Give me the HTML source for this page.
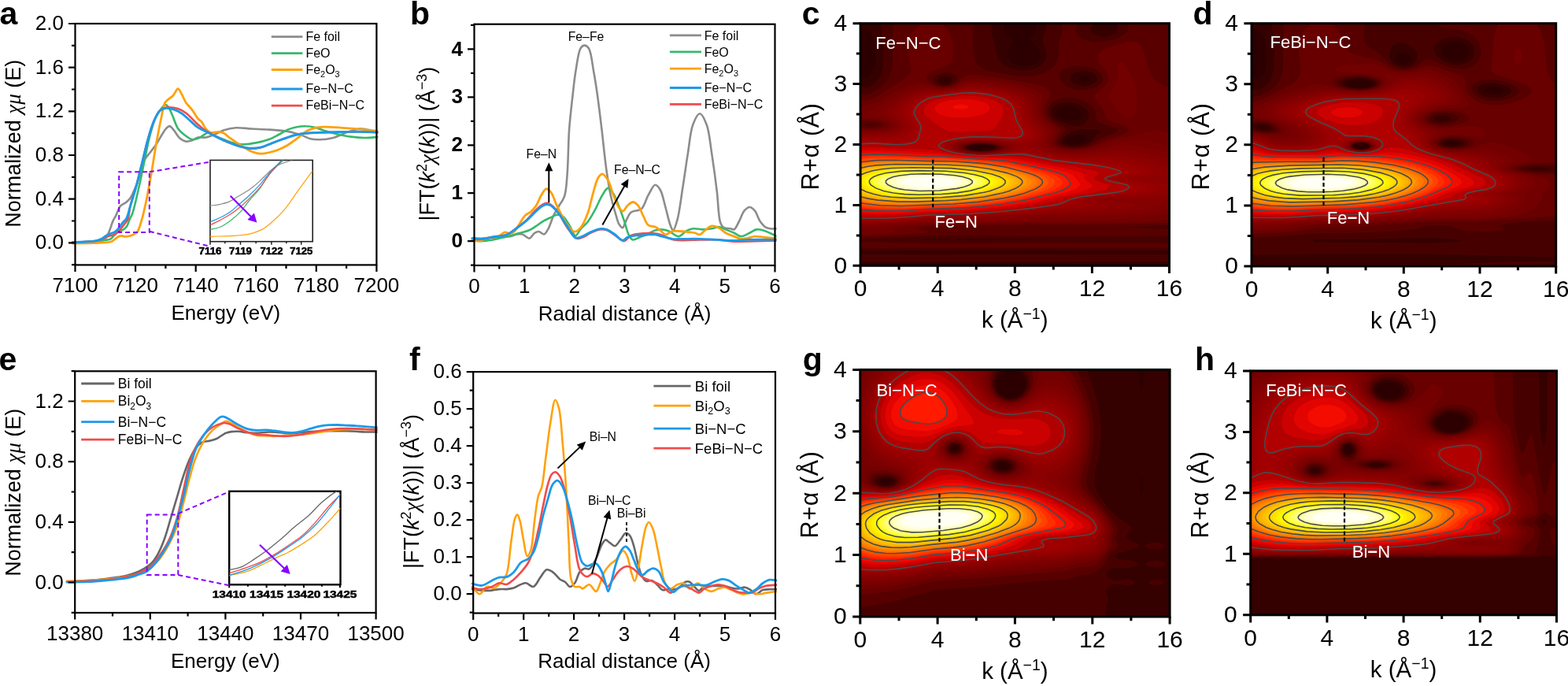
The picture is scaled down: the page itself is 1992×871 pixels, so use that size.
<!DOCTYPE html>
<html><head><meta charset="utf-8"><style>html,body{margin:0;padding:0;background:#fff;overflow:hidden}svg{display:block}</style></head><body>
<svg width="1992" height="871" viewBox="0 0 1992 871" font-family="'Liberation Sans', Arial, sans-serif">
<rect width="1992" height="871" fill="#fff"/>
<clipPath id="hcc"><rect x="1093.1" y="29.7" width="392.4" height="307.6"/></clipPath>
<g clip-path="url(#hcc)">
<rect x="1093.1" y="29.7" width="392.4" height="307.6" fill="#2c0000"/>
<path d="M1093.1 337.3l392.4 0 0-307.6 -171 0 1.7 2.6 .6 2.5 -.4 2.6 -1.2 2.6 -5.9 7.6 -.4 2.6 1.5 2.6 5.9 5.5 3.7 4.7 1.8 5.1 -.6 5.2 -1.3 2.5 -2.2 2.6 -3.9 2.8 -4.9 1.9 -7.3 .9 -7.4-1 -5.2-2 -3.8-2.6 -2.3-2.6 -1.5-2.5 -.9-2.6 .1-5.1 1.3-3.7 4.9-9.1 -.5-2.6 -6.8-6.3 -3.2-3.9 -1-2.6 0-2.6 .9-2.5 2-2.6 -185.1 0 0 11.4 2.5-2.7 2.4-1.4 2.5-.1 2.4 1.1 1.9 2 3 4.9 3.1 10.4 1.7 15.4 -.4 7.7 -.8 5.1 -1.5 5.2 -3.1 5.1 -2.9 2.5 -3.4 1.3 -2.5-.2 -2.4-.9 -2.5-2 0 242.8zM1201 104.1l-1.6-.1 -.9-2.5 2.5-.4 1.7 .4 -1.1 2.5 -.6 .1zM1242.7 191.2l-4.9-.7 -6.7-1.9 -.2-2.5 6.9-2.1 7.4-.7 7.3 .3 9.7 2.5 -.4 2.5 -4.4 1.4 -7.2 1.2 -7.5 0zM1362.9 183.7l-4.9-.9 -3.8-1.9 -.9-2.5 1.7-2.6 5.4-3.1 4.9-1.2 4.9-.4 7.4 1.2 1.9 .9 1.6 2.6 -.8 2.6 -2.9 2.5 -7.2 2.4 -7.3 .4zM1355.5 153.1l-7.3-2.2 -5-3.3 -1.7-2.6 -.4-2.5 1.1-2.6 3-2.5 3-1.4 4.9-1 7.3 .3 7.4 2.4 3.4 2.2 2.1 2.6 .7 2.5 -.6 2.6 -3.2 3.4 -4 1.7 -3.3 .7 -7.4-.3zM1372.7 102.6l-1.8-1.1 -.4-2.6 4-2.6 3.1-.3 3.4 .3 4.2 2.6 -.3 2.6 -4.9 2.3 -4.9-.2 -2.4-1z" fill="#350000" fill-rule="evenodd"/>
<path d="M1093.1 329.6l0 2.6 392.4-.1 0-9.4 -306.6 .2 -85.8-.5 0 7.2zM1093.1 316.8l0 1.9 88.3-.9 304.1 .2 0-13.7 -16.4-.3 16.4-.3 0-274 -69.4 0 3.1 2.6 1.4 2.5 0 2.6 -1.3 2.6 -2.9 2.5 -4.5 2.1 -4.9 1.3 -4.9 .5 -4.9-.4 -4.9-1.3 -3.7-2.2 -2.1-2.5 -.8-2.6 .4-2.6 1.6-2.5 3.2-2.6 -63.1 0 1 2.6 .2 5.1 -4.1 10.2 -.5 2.6 1.1 5.1 3.9 10.3 .3 5.1 -1.4 5.1 -3.6 5.2 -6 4.4 -7.3 3 -9.8 1.3 -9.8-.8 -9.5-2.8 -5.2-2.6 -3.7-2.5 -4.7-5.2 -3.4-7.7 -1.8-12.8 -3.8-12.8 -.3-5.1 .5-2.6 2.3-5.1 -143.8 0 2.5 15.4 1.6 20.5 -.3 15.4 -1.9 10.2 -3.3 7.7 -3.8 5.1 -2.9 2.7 -4.1 2.5 -3.3 1.1 -4.9 .5 -4.9-1.2 0 207.2zM1169.1 304l12.3-.5 73.6-.1 82.5 .6 -87.4 .7 -68.7-.1 -12.3-.6zM1353.1 184l-1.3-.5 -3-2.6 -.4-2.5 1.3-2.6 5.8-4.9 7.4-3.8 7.3-2.6 4.9-.7 12.3 .6 10.4 1.2 -.1 2.5 -2.9 1.6 -2.5 2.1 -5.3 6.6 -3 2.5 -5.2 2.6 -6.1 1.5 -7.4 .8 -7.3-.6 -4.9-1.2zM1196.1 106.9l-2.4-1 -2.7-1.9 -.4-2.5 3.1-3.2 2.4-1 4.9-.8 4.9 .6 3.5 1.8 1.1 2.6 -1.2 2.5 -3.4 2.2 -4.9 1 -4.9-.3zM1237.8 191.4l-9.5-2.8 -.3-2.5 7-2.6 10.2-.8 12.7 .8 7.5 2.6 -.4 2.5 -8.3 2.6 -9.1 .6 -9.8-.4zM1358 158.4l-12.3-4.3 -4.9-2.9 -3.8-3.6 -1.4-2.6 -.4-2.5 .4-2.6 1.4-2.5 3.8-3.6 4.9-2.5 4.9-1.1 4.9-.4 7.4 .6 7 1.8 5.2 2.4 3.9 2.8 2.4 2.5 1.4 2.6 .5 2.5 -.1 2.6 -2.1 5.1 -3.5 4.3 -2.5 1.7 -4.9 1.3 -4.9-.1 -7.3-1.5zM1375.1 109.3l-7.3-1.5 -3-1.2 -3.6-2.6 -1.8-2.5 -.3-2.6 1-2.6 2.7-2.5 5-2.3 4.9-1.1 4.9-.2 4.9 .6 4.9 1.5 2.8 1.5 2.8 2.5 1.2 2.6 -.1 2.6 -1.6 2.5 -2.6 2.1 -7.4 2.7 -7.4 .5z" fill="#470000" fill-rule="evenodd"/>
<path d="M1093.1 314.2l0 1 88.3-.9 304.1 .2 0-5.5 -85.8-.3 -218.3 .6 -88.3-2.3 0 7.2zM1093.1 301.4l0 1.6 88.3-3.5 107.9-.1 117.7 .6 78.5-.6 0-8.2 -55-2.6 55-2.8 0-256.1 -53.9 0 1.5 2.6 .5 2.5 -.3 2.6 -1.3 2.6 -2.1 2.5 -3.4 2.6 -7.2 3.6 -7.4 2.4 -9.8 1.9 -7.3 .6 -7.4-.4 -7.4-1.6 -4.9-2.2 -5.7-4.3 -3.1-5.1 -.3-2.6 .4-2.6 2.9-5.1 -21.1 0 1.7 5.1 -.1 5.2 -4.2 12.8 -.6 15.3 -.9 5.2 -1.7 5.1 -2.7 5.1 -5.2 5.2 -8.4 4.3 -9.8 3 -12.3 1.2 -17.2-1.3 -25.7-4.7 -9.2-2.5 -5.7-2.6 -3.5-2.6 -2.1-2.5 -2.3-5.2 -1.9-10.2 -.5-10.3 .1-12.8 .7-7.7 1.1-5.1 -103 0 -.8 17.9 -.1 33.4 -.9 7.7 -2.4 7.6 -3 5.2 -4.1 5.1 -5.6 5.1 -5.2 3.6 -4.9 2.5 -4.9 1.6 -4.9 .5 -4.9-.3 0 181.8zM1098 158.2l-.7-.3 3.2-.9 4.9-.5 7.8 1.4 -2.9 1.7 -4.9 .7 -7.4-2.1zM1191.2 107.5l-2.3-.9 -3-2.6 -1-2.5 .6-2.6 .8-.9 1.7-1.7 3.2-1.7 7.4-2 7.3-.1 4.9 1.2 4.1 2.6 1 2.6 -.5 2.6 -1.7 2.5 -3.5 2.6 -4.3 1.6 -4.9 .9 -4.9-.2 -4.9-1.4zM1232.9 191.3l-7.2-2.7 -.4-2.5 5.6-2.6 6.9-1.1 7.4-.4 14.7 1 2.5 .5 6.1 2.6 -.5 2.5 -8.1 2.8 -14.7 1 -12.3-1.1zM1301.6 288.7l-2.4-.1 45.6 0 -43.2 .1zM1353.1 186.3l-6.7-2.8 -2-2.6 -.1-2.5 1.4-3 6.5-7.3 1.6-2.5 -.6-2.6 -3.1-2.6 -9.3-5.2 -4.9-3.6 -3.6-4 -1.3-2.6 -.5-2.5 .9-5.1 3.3-5.2 3.7-3.3 7.3-3.8 7.4-1.7 9.8 0 7.3 1.8 7.4 3 7.3 4.7 4.5 4.5 2.7 5.1 1.6 10.2 2.2 2.6 6.2 2.5 10.3 2.6 4.4 1.7 2 .9 1.9 2.6 -2 2.5 -6.2 2.6 -12.8 4 -14.3 8.8 -5.4 1.9 -7.3 1.5 -7.4 .6 -12.2-1.2zM1367.8 114.5l-7.4-2 -4.9-2.5 -4.5-3.4 -4.3-5.1 -1.5-5.2 .5-2.5 1.3-2.6 3-2.5 5.5-2.5 7.4-2 9.8-.6 7.3 .7 4.9 1.1 7.4 3.1 4.9 3.5 3.3 4.3 .7 2.6 -.2 2.6 -1.1 2.5 -2.7 3.2 -4.9 3.3 -4.9 2.1 -7.4 1.7 -7.3 .7 -4.9-.5z" fill="#580000" fill-rule="evenodd"/>
<path d="M1093.1 298.8l0 1.2 19.6-.5 63.2-3.2 3-2.6 -11.7-2.5 1.5-2.6 12.7-1.3 125.1-2.3 117.7-.4 61.3-1.6 0-172.2 -7.4-2.1 -4.9-2.6 -4.9-3.9 -2.8-3.3 -3.2-5.1 -3.4-7.7 -6.8-23.1 -2.7-5.1 -3.1-3.1 -2.5-1.2 -3.5-.8 -8.8 .6 -16.8 4.5 -7.1 2.6 -5.1 2.5 -3.5 2.6 -2.2 2.5 -1.3 2.6 -.6 5.1 .8 2.6 1.6 2.6 7.3 8.5 2.7 4.3 1.3 5.1 -.3 2.6 -2.3 5.1 -2.1 2.6 -12.3 10.2 -1.2 2.6 .7 2.5 9.7 12.9 3.6 10.2 1.4 2.6 3.1 2.5 3 1.3 18.1 6.4 3.4 2.6 .6 2.6 -2 2.5 -5 2.6 -22.4 6.3 -12.9 6.5 -9.2 3.3 -9.7 1.8 -7.5 .5 -7.3-.3 -7.4-1.3 -4.8-1.4 -2.5-1.6 -1.5-1 -1.4-2.6 .2-2.5 1-2.6 4.7-7.7 .5-2.5 -1.1-2.6 -2.8-2.6 -10.4-7.7 -4-4.4 -1.6-3.3 -.6-2.5 .5-5.1 1.7-5 5.4-10.4 .7-2.6 -.2-2.5 -1.6-2.6 -4.3-3 -9.8-3.5 -12.2-2.6 -34.4-5.5 -36.8-4.7 -4.9 .2 -4.9 1.6 -7.8 7.2 -3.6 2.6 -5.8 2.6 -4.8 .9 -7.4 .2 -6.5-1.1 -6.1-2.6 -3.6-2.6 -2.3-2.5 -1.2-2.6 .1-2.6 2.4-3.4 7.4-3.9 17.8-5.5 3.4-2.5 1.4-2.6 1.2-5.1 .7-7.7 -.2-7.7 -1.3-7.7 -2.8-7.7 -3.1-5.1 -4.8-4.9 -4.6-2.8 -22.4 .3 -4.9 3.1 -4.9 4.9 -3 4.5 -3.1 7.7 -1.5 7.7 -.1 7.7 3.3 23.1 -.5 2.5 -1.2 2.6 -2.2 2.5 -6.7 5.2 -31.8 20.5 -7.2 3.3 -4.9 1.5 -9.8 .9 0 25.9 7.4-.7 9.8 .5 8.6 1.9 3.9 2.6 -1.1 2.5 -9 2.2 -9.8 .3 -9.8-1.1 0 137zM1230.4 191.4l-7.1-2.8 -.4-2.5 4.6-2.6 2.9-.7 7.4-1.1 7.4-.4 9.8 .4 7.3 1 3.9 .8 5.3 2.6 -.6 2.5 -1.2 .6 -5.2 2 -7.1 1.1 -14.7 .6 -12.3-1.5zM1388.1 296.3l29.2 0 -15.2-.4 -14 .4z" fill="#680000" fill-rule="evenodd"/>
<path d="M1093.1 296.3l0 1.3 32.6-1.3 12.8-2.6 -3.8-2.5 7.5-2.6 36.7-3.4 137.4-2.5 110.3-.6 38.3-1.2 20.6-2 0-110.6 -14.7-2 -7.4-.1 -4.9 .6 -22.4 6.4 -24.2 5.3 -7.3 2.4 -12.2 5.2 -9.9 2.7 -7.4 1.2 -9.8 .6 -7.3-.3 -7.4-1 -9.8-3.1 -3.3-2.7 -.9-2.6 .4-2.5 4.4-10.3 0-2.5 -1.4-2.6 -2.6-2.6 -6.4-5.1 -4.9-5 -3-5.3 -.7-5.1 2-12.8 -.8-5.1 -1.6-2.6 -2.8-2.5 -7.8-4.1 -14.7-4.4 -14.8-3.1 -19.6-3 -22.1-2.2 -9.8 .7 -4.9 1.5 -13 6.9 -6.6 1.8 -4.9 .7 -9.8-.6 -17.2-4.8 -4.9-.7 -4.9 .3 -7.3 1.8 -7.4 2.7 -12.3 5.6 -19.6 11.4 -7.3 3.7 -7.4 2.5 -9.8 1.5 0 14.8 9.8 0 12.3 1.6 9.8 3.2 3.8 3.2 -.6 2.5 -5.3 2.6 -2.8 .6 -12.3 1.1 -14.7-.6 0 132.2zM1228 191.6l-7-3 -.6-2.5 4.1-2.6 10.8-2.3 12.3-.5 12.3 .8 10 2 4.7 2.6 -.8 2.5 -4.1 1.8 -4.9 1.4 -7.4 1.2 -14.7 .4 -14.7-1.8zM1427.2 147.6l4.3 1.1 4.9 0 2.9-1.1 1.9-2.6 2.9-12.8 .5-10.2 -.7-5.1 -2-7.7 -7.9-20.1 -2.5-5.1 -2.4-3.4 -2.5-1.8 -2.4-.5 -2.5 1.2 -1.9 4 1.1 12.8 -1 5.2 -2.3 5.1 -6.9 10.3 -1.1 2.5 -.3 2.6 .6 2.5 2 4.1 9.8 14.5 2.5 2.6 3 1.9z" fill="#730000" fill-rule="evenodd"/>
<path d="M1093.1 288.6l0 .6 29.4-1.4 58.9-4.3 46.6-.5 103-2.9 90.7-1.6 17.2-1.4 46.6-5.6 0-87.5 -24.5-4.8 -9.8-.9 -9.8 0 -12.3 1.1 -12.3 1.9 -24.4 7.3 -14.8 2.8 -17.2 .6 -14.7-2 -7.3-2.5 -2.8-1.4 -2.4-2.6 -.4-2.6 3.7-10.2 .5-2.6 -.4-2.5 -1.5-2.6 -2.5-2.6 -8.3-7.7 -3.7-5.1 -1.7-5.1 0-12.8 -1.4-5.2 -1.7-2.5 -2.8-2.6 -6.5-3.6 -12.3-4.3 -14.7-3.4 -19.6-3.1 -19.7-1.7 -7.3 .3 -4.9 1 -14.7 5.6 -9.8 2.3 -9.8 .2 -19.7-2.8 -4.9 .1 -7.3 1.4 -12.3 4.3 -9.8 4.7 -37 22.1 1.2 2.5 21.1 6.8 6.7 3.5 2.1 2.6 -.4 2.5 -1.1 .9 -2.5 1.7 -2.4 .8 -8.3 1.8 -11.3 .7 -14.7-.4 0 122.7zM1240.2 193.8l-7.3-.7 -9.1-1.9 -5.1-2.6 -.6-2.5 3.5-2.6 6.4-1.8 7.3-1.2 9.9-.5 9.8 .3 9.8 1.2 8.7 2 4.3 2.6 -1 2.5 -5.7 2.6 -3.9 .9 -12.2 1.7 -14.8 0z" fill="#790000" fill-rule="evenodd"/>
<path d="M1093.1 286l0 .5 2.5 0 29.4-.8 56.4-3.6 64.8-1.2 96.3-5.1 69.4-2.2 41.5-2.9 18.7-2.6 8.5-1.9 4.9-1.2 0-70.7 -14.7-4 -14.7-3.1 -12.3-1.9 -9.8-.7 -9.8 .3 -7.4 .9 -26.9 5.8 -14.8 1.8 -17.1 0 -15.1-2.2 -9.5-3.4 -2.8-1.7 -1.8-2.6 0-2.6 3.8-10.2 .2-2.6 -.7-2.5 -1.6-2.6 -10-10.3 -3.4-5.1 -1.7-5.1 -.8-10.3 -1.5-5.1 -1.6-2.6 -2.6-2.5 -7.3-4.4 -12.3-4.3 -14.7-3.4 -17.2-2.7 -17.2-1.4 -7.3 .3 -4.9 .8 -15.2 4.8 -9.3 1.9 -9.8 .3 -17.2-1.4 -9.8 1.1 -12.3 4.1 -13.4 6.8 -18.1 12.9 -2.9 2.5 -1.7 2.6 .9 2.5 3.7 2.6 9.4 4.7 4.2 3 1.7 2.6 -.2 2.5 -2.7 2.6 -6.6 2.6 -8.6 1.4 -12.3 .7 -14.7-.1 0 118.4zM1235.3 193.9l-14-2.7 -4.9-2.6 -.7-2.5 3.1-2.6 6.7-2.1 9.8-1.6 9.9-.4 12.2 .4 9.8 1.3 10.1 2.4 4 2.6 -1.2 2.5 -3.1 1.4 -2.6 1.2 -9.6 2 -14.7 1.3 -14.8-.6z" fill="#7f0000" fill-rule="evenodd"/>
<path d="M1093.1 283.5l0 1.5 24.5-.3 31.9-1.6 31.9-2.5 31.9-.4 31.9-1.2 89.7-5.8 79.5-3.3 21.9-1.8 17.4-2.6 11.1-2.5 7.5-2.6 8.4-5.1 4.8-1.8 0-50.3 -9.8-3.6 -14.7-4.1 -14.7-3 -12.3-1.7 -9.8-.5 -7.4 .2 -31.9 4 -19.6 .8 -9.8-.4 -9.8-1.3 -9.8-2.3 -6.8-2.7 -4-2.5 -1.2-2.6 .6-2.6 3.6-7.7 .6-2.5 0-2.6 -.9-2.5 -1.6-2.6 -9.5-10.3 -3.2-5.1 -1.6-5.1 -1.6-10.3 -2.3-5.1 -4-4 -4.9-3.1 -7.3-3.1 -7.4-2.3 -22.1-4.5 -14.7-1.7 -9.8-.5 -9.8 .9 -17.2 4.6 -7.3 1.2 -7.4 .4 -17.2-.5 -7.3 .7 -12.3 3.8 -11.2 5.5 -11 7.7 -8 7.7 -1.3 2.6 .4 2.5 2.5 2.6 9 6.5 2.8 3.8 -.2 2.5 -2 2.6 -5.5 2.8 -9.8 2.3 -12.3 1 -19.6 .2 0 114.2zM1230.4 193.8l-11.5-2.6 -4.8-2.6 -.9-2.5 2.7-2.6 7.5-2.6 9.5-1.5 12.3-.7 14.7 .7 11.6 1.5 10.1 2.6 3.8 2.6 -1.6 2.5 -5.9 2.6 -11.9 2.6 -18.4 1.2 -17.2-1.2z" fill="#850000" fill-rule="evenodd"/>
<path d="M1093.1 283.5l36.8-.5 27-1.6 24.5-2.4 31.9-.5 31.9-1.4 85.8-5.9 68.7-4 19.1-1.7 16.9-2.5 8-2.6 -4.6-2.6 -33.7-2.5 -.9-2.6 14.8-.7 41.7-.8 14.7-1.9 9.8-3 0-18.8 -1.1-.4 1.1-.6 0-14.1 -9.8-5 -9.8-3.7 -14.7-4.1 -14.8-2.8 -12.2-1.4 -9.8-.3 -36.8 1.9 -19.6-.2 -9.8-1 -9.8-1.8 -9.7-2.8 -6.2-2.6 -3.9-2.5 -.6-2.6 5.2-7.7 1.5-5.1 -.2-2.6 -2.6-5.1 -8.9-10.3 -3.1-5.1 -1.6-5.1 -1.4-7.7 -2-5.1 -3.3-4 -4.9-3.5 -12.3-5.1 -9.8-2.6 -12.3-2.3 -12.2-1.6 -12.3-.8 -9.8 .7 -16.4 3.8 -8.1 1.3 -22.1 .5 -7.4 .9 -9.8 2.8 -12.2 6.2 -8.6 6.2 -7 7.7 -1.2 2.6 .2 2.5 1.7 2.6 8.2 7.7 1.3 2.6 0 2.5 -1.6 2.6 -2.9 2.1 -7.3 3 -9.8 1.9 -31.9 1.1 0 112.4zM1228 194l-11.6-2.8 -4.7-2.6 -1-2.5 2.3-2.6 7.6-2.8 9.8-1.8 14.8-.9 14.7 .6 14.7 1.9 12.1 3 3.9 2.6 -2.2 2.5 -6.6 2.6 -14.6 3 -19.6 1.2 -19.6-1.4z" fill="#8b0000" fill-rule="evenodd"/>
<path d="M1093.1 280.9l0 1.5 31.9-.4 27-1.6 29.4-2.9 31.9-.6 34.3-1.7 117.7-8.8 29.5-2.6 6.9-.8 8.8-2.6 -22.2-5.1 1.5-2.6 19.7-2 39.2-1.7 14.3-1.4 7.8-1.9 4.9-2.2 4.8-3.6 1.7-2.6 -.3-2.5 -4.8-2.6 -6.3-1.3 -27.6-3.8 27.6-4.1 3.9-1 3.1-2.6 -1.3-2.6 -8.2-5.1 -7.3-3.1 -9.8-3.2 -17.2-3.9 -17.2-2.1 -14.7-.5 -34.3 .1 -19.6-1.3 -17.2-3.4 -24.4-8.2 2.6-2.6 2.2-1 4.9-3.6 2.4-2.9 1.3-2.8 .5-2.5 -.3-2.6 -2.7-5.1 -6.5-7.7 -3.5-5.1 -2.2-5.2 -3.4-12.8 -3.8-5.1 -3.9-2.9 -7.4-3.6 -7.3-2.6 -9.8-2.4 -12.3-2.3 -12.2-1.3 -9.9-.4 -7.3 .5 -22.1 4.2 -27 1.8 -7.3 1.6 -7.4 2.7 -7.3 4 -4.8 3.3 -5.7 5.1 -3.9 5.1 -1 2.6 .1 2.5 1.2 2.6 6.7 7.7 1.2 2.6 .1 2.5 -1.2 2.6 -2.7 2.6 -7.2 3.6 -9.8 2.3 -9.8 .9 -27 .8 0 107.7zM1225.5 194.1l-11.6-2.9 -4.7-2.6 -1.3-2.5 2.9-3.1 5-2.1 4.8-1.2 12.3-1.8 12.3-.6 14.7 .5 14.7 1.7 20.1 4 6.4 2.6 -6 2.5 -8.5 2.6 -11.7 2.6 -10.1 1.3 -19.6 .7 -19.7-1.7z" fill="#910000" fill-rule="evenodd"/>
<path d="M1093.1 280.9l14.7 .3 22.1-.7 24.5-1.6 27-2.9 34.3-.6 31.9-1.6 56.4-4.3 63.8-6.2 15.9-2.9 -1.8-2.6 -4.6-2.5 2.9-2.6 17.3-2.6 41.4-2.4 12.3-1.5 6.2-1.2 6.3-2.5 3.6-2.6 1.8-2.6 -1.2-2.5 -6.9-2.1 -24.6-3.1 -9.9-2.5 10.3-2.6 19.7-2.5 6.5-2.6 -.9-2.6 -4-2.5 -5.8-2.6 -10.9-3.5 -12.3-2.8 -22.1-2.8 -41.7-1.6 -17.1-1.4 -14.8-2.5 -19.6-5.4 -7.3-1.4 -9.8 .4 -16.8 3.1 -12.7 1.6 -17.1 .9 -12.3-.4 -9.8-.9 -7.5-1.2 -9.2-2.6 -4.8-2.6 -1.6-2.5 1.7-2.6 6.7-3.1 9.8-2.2 14.7-1.5 17.2 0 44.1 4.6 4.9-.5 4.9-1.4 4.9-3.4 1.7-2.8 .4-2.5 -1.4-5.1 -7.8-10.3 -3.2-5.1 -2-5.1 -2.4-9.6 -1.5-3.3 -1.9-2.5 -3.9-3.5 -9.9-4.9 -7.3-2.4 -9.8-2.4 -22.1-3 -14.7 .1 -22.1 3.7 -27 2.5 -9.8 3 -9.8 5.3 -7.7 6.7 -3.5 5.1 -.9 2.6 0 2.5 .9 2.6 5.8 7.7 1.1 2.6 .2 2.5 -.9 2.6 -2 2.6 -3.3 2.5 -4.4 2.4 -4.9 1.9 -9.8 1.8 -36.8 1.3 0 105.4z" fill="#970000" fill-rule="evenodd"/>
<path d="M1093.1 278.3l0 1.4 4.9 .1 36.8-.8 19.6-1.5 24.5-2.5 39.3-.9 41.7-2.4 34.3-2.8 39.2-4.1 17.2-2.1 13.9-2.3 4.2-2.6 -.3-2.5 4-2.6 7.6-1.5 9.9-1.4 34.3-2.7 17.6-2.1 8.5-2.5 4.2-2.6 2-2.6 -2.1-2.5 -.8-.2 -11.1-2.4 -18.8-2.6 -7.1-2.5 6.8-2.6 16.4-2.5 8.7-2.6 -.5-2.6 -4.9-2.5 -9.1-3.1 -12.3-2.8 -22-3 -54-4.2 -13.9-2.3 -18-4.7 -9.8-1.6 -9.8 .2 -30.4 3.5 -21.1 .3 -12.3-.9 -12.8-1.9 -9.1-2.6 -5-2.6 -1.9-2.5 1.9-3 7.3-3.3 12.3-2.7 12.2-1.1 14.8-.3 14.7 .7 24.5 2.4 7.4 .2 7.3-1.3 4-1.9 2.2-2.6 .7-2.5 -.4-2.6 -2.6-5.1 -5.8-7.7 -2.9-5.1 -4.6-15.4 -2.8-4.2 -4-3.5 -4.5-2.6 -6.3-2.6 -17.1-4.4 -19.7-2.5 -14.7 .3 -19.6 3.1 -24.5 2.7 -10.8 3.4 -8.7 5.2 -5.5 5.1 -3.2 5.1 -.8 2.6 0 2.5 .9 2.6 5.1 7.7 1.1 2.6 .4 2.5 -.6 2.6 -1.4 2.6 -3.5 3.7 -7.3 5 -5 1.7 -7.3 1.3 -29.4 0 -12.3 .8 0 100.2z" fill="#9c0000" fill-rule="evenodd"/>
<path d="M1099.2 278.3l30.7-.4 19.6-1.2 31.9-3 31.9-.6 29.4-1.4 36.8-2.8 39.2-4.2 31.9-4.6 7.1-2.3 2.8-2.5 5-2.6 12.3-2.6 51.3-5.7 7.9-1.9 5-2.6 2.2-2.6 -2.7-2.5 -27-5.2 -5.5-2.5 4.7-2.6 12.4-2.5 8.4-2.6 -.7-2.6 -2.3-1 -7.3-2.5 -9.8-2.4 -19.6-3 -54-5.5 -9.8-1.7 -27-6.1 -12.2-.1 -34.4 2.6 -19.6-.3 -12.3-1.2 -10.9-1.8 -9.1-2.6 -5.5-2.6 -2.5-2.5 1.1-2.9 3.5-2.3 3.8-1.4 12.3-2.8 14.7-1.8 12.3-.4 14.7 .4 24.5 1.9 9.8-.1 4.9-.8 2.5-1.1 2.2-1.6 1.1-2.5 -.1-2.6 -1-2.5 -6.8-10.3 -2.5-5.1 -2.7-11 -1.7-4.4 -3.3-4.2 -4.5-3.5 -5.1-2.6 -7-2.5 -15.2-3.6 -17.2-1.9 -14.7 .5 -34.4 4.4 -7.3 1.4 -5.4 1.7 -5.5 2.6 -7.1 5.1 -2.4 2.6 -2.9 5.1 -.5 5.1 .8 2.6 6.1 10.3 .6 2.5 -.2 2.6 -2.3 5.1 -3.3 4.8 -2.5 2.9 -3.8 2.6 -5.9 1.7 -7.4 .9 -31.9-1.2 -14.7 .9 0 97.5 6.1 .1z" fill="#a20000" fill-rule="evenodd"/>
<path d="M1093.1 275.8l0 1.2 4.9 .2 34.3-.4 27-1.8 19.6-2 31.9-.6 29.4-1.4 54-4.6 46.6-6.3 8.9-2.3 10.7-5.1 11.4-2.6 47.5-6 7.3-1.6 2.5-1.1 3.1-1.5 2.5-2.6 -2.8-2.5 -23.5-5.2 -4.8-2.5 3.6-2.6 9.7-2.5 7-2.6 -1.5-2.6 -7.5-2.5 -7.9-1.8 -19.6-3.2 -49-5.9 -36.8-7.5 -12.3-.3 -34.3 2 -19.7-.6 -12.2-1.3 -11-1.9 -9.3-2.6 -6.1-2.6 -3.5-2.5 -.4-2.6 .9-.7 2.7-1.9 4.6-1.7 12.3-2.9 14.7-2 14.7-.7 44.1 1.6 5-.5 4.9-1.4 2.4-2.6 .2-2.6 -.9-2.5 -7.3-12.9 -3.6-15.3 -3.1-5.2 -2.7-2.5 -4-2.6 -5.6-2.6 -7.8-2.5 -9.3-2.1 -9.8-1.5 -9.9-.8 -14.7 .7 -28.5 3.7 -8.3 1.6 -9.4 3.5 -7.4 5.1 -4 5.2 -1.5 5.1 .2 2.5 .9 2.6 6.4 10.3 1 5.1 -3.5 12.8 -1.4 2.6 -3.9 2.5 -9.2 2 -7.4 .6 -9.8-.1 -24.5-1.5 -17.2 .7 0 93.2z" fill="#b10000" fill-rule="evenodd"/>
<path d="M1093.1 273.2l0 .7 14.7 .5 29.4-.4 44.2-3.3 27-.4 26.9-1.3 46.6-4.2 27-3.5 19.6-3.4 28-7.8 30.5-5.1 11.4-2.5 6.6-2.6 3.4-2.6 -1.1-2.5 -14-5.2 -3.4-2.5 1.3-2.6 3.8-2.5 1.1-2.6 -5.4-2.6 -18-3.9 -44.2-7.2 -29.4-6.2 -12.3-1.1 -34.3 .3 -19.6-.8 -17.2-2 -29.4-5.4 -14.7-1.3 -29.5-.4 -31.8-2 -17.2 .6 0 85.8zM1202.6 165.6l5.8 1.4 7.3 .4 36.8-1.6 7.4-1.1 3.6-1.7 1.3-1.3 7.3-11.6 2.8-7.6 -.4-5.1 -1.2-2.6 -2.3-2.6 -3.5-2.5 -5.2-2.6 -9.8-3 -14.7-2.4 -14.7-.3 -19.6 2.3 -12.3 2.3 -9.4 3.7 -3.7 2.5 -2.4 2.6 -1.4 2.6 -.6 2.5 .2 2.6 1.1 2.5 3.9 4.9 4.9 4 12.3 8.2 6.5 3.5z" fill="#cb0000" fill-rule="evenodd"/>
<path d="M1093.1 270.7l0 .5 17.2 .8 31.8-.4 39.3-2.8 24.5-.4 27-1.4 46.6-4.4 36.8-5.7 26.9-6.8 24-5.1 9.4-2.5 6.5-2.6 4-2.6 .8-2.5 -3-2.6 -4.3-2.6 -2.7-2.5 -.3-5.1 -3.1-2.6 -1.8-.7 -17-4.4 -63.9-12.7 -12.3-1.2 -44.2-1.3 -14.7-1.3 -26.9-3.4 -24.6-1.4 -56.4-2.5 -19.6 .7 0 79.5zM1200.2 147.6l8.2 1.5 9.8 .5 9.8-.3 9.8-1.2 7.4-1.7 7.3-2.9 4.2-3.6 .8-2.5 -.7-2.6 -2.4-2.6 -4.7-2.5 -8.3-2.6 -8.5-1.2 -7.4-.4 -9.8 .4 -9.3 1.2 -10 2.6 -5.1 2.5 -2.8 2.6 -1 2.6 .3 2.5 1.8 2.6 4.1 2.7 6.5 2.4z" fill="#e20400" fill-rule="evenodd"/>
<path d="M1093.1 268.1l0 .7 17.2 1 31.8-.1 39.3-2.7 41.7-1.3 44.1-3.8 22.1-3 17.2-2.9 45.4-11 8.2-2.5 6-2.6 4.2-2.6 2-2.5 -.8-2.6 -8.6-10.2 -5.3-2.6 -19.3-5.1 -41.6-9 -12.3-2.2 -14.7-1.3 -36.8-1.7 -39.2-3.6 -14.8-.2 -63.7-2.8 -9.8 0 -12.3 .8 0 73.8zM1211.1 137.4l4.6 1.2 7.4 0 5.7-1.2 1.3-2.6 -7-2.1 -4.9 .1 -7.3 2 .2 2.6z" fill="#f50c00" fill-rule="evenodd"/>
<path d="M1093.1 265.5l0 .9 17.2 1.3 34.3 .1 34.3-2.3 44.2-1.4 24.5-2 19.6-2.2 19.6-2.8 17.2-3.2 35.4-8.9 8.8-3.1 8.7-4.6 2.5-2.5 .4-2.6 -1.4-2.6 -4.3-5.1 -3.8-2.5 -6.3-2.6 -13-3.7 -22.1-5.1 -19.6-4.2 -12.3-2.1 -80.9-5.8 -17.2-.1 -61.3-2.5 -12.2 .2 -12.3 .9 0 68.5z" fill="#ff1a00" fill-rule="evenodd"/>
<path d="M1108.5 265.5l16.5 .7 17.1-.1 39.3-2.2 27-.7 29.4-1.9 29.4-3.2 29.5-5 17.1-4 14.8-4.1 9.8-3.7 7.3-4 2.7-2.5 1-2.6 -.7-2.6 -1.9-2.5 -2.9-2.6 -4.6-2.5 -6.7-2.6 -13.9-3.9 -22-5.2 -14.8-3.1 -12.2-1.9 -14.7-1.5 -56.4-3.7 -19.7 0 -61.3-2.1 -12.2 .3 -12.3 1.2 0 64.6 15.4 1.4z" fill="#ff2e00" fill-rule="evenodd"/>
<path d="M1101.6 263l23.4 1.5 27-.2 26.9-1.7 41.7-1.5 39.3-3.8 31.9-5.3 27.2-7 7.1-2.5 7.3-3.6 5.5-4.1 1.3-2.6 -.4-2.6 -1.9-2.5 -3.2-2.6 -5-2.5 -7-2.6 -33.4-8.6 -24.5-4.4 -25-2.4 -38.8-2.3 -22.1 .1 -56.4-1.8 -14.7 .3 -12.2 1.1 -2.5 .3 0 60.3 8.5 1z" fill="#ff4200" fill-rule="evenodd"/>
<path d="M1134 263l20.4-.3 24.5-1.5 41.7-1.5 27-2.4 24.5-3.4 27-5.7 18.4-5.7 8.6-4.3 4.3-3.4 1.5-2.6 -.3-2.6 -1.8-2.5 -3.5-2.6 -5.2-2.5 -12.2-4.1 -29.4-7.3 -26-4 -45.1-3.3 -29.5-.1 -44.1-1.4 -24.5 .2 -17.2 1.8 0 56.1 19.6 2.2 21.3 .9z" fill="#ff5600" fill-rule="evenodd"/>
<path d="M1113.4 260.4l16.5 1 17.2 .1 34.3-1.7 22.1-.4 29.4-2 27-3.2 26.9-5 12.3-3.2 10.5-3.5 6.7-3.2 6.4-4.5 1.6-2.6 -.2-2.6 -1.9-2.5 -3.6-2.6 -7.2-3.2 -12.3-4 -27-6.3 -26.9-3.9 -36.8-2.5 -29.5-.1 -44.1-1.2 -22.1 .3 -19.6 2.2 0 52 20.3 2.6z" fill="#ff6800" fill-rule="evenodd"/>
<path d="M1105.6 257.8l21.8 1.9 27 .3 61.3-2.5 34.4-3.4 29.4-5.1 12.3-3.1 10.4-3.4 6.7-3.1 3.7-2.1 3-2.5 1.7-2.6 -.1-2.6 -2-2.5 -3.7-2.6 -7.5-3.3 -12.2-3.8 -27-6.1 -24.6-3.4 -31.8-2.1 -29.5-.1 -44.1-1 -22.1 .6 -19.6 2.4 0 48.1 12.5 2z" fill="#ff7800" fill-rule="evenodd"/>
<path d="M1121.3 257.8l28.2 1 51.5-1.7 24.5-1.6 27-3.1 24.5-4.6 18.2-5.3 8.8-4.1 5-3.6 1.7-2.6 0-2.6 -2-2.5 -3.8-2.6 -5.7-2.5 -12.4-4 -24.5-5.6 -27-3.6 -29.4-1.8 -71.1-1 -22.1 .9 -19.6 2.7 0 44.2 12.3 2.3 15.9 1.7z" fill="#ff8800" fill-rule="evenodd"/>
<path d="M1111.8 255.3l20.5 1.8 24.6 .3 51.5-1.9 34.3-3.1 27-4.7 18.9-5.2 8.1-3.6 6.1-4.1 1.8-2.6 -.1-2.6 -2-2.5 -3.9-2.6 -5.8-2.5 -13.3-4.2 -24.5-5.2 -24.6-3 -26.9-1.5 -68.7-.8 -22.1 1.1 -19.6 3.1 0 40.3 18.7 3.5z" fill="#ff9800" fill-rule="evenodd"/>
<path d="M1126 255.3l28.4 1 44.2-1.4 24.5-1.6 22.1-2.6 22-4.1 17.2-5 9.1-4.3 3.4-2.5 1.8-2.6 -.1-2.6 -2-2.5 -4-2.6 -6-2.5 -12-3.7 -24.5-5.1 -24.6-2.9 -24.5-1.2 -66.2-.5 -22.1 1.3 -9.8 1.4 -9.8 2.1 0 36.3 14.7 3.3 18.2 2.3z" fill="#ffa600" fill-rule="evenodd"/>
<path d="M1116.2 252.7l21 2 24.6 .3 44.1-1.6 31.9-2.9 24.5-4.4 17.2-5 8.2-3.8 3.5-2.5 1.9-2.6 -.1-2.6 -2.1-2.5 -4.1-2.6 -6.1-2.5 -11-3.3 -24.5-4.9 -24.6-2.7 -22-.9 -63.8-.4 -22.1 1.6 -9.8 1.6 -9.8 2.4 0 32.2 9.8 2.7 13.3 2.4z" fill="#ffb300" fill-rule="evenodd"/>
<path d="M1128.7 252.7l25.7 1.2 39.3-1 22-1.2 22.1-2.5 22.6-4.2 16.5-5.1 5.2-2.6 3.6-2.5 1.9-2.6 0-2.6 -2.2-2.5 -4.2-2.6 -6.4-2.5 -10-3 -22.1-4.3 -27-2.8 -53.9-1.2 -27 .3 -12.3 .8 -12.2 1.5 -9.8 2 -7.4 2.1 0 27.9 7.4 2.4 9.8 2.4 18.4 2.6z" fill="#ffc000" fill-rule="evenodd"/>
<path d="M1152.5 252.7l53.4-1.4 19.6-1.7 17.2-2.4 14.7-3.1 13.7-4.2 5.5-2.6 3.7-2.5 2-2.6 0-2.6 -2.2-2.5 -4.4-2.6 -6.7-2.5 -9.1-2.6 -22.1-4.2 -27-2.5 -51.5-1 -27 .6 -22 2.5 -8.9 2 -8.3 2.8 0 23.2 12.3 4.4 12.2 2.6 17.2 2.1 17.7 .8z" fill="#ffce00" fill-rule="evenodd"/>
<path d="M1130.6 250.1l18.9 1.4 19.6 0 36.8-1.3 25.9-2.6 18.3-3.3 15.3-4.4 5.8-2.6 3.8-2.5 2.1-2.6 0-2.6 -2.3-2.5 -4.6-2.6 -6.9-2.5 -9.6-2.6 -23.3-3.9 -26.9-2.1 -46.6-.7 -27 1 -12.3 1.4 -9.2 1.7 -8.9 2.6 -6.4 2.8 0 17.7 4.9 2.6 9.8 3.4 9.8 2.3 13 1.9z" fill="#ffd900" fill-rule="evenodd"/>
<path d="M1146.8 250.1l17.4 .4 34.4-.9 19.6-1.5 17.1-2.3 16-3.3 13.5-4.7 5-3 2.2-2.6 0-2.6 -2.4-2.5 -4.8-2.6 -7.3-2.5 -10.4-2.6 -24-3.6 -27-1.6 -41.7-.5 -27 1.5 -11.2 1.6 -10.6 2.6 -6.8 2.6 -5.7 3.6 0 10.4 5.2 3.9 4.6 2.2 8.4 2.9 11.2 2.5 12.3 1.7 12 .9z" fill="#ffe400" fill-rule="evenodd"/>
<path d="M1132.5 247.6l17 1.5 19.6 .3 31.9-1 24.5-2.4 19.5-3.5 12.4-3.9 7.2-3.8 2.3-2.6 0-2.6 -2.5-2.5 -7-3.3 -9.8-2.8 -14.7-2.8 -27-2.7 -41.7-.8 -27 .9 -11.9 1.2 -10.1 1.9 -9.8 2.9 -4.9 2.3 -4.2 3.2 -1.4 2.5 .2 2.6 1.5 2.6 2.8 2.5 4.2 2.6 6 2.6 8 2.3 14.9 2.8z" fill="#ffef00" fill-rule="evenodd"/>
<path d="M1145.5 247.6l18.7 .7 27-.5 17.2-1.1 17.1-1.9 17.2-3.4 12.2-4.1 4.5-2.5 2.5-2.6 0-2.6 -2.6-2.5 -5.3-2.6 -8.8-2.6 -14.8-2.9 -26.9-2.6 -36.8-.7 -27 .9 -20.5 2.8 -9.1 2.6 -5.6 2.5 -3.3 2.6 -1.6 2.5 .2 2.6 1.7 2.6 3.9 3 7.3 3.5 13.3 3.7 19.5 2.6z" fill="#fffa00" fill-rule="evenodd"/>
<path d="M1134.9 245l14.6 1.6 17.2 .6 29.4-.7 19.6-1.6 17.2-2.8 14.7-4.1 6.6-3.2 2.6-2.6 0-2.6 -2.8-2.5 -5.6-2.6 -9.2-2.5 -13.7-2.5 -24.5-2.2 -34.3-.7 -22.1 .8 -19.6 2.4 -8.8 2.2 -6.4 2.5 -3.7 2.6 -1.7 2.5 .2 2.6 1.8 2.6 6.3 4.1 9.8 3.6 12.4 2.5z" fill="#ffff14" fill-rule="evenodd"/>
<path d="M1146.2 245l18 1 24.5-.3 14.8-.8 17.1-2 14.7-2.9 8.4-2.7 5.2-2.5 2.7-2.6 0-2.6 -2.9-2.5 -6.1-2.6 -10.1-2.5 -9.4-1.6 -22.1-2.1 -31.9-.7 -24.5 1 -17.2 2.3 -12 3.6 -4.1 2.6 -1.9 2.5 .1 2.6 2 2.6 3.7 2.5 4.9 2.2 9.8 3 16.3 2.5z" fill="#ffff3c" fill-rule="evenodd"/>
<path d="M1138.2 242.5l13.8 1.7 17.1 .7 24.6-.5 17.1-1.4 17.2-2.9 9.9-2.8 5.5-2.5 2.9-2.6 0-2.6 -3.1-2.5 -6.7-2.6 -13.4-2.9 -22.1-2.3 -29.4-.7 -22.4 .8 -19.1 2.6 -8.7 2.5 -4.8 2.6 -2.1 2.5 .1 2.6 .6 .7 1.6 1.9 4.1 2.5 6.5 2.6 10.8 2.6z" fill="#ffff64" fill-rule="evenodd"/>
<path d="M1148.6 242.5l13.2 1 12.2 .2 19.7-.5 17.1-1.6 10.9-1.7 11.2-3.1 4.8-2 3.2-2.6 0-2.6 -3.4-2.5 -7.1-2.5 -13.7-2.6 -20.6-1.9 -24.5-.4 -19.6 .7 -14.8 1.8 -9.8 2.4 -5.2 2.5 -2.4 2.5 .3 2.8 2.2 2.4 4.6 2.5 7.9 2.7 13.8 2.5z" fill="#ffff8c" fill-rule="evenodd"/>
<path d="M1168.4 242.5l25.3-.5 22-2.6 9.2-2.1 6.8-2.5 3.5-2.6 0-2.6 -3.8-2.5 -3.4-1.1 -4.9-1.5 -9.8-1.7 -17.2-1.6 -22.1-.4 -17.1 .5 -14.8 1.7 -7.3 1.5 -4.9 1.9 -1.7 .7 -2.8 2.5 .1 2.6 2.7 2.6 6.6 2.9 8 2.2 6.7 1.1 18.9 1.5z" fill="#ffffac" fill-rule="evenodd"/>
<path d="M1153.3 239.9l20.7 1.3 14.7-.3 14.8-1.1 14-2.5 7.8-2.5 3.9-2.6 0-2.6 -4.3-2.5 -14.1-3.2 -17.1-1.7 -19.7-.4 -17.1 .8 -14 1.9 -8.2 2.6 -3.3 2.5 0 2.6 3.1 2.6 6.4 2.5 12.4 2.6z" fill="#ffffc4" fill-rule="evenodd"/>
<path d="M1149.6 237.3l9.7 1.6 12.3 .8 14.7-.1 12.3-.9 10-1.4 9.6-2.5 4.4-2.6 0-2.6 -5-2.5 -12.7-2.6 -13.7-1.1 -14.7-.3 -12.3 .4 -11.1 1 -11 2.6 -4.2 2.5 0 2.6 3.7 2.6 8 2.5z" fill="#ffffdb" fill-rule="evenodd"/>
<path d="M1161.7 237.3l17.2 .9 19.7-1.2 12.2-2.6 4.5-2.2 -.1-2.6 -6.3-2.5 -7.9-1.3 -12.3-1.2 -12.2-.2 -9.8 .4 -9.8 1.1 -6.1 1.2 -5.4 2.5 -.1 2.6 4.6 2.6 11.8 2.5z" fill="#fffff3" fill-rule="evenodd"/>
<path d="M1093.1 277l34.3 0 29.5-1.8 22-2.2 54-1.6 34.3-2.4 39.3-4.1 24.5-3.2 12.3-2.1 6.4-1.8 10.7-5.1 11.4-2.6 47.5-6 7.3-1.6 2.5-1.1 3.1-1.5 2.5-2.6 -2.8-2.5 -23.5-5.2 -4.8-2.5 3.6-2.6 9.7-2.5 7-2.6 -1.5-2.6 -12.9-3.8 -19.6-3.4 -51.5-6.2 -36.8-7.5 -9.8-.4 -39.3 2.1 -12.3-.3 -12.3-1 -15.8-2.5 -9.3-2.6 -6.1-2.6 -3.5-2.5 -.4-2.6 3.6-2.6 2.2-.8 9.8-2.9 12.2-2.1 12.3-1.2 12.3-.3 41.6 1.6 5-.5 4.9-1.4 2.4-2.6 .2-2.6 -.9-2.5 -7.3-12.9 -3.6-15.3 -3.1-5.2 -4.9-4 -7.4-3.7 -7.8-2.5 -11.8-2.6 -17.2-1.8 -14.7 .7 -34.3 4.7 -7.4 2.1 -8.7 4.6 -5.5 5.1 -2.8 5.1 -.4 2.6 .3 2.8 .8 2.3 6.4 10.3 1 5.1 -3.5 12.8 -1.4 2.6 -3.9 2.5 -9.2 2 -7.4 .6 -9.8-.1 -24.5-1.5 -17.2 .7M1093.1 266.4l24.5 1.5 29.5-.2 31.8-2.2 46.6-1.6 22.1-1.8 22.1-2.5 34.3-5.7 35.4-8.9 8.8-3.1 8.7-4.6 2.5-2.5 .4-2.6 -1.4-2.6 -4.3-5.1 -3.8-2.5 -6.3-2.6 -13-3.7 -22.1-5.1 -19.6-4.2 -12.3-2.1 -80.9-5.8 -17.2-.1 -61.3-2.5 -12.2 .2 -12.3 .9M1093.1 257.8l24.5 2.9 27 .8 66.2-2.5 31.9-2.6 31.9-4.7 14.7-3.1 12.3-3.4 13.7-5.3 4.4-2.6 3-2.5 1.6-2.6 -.2-2.6 -1.9-2.5 -3.5-2.5 -5.5-2.6 -7.2-2.6 -29-7.4 -26.9-4.4 -39.3-2.9 -31.9-.2 -44.1-1.2 -22.1 .3 -19.6 2.2M1093.1 249.7l9.8 2.4 12.3 2 26.9 2 22.1 0 36.8-1.3 19.6-1.3 29.5-3.5 23.7-5 8.4-2.5 7.1-2.9 4.2-2.3 3.4-2.5 1.8-2.6 -.1-2.6 -2-2.5 -4.8-3 -12.3-4.5 -23.1-5.3 -26-3.5 -26.9-1.6 -66.3-.7 -24.5 1.4 -9.8 1.4 -9.8 2.1M1093.1 239.9l7.4 3.6 9.8 3.1 9.8 2.1 12.2 1.6 24.6 1.3 39.2-.9 29.4-2.3 24.6-4.1 7.4-1.8 9.7-3.4 4-1.8 3.8-2.5 2.1-2.6 0-2.6 -2.3-2.5 -4.6-2.6 -10.3-3.5 -22.1-4.5 -29.4-2.9 -49.1-.9 -27 .8 -12.2 1.3 -11.7 2 -8.9 2.6 -6.4 2.8M1134.9 245l14.6 1.6 17.2 .6 29.4-.7 19.6-1.6 17.2-2.8 14.7-4.1 6.6-3.2 2.6-2.6 0-2.6 -2.8-2.5 -5.6-2.6 -9.2-2.5 -13.7-2.5 -24.5-2.2 -34.3-.7 -22.1 .8 -19.6 2.4 -8.8 2.2 -6.4 2.5 -3.7 2.6 -1.7 2.5 .2 2.6 1.8 2.6 6.3 4.1 9.8 3.6 12.4 2.5M1168.4 242.5l25.3-.5 22-2.6 9.2-2.1 6.8-2.5 3.5-2.6 0-2.6 -3.8-2.5 -3.4-1.1 -4.9-1.5 -9.8-1.7 -17.2-1.6 -22.1-.4 -17.1 .5 -14.8 1.7 -7.3 1.5 -4.9 1.9 -1.7 .7 -2.8 2.5 .1 2.6 2.7 2.6 6.6 2.9 8 2.2 6.7 1.1 18.9 1.5" fill="none" stroke="#4a4a4a" stroke-width="1.6"/>
</g>
<clipPath id="hcd"><rect x="1590.0" y="29.7" width="386.7" height="308.3"/></clipPath>
<g clip-path="url(#hcd)">
<rect x="1590.0" y="29.7" width="386.7" height="308.3" fill="#2c0000"/>
<path d="M1590 338l386.7 0 0-308.3 -386.7 0 0 11.5 2.4-2.8 2.4-1.4 2.5-.1 2.4 1.1 1.9 2 2.9 5 2.4 7.3 1.1 5.7 1.3 15.4 -1.4 12.8 -1.6 5.2 -2.9 5.1 -3.7 3.2 -2.4 .7 -2.5-.2 -2.4-1 -2.4-2.2 0 241zM1602.1 162.2l-2-1.5 5.9 0 -1.5 2.5 -2.4-1zM1713.3 109.4l-3.6-2.6 .6-2.6 5.5-2.6 7.1-1 7.3-.1 7.5 1.1 5.5 2.6 .9 2.6 -3 2.5 -6.1 1.6 -4.8 .6 -7.3-.2 -9.6-1.9zM1725.3 189.2l-2.4-.6 -3.7-2.2 .5-2.6 5.6-2 4.9-.3 4.8 .8 3.4 1.5 .7 2.6 -4.1 2.4 -4.8 .7 -4.9-.3zM1780.9 81.5l-2.4-.5 -4-2.5 -1.7-2.6 -.4-2.5 .8-2.6 2.5-2.6 2.8-1.3 4.9-.4 4.8 1.3 3.5 3 1.1 2.6 -.2 2.5 -1.5 2.6 -2.9 1.9 -2.4 .9 -4.9 .2zM1838.9 184.2l-1.2-.4 -1.6-2.5 5.3-2.1 2.4-.3 4.8 .5 4.6 1.9 -1.5 2.5 -.7 .2 -4.8 .8 -7.3-.6zM1894.5 119.8l-2.4-.5 -5-2.2 -1.3-2.6 1.9-2.6 4.4-1.5 7.3-.3 7.6 1.8 2.9 2.6 -.7 2.6 -5 2.2 -4.8 .7 -4.9-.2zM1841.4 76.1l-4.9-2.5 -3.1-2.8 -1.7-2.6 -.8-2.5 .1-2.6 .9-2.6 1.9-2.5 2.7-2.2 7.3-2.7 4.8-.5 4.8 .5 7.3 2.9 2.5 2 2 2.5 1.2 2.6 .3 2.6 -.4 2.5 -1.1 2.6 -2.1 2.6 -2.4 1.7 -4.8 2 -4.9 .7 -4.8-.4 -4.8-1.3z" fill="#350000" fill-rule="evenodd"/>
<path d="M1590 338l386.7 0 0-6.7 -50.8 .6 -74.9 3 -43.5 .8 -217.5 .1 0 2.2zM1906.3 325.2l70.4 1.2 0-296.7 -361.8 0 2.8 18 1.4 20.5 -.5 15.5 -2 11.1 -1.5 4.3 -2.7 5.1 -5.5 6 -4.8 2.8 -4.8 1.3 -4.9-.2 -2.4-.7 0 210 82.2-.7 130.5 .1 43.5 .5 60.1 1.9zM1942.9 215l-1.6-.3 6.4-1.8 7.2-.6 7.3 .6 7.3 1.8 -4.9 1 -7.2 .6 -7.3-.2 -7.2-1.1zM1606.9 165.9l-4.8-.4 -7.3-1.9 -.8-.3 -2.2-2.6 3.4-2.5 6.9-.8 6.2 .8 5.8 2.5 .8 2.6 -.7 .6 -2.4 1.2 -4.9 .8zM1669.8 307.4l-2.3-.2 2-2.6 2.7-.2 55.6-.5 70.1-1.6 29 .3 31.4 2 -8.3 2.6 -35.2 1.1 -145-.9zM1887.3 122.7l-6.8-3.1 -2.7-2.5 -1-2.6 .4-2.6 2.2-2.6 5.6-2.5 9.5-1.2 12.1 1.3 7.6 2.4 4.1 2.6 1.7 2.6 -.3 2.6 -2.4 2.5 -8.3 3.3 -4.8 .9 -7.3 .3 -9.6-1.4zM1722.9 189.2l-4.9-2.8 .5-2.6 4.4-2.1 4.9-.7 4.8 .2 4.8 1.4 2.2 1.2 .6 2.6 -4.1 2.6 -5.9 .9 -7.3-.7zM1776.1 83.8l-5.2-2.7 -2.7-2.6 -1.7-2.6 -1.1-2.5 -.5-5.2 1.5-5.8 2.4-3.7 2.5-2.2 4.8-2.1 4.8-.2 7.3 2 7.2 4.6 4.1 4.9 1.5 5.1 -1.3 5.1 -1.7 2.6 -2.7 2.6 -4.7 2.6 -7.2 1.2 -7.3-1.1zM1824.4 153.5l-1.1-.5 -1.6-2.5 2.5-2.6 5.1-1.3 4.8-.2 4.8 .7 2.3 .8 2 2.6 -2.3 2.5 -4.4 1.3 -7.2 .3 -4.9-1.1zM1841.4 186.6l-4.9-1.1 -4-1.7 -1.1-2.5 2.9-2.6 2.2-.7 4.9-1 4.8-.1 9.7 1.6 3.7 2.8 -1.1 2.5 -5.1 2 -4.8 .8 -7.2 0zM1718.1 112l-10-2.7 -3.2-2.5 .1-2.6 3.7-2.6 4.6-1.4 12-1.4 7.3 .3 7.2 1.3 3.6 1.2 3.8 2.6 .5 2.6 -2.5 2.5 -5.4 1.9 -9.6 1.4 -12.1-.6zM1843.8 81.4l-9.7-3.6 -4.8-3.1 -4.3-3.9 -1.9-2.6 -1.7-5.1 .3-2.6 .9-2.5 1.9-2.6 4.8-3.8 4.8-2.3 4.8-1.4 7.3-.9 4.8 .1 7.3 1.5 4.8 2 3.4 2.2 4.7 5.2 2 5.1 0 5.1 -.8 2.6 -2 3.5 -4.9 4.4 -7.2 2.9 -7.3 .7 -7.2-.9z" fill="#470000" fill-rule="evenodd"/>
<path d="M1590 299.5l0 2.2 33.8-1.6 48.4-3.9 45.9-.5 41.5-1.4 31-2.5 26-5.2 7.8-.3 15.7 .3 8.9 2.6 5.3 2.6 8.8 1 16.9 1.2 14.5-.1 9.7-.9 7.1-1.2 -3.5-2.6 -1.8-2.6 8.6-2.6 21-2.6 41.1-1.7 0-61.4 -12.1 .7 -14.5-.4 -12-1.4 -7.5-2.5 2.9-2.6 11.8-1.8 16.9-.6 14.5 1.1 0-181.1 -152.9 0 3.4 2.6 6.6 2.5 19.6 3 9.7 2.8 4.8 2.4 4.9 3.4 5.5 6.4 2.5 5.2 1.2 7.7 -.7 5.1 -2.2 5.1 -3.9 5 -4.8 3.5 -7.3 2.5 -7.2 .7 -7.3-.5 -9.7-2.3 -19.3-8.4 -4.8-1.2 -4.9 1 -11.4 7.5 -7.9 3 -4.8 .8 -4.9 0 -4.8-.8 -4.8-1.7 -6.3-3.9 -13.1-13 -12.2-7.6 -4.8-5.1 -2-5.1 -.7-5.2 .5-7.7 1.9-7.7 -103.5 0 -.8 20.6 0 33.4 -.9 7.7 -2.1 7.7 -2.6 5.1 -4.1 5.1 -8.8 7 -6.3 3.3 -5.8 2.1 -4.9 .9 -4.8 .1 0 34.1 4.8-1.2 4.9-.3 9.6 1.1 7.3 2.7 2.5 1.6 1.2 2.6 -2.1 2.6 -1.6 .6 -7.3 1.2 -9.6-.9 -4.4-.9 -5.3-2 0 135.6zM1710.8 112l-7.8-2.7 -3.3-2.5 -.4-2.6 2.5-2.6 6.6-2.5 7.3-1.4 9.6-.6 9.7 .7 7.3 1.5 5.9 2.3 2.7 2.6 .2 2.6 -2.4 2.5 -6.1 2.6 -2.8 .6 -7.2 .9 -7.3 .2 -14.5-1.6zM1722.9 189.6l-2.4-.7 -3.5-2.5 .3-2.6 5.1-2.5 5.4-.8 4.8 .2 4.8 1.2 3.4 1.9 .4 2.6 -3.8 2.7 -7.2 1.1 -7.3-.6zM1822 156.4l-2.4-.9 -3.4-2.5 -.8-2.5 1.5-2.6 2.7-1.8 7.3-2.3 9.6-.7 9.7 1.4 2.5 .8 3.9 2.6 .8 2.6 -1.7 2.5 -3.1 1.8 -7.2 2.3 -9.7 .8 -9.7-1.5zM1834.1 186.6l-5.3-2.8 -.9-2.5 1.9-2.6 1.9-1 7.2-2.2 7.3-.5 9.7 1 7.5 2.7 2.2 2.6 -1.1 2.5 -5.1 2.6 -3.5 .8 -12.1 .8 -9.7-1.4zM1889.7 127.4l-4.8-1.1 -4.9-1.8 -4.2-2.3 -3.2-2.6 -1.9-2.5 -1.1-2.6 -.2-2.6 .6-2.6 2.8-3.5 4.8-2.9 7.3-1.7 7.2-.4 9.7 1 9.6 2 9 3 5.5 3 2.4 2.1 1.4 2.6 -.1 2.6 -1.7 2.5 -4.4 3.1 -7.2 2.9 -7.3 1.6 -7.2 .9 -12.1-.7z" fill="#580000" fill-rule="evenodd"/>
<path d="M1590 296.9l0 .3 19.3-.7 26.6-1.9 19.4-2.3 16.9-3 53.1-1.5 89.5-6.6 21.7-.4 38.7 .5 16.9-.5 60.4-5.3 24.2-1.3 0-52.3 -16.9-.4 -14.5-1.4 -16-2.9 -5.8-2.5 1.3-2.6 1.1-.4 14.5-3.4 21.8-1.6 14.5 0 0-99.6 -4-2.9 -2.3-2.6 -3.9-7.7 -1.9-8.7 -1.9-22.1 -1.6-10.3 -3.8-12.8 -5.2-10.3 -47.4 0 -2.8 5.1 -2.9 7.7 -1.5 7.8 -1.4 20.5 -1.8 12.9 .2 5.1 1.6 2.6 3.9 2.5 6.4 2.6 22 6.9 8.4 3.4 4.7 2.5 3 2.6 1.2 2.6 -.3 2.6 -1.5 2.5 -3.5 3 -7.2 4 -14.5 4.8 -9.7 1.9 -9.6 .8 -9.7-.8 -7.3-1.9 -7.2-3.6 -4.8-3.4 -4.7-4.8 -2.9-5.1 -1.1-5.2 -.3-7.7 -.7-1.6 -2.4-2.5 -2.4-1.4 -31.5-11.2 -7.2-1.9 -7.3 .4 -14.5 4.9 -7.2 1.4 -9.7 0 -7.2-1.6 -4.9-2.1 -12.1-7.2 -4.8-2.4 -7.2-2.1 -17.8-3.5 -6.9-2.6 -4-2.5 -4.3-5.2 -5.7-14.3 -3.1-6.2 -4.2-5.4 -2.7-2.3 -4.2-2.6 -21.3 0 -5.6 3.4 -4.4 4.3 -2.8 4.2 -2.5 5 -1.8 6.2 -.8 5.2 -.1 7.7 2.3 18 .2 5.1 -.8 5.1 -2.4 5.2 -4.9 5.1 -3.6 2.6 -23.2 12.8 -15.6 7.4 -7.3 2.3 -4.8 .8 0 23.5 12.1-.3 9.7 1.6 8.5 3.3 3.6 2.5 1.5 2.6 -.7 2.6 -3.3 2.1 -7.2 1.4 -9.7-.4 -14.5-3 0 130.9zM1720.5 189.4l-4.6-3 .2-2.6 4.3-2.5 2.5-.7 7.3-.6 4.8 .6 2.6 .7 4.3 2.5 .4 2.6 -3.3 2.6 -1.6 .5 -7.2 1.1 -4.9-.2 -4.8-1zM1819.6 158.3l-5.8-2.7 -2.4-2.6 -.6-2.5 1.2-2.6 3-2.6 4.6-2.1 4.8-1.4 12.1-1.4 14.5 1 9.7 2.6 2.9 1.3 2.5 2.6 0 2.6 -2.2 2.5 -4.5 2.6 -10.8 3.3 -7.2 1.2 -7.3 .3 -7.2-.5 -7.3-1.6zM1841.4 189.1l-9.7-2 -4.8-2.4 -1.2-.9 -.9-2.5 1.5-2.6 4-2.6 6.2-1.9 7.3-1 7.2 0 9.7 1.3 5.9 1.6 4.8 2.6 1.2 2.6 -1.4 2.5 -4.7 2.6 -3.4 1 -9.7 1.7 -12 0zM1722.9 114.5l-9.6-.9 -9.7-2 -6.4-2.3 -4-2.5 -1.4-2.6 1.3-2.6 .8-.6 7.3-3.2 9.6-1.9 12.1-.8 12.1 .8 9.7 2 7.2 3.2 2.7 3.1 -.2 2.6 -2.2 2.5 -5.3 2.6 -11.9 2.3 -12.1 .3z" fill="#680000" fill-rule="evenodd"/>
<path d="M1590 291.8l0 1.4 31.4-1.7 16.9-1.7 33.9-4.6 70.1-2 79.7-4.8 62.9-.3 19.3-1.4 14.5-1.9 9.7-1.8 9.6-2.9 8.2-4 6.3-4.9 5.2-5.4 1.5-2.6 .3-2.6 -.4-2.5 .7-2.6 5.5-5.1 1.7-2.6 .9-5.1 -.5-2.6 -2-2.6 -6.1-2.5 -30.9-6.2 -5.7-1.6 -5.1-2.5 .4-2.6 3.1-1.6 19.9-6.1 3-2.6 -1.6-2.5 -9.2-6 -9.7-4.7 -9.6-3.7 -12.1-3.4 -9.7-1.1 -4.8 1.3 -11.2 4.7 -8.2 2.1 -9.6 1.5 -9.7 .5 -7.2-.4 -7.6-1.1 -7.6-2.6 -3.3-2.6 -.9-2.5 1.1-2.6 1.3-1.3 4.9-3 7.2-2.5 9.7-1.2 4.8-.1 29 2.7 4.9-.9 1.5-1.4 .2-2.6 -1.7-2.8 -2.7-2.3 -7-2.5 -9.7-.3 -24.1 2.6 -12.1-.5 -7.3-1.4 -7.2-2.3 -5.6-3.3 -1.9-2.6 -.4-2.5 1-2.6 2-2.3 4.6-2.9 5.1-1.8 7.3-1.8 7.2-1 24.2-1.5 5.8-1.6 1.4-1.5 .6-1 -.4-2.6 -8.3-12.8 -5.4-10.3 -3.4-4.1 -5-3.6 -16.7-7.5 -7.3-2.2 -4.8-.8 -7.3 .2 -16.9 3.2 -9.7 .4 -4.8-.4 -7.3-1.6 -16.9-6.9 -7.2-1.7 -14.5-.6 -19.4 1.5 -9.6 2.4 -2.7 1.1 -2.6 2.6 3.6 2.6 28.3 1 16.9 2.8 7.2 2.6 4.9 3.4 1.6 3 -.5 2.6 -2.3 2.5 -4.8 2.6 -3.7 1.2 -9.7 1.8 -9.6 .6 -12.1-.5 -9.7-1.4 -8.5-1.7 -18.1-4.9 -4.8-.2 -4.8 .5 -29 8.6 -14.5 5.1 -12.1 5.5 -24.2 12.7 0 9.5 16.9 2.9 13.1 4 5.4 2.6 3.6 2.5 2.1 2.6 .6 2.6 -1.6 2.5 -1.4 .9 -4.9 1.7 -4.8 .5 -12.1-.7 -16.9-3.3 0 124.3zM1720.5 189.8l-2.4-.8 -3.3-2.6 .1-2.6 3.2-2.2 2.4-1 4.8-.9 7.3 0 6.6 1.6 3.8 2.5 .3 2.6 -3.1 2.6 -2.8 .9 -7.2 1.1 -4.9-.3 -4.8-.9zM1926.9 81.1l1.5 .6 2.4-1 2.3-4.8 .4-2.5 -.2-5.2 -1-2.5 -1.5-2.4 -2.4-1 -2.5 1 -1.4 2.4 -1.3 5.1 .5 5.1 2.2 4.7 1 .5z" fill="#730000" fill-rule="evenodd"/>
<path d="M1590 286.6l0 2.5 16.9-.4 19.4-1.2 45.9-4.6 33.8-.5 38.7-1.4 79.7-5 53.2-.4 22.5-1.8 12.5-2.6 7.4-2.6 8.4-4.4 7.8-5.8 2.4-2.6 1.3-2.6 -.6-2.6 -2.3-2.5 -.2-2.6 9.2-5.1 2.4-2.6 1-2.6 -.2-5.1 -1.5-2.6 -3.8-2.5 -26.9-7.8 -4.7-2.5 -.3-2.6 4.3-3 4.5-2.1 3.3-2.6 -.8-2.6 -3.8-2.5 -12.9-5.5 -9.7-2.8 -9.6-1.4 -7.3 .1 -24.1 1.9 -14.5-.4 -12-2.2 -6.2-2.6 -3-2.6 -.9-2.5 .8-2.6 4.3-4.1 10.1-6.2 -3.5-2.5 -13.8-3.8 -9-3.9 -3.1-2.6 -1.5-2.6 -.3-2.5 .8-2.6 2.1-2.6 3.4-2.6 7.6-3.3 9.7-2.5 19.3-3.4 3.9-1 3.3-2.1 1.6-3.1 -.4-2.5 -2.5-5.2 -3.5-5.6 -4.8-6 -7.3-5.6 -9.6-4.9 -9.7-3.3 -9.7-1.1 -19.3 1.7 -9.7 .2 -19.3-1.8 -2.8 .7 4.8 5.2 1.2 2.5 .2 2.6 -1 2.6 -2.5 2.5 -2.3 1.5 -7.3 2.9 -12.1 2.2 -12.1 .5 -14.5-.8 -24.1-3.3 -7.3-.2 -7.2 .7 -31.4 7.9 -12.1 3.8 -12.2 5.4 -8.1 5.1 -3 2.6 -2.1 2.6 -1 2.5 .6 2.6 3.4 2.6 17.5 6.8 7.1 3.5 7.2 5.1 2.2 2.6 .9 2.5 -.8 2.6 -4.5 2.4 -9.6 1.3 -12.1-.9 -24.2-4.8 0 117.6zM1718.1 189.5l-4.4-3.1 0-2.6 3.3-2.5 3.5-1.2 7.3-1 7.2 .5 5.8 1.7 3.4 2.5 .1 2.6 -2.9 2.6 -4 1.4 -9.6 .9 -4.9-.5 -4.8-1.3z" fill="#790000" fill-rule="evenodd"/>
<path d="M1590 284l0 2 24.2-.4 33.8-2.2 24.2-2.3 36.2-.4 33.9-1.2 33.8-1.9 53.2-4.3 43.5-.6 19.3-1.7 9.7-2 7.2-2.4 7.3-3.3 7.8-4.9 2.8-2.6 1.3-2.6 -1.2-2.6 -3.7-2.5 -.9-2.6 12.3-5.1 3.2-2.6 1.1-2.6 -.1-5.1 -1.3-2.6 -3.1-2.5 -6.3-2.6 -16.3-5.2 -4.6-2.5 -.9-2.6 4.9-5.1 .5-2.6 -3.1-2.6 -6.9-3.1 -12.1-3.7 -9.7-1.7 -29-.4 -14.5-1.3 -9.6-2.2 -6.6-3 -2.7-2.6 -1-2.5 .6-2.6 2.4-3.3 4.7-4.4 .5-2.6 -4-2.5 -10.9-4.3 -6-3.4 -2.6-2.6 -1.3-2.6 -.2-2.5 .8-2.6 1.7-2.6 3-2.6 7.1-3.8 7.2-2.5 15.8-3.9 7.1-2.6 3.1-2.6 .8-2.5 -1.5-5.2 -3.5-5.2 -7.3-6.6 -7.2-4.4 -9.7-4 -7.3-1.8 -7.2-.6 -26.6 1.6 -4.8 1.2 -2.5 2.2 -2.9 4.8 -2.8 2.5 -4.4 2.6 -9.2 3.1 -9.7 1.6 -12 .7 -12.1-.3 -26.6-2.1 -7.3 .2 -7.2 .9 -31.4 7.7 -11.9 3.6 -11.2 5.2 -6.4 5.1 -1.6 2.6 -.6 2.5 1 2.6 3 2.6 22 10.3 9 5.1 3.3 2.6 2.2 2.5 .8 2.6 -.8 2.6 -4 2.8 -7.2 1.7 -9.7 .6 -12.1-1.3 -29-7.1 0 113.7zM1727.8 191.7l-7.3-1.1 -4.9-1.6 -3-2.6 -.1-2.6 2.9-2.5 2.7-1.2 9.7-1.5 7.2 .5 4.8 1.1 2.5 1.1 3 2.5 .1 2.6 -3.1 2.8 -7.3 2.1 -7.2 .4z" fill="#7f0000" fill-rule="evenodd"/>
<path d="M1590 281.5l0 2.3 21.8-.1 24.1-1.1 36.3-2.8 31.4-.4 38.7-1.3 36.2-2.3 53.2-5.3 38.7-1 14.5-1.3 9.6-1.8 7.3-2.2 7.8-3.3 6.7-4.1 1.2-1 1.5-2.6 -1.8-2.6 -5-2.5 -1.3-2.6 15.2-5.1 3.8-2.6 1.4-2.6 .2-2.5 -.4-2.6 -1.1-2.6 -2.8-2.5 -5.5-2.6 -14.7-5.2 -4.6-2.5 -1.5-2.6 1.6-5.1 -1.6-2.6 -4.9-2.6 -11.1-3.8 -9.7-2.1 -31.4-2.4 -9.7-1.3 -9.7-2.5 -6.9-3.3 -2.6-2.6 -1-2.5 .3-2.6 4.6-7.7 -.9-2.6 -4.1-2.5 -8.7-4.1 -5.3-3.6 -2.2-2.6 -1.1-2.6 -.2-2.5 .8-2.6 1.6-2.6 2.5-2.6 6.3-4.1 7.3-3.1 16.8-5.6 4.4-2.6 1.9-2.5 .2-2.6 -.9-2.6 -3.9-5.1 -4-3.3 -7.3-4.4 -7.2-3.1 -7.3-2 -7.2-.9 -7.3-.1 -9.6 .8 -7.3 1.9 -8.4 5.9 -4.6 2.6 -11.2 3.8 -9.6 1.6 -12.1 .9 -36.3-1.2 -14.5 .9 -14.5 3.2 -26.6 7.2 -10.1 4.2 -4.2 2.5 -2.6 2.3 -1.8 2.9 -.4 2.5 1.2 2.6 2.9 2.6 4.6 2.6 17.2 7.7 9.7 5.1 3.4 2.6 2.3 2.5 1.2 2.6 -.1 2.6 -1.5 2.6 -3.8 2.5 -3.5 1.2 -7.2 1.4 -12.1 .5 -8.4-.5 -6.1-1.1 -20.2-6.6 -8.8-1.9 0 109.8zM1725.3 191.8l-4.8-.7 -6.1-2.1 -3-2.6 -.2-2.6 2.5-2.5 2-1 4.8-1.4 7.3-.9 4.8 .2 7.2 1.3 4.1 1.8 2.6 2.5 0 2.6 -2.6 2.6 -1.6 .7 -7.3 2 -9.7 .1z" fill="#850000" fill-rule="evenodd"/>
<path d="M1590 281.5l0 .6 2.4 .1 24.2-.2 29-1.4 26.6-2.1 38.6-.5 36.3-1.4 33.8-2.6 50.8-6.1 38.7-1.7 12-1.2 14.5-3.4 7.3-2.9 4.7-2.9 1.8-2.6 -2.3-2.6 -6.1-2.5 -1.4-2.6 17.9-5.1 4.4-2.6 1.6-2.6 .3-2.5 -.4-2.6 -1.2-2.6 -2.6-2.5 -5-2.6 -13.7-5.2 -4.7-2.5 -2.1-2.6 -1.4-5.1 -3.4-2.6 -3.3-1.5 -10.9-3.6 -8.5-1.9 -26.5-3 -12.1-2.1 -10.2-3.3 -4.4-2.6 -2.6-2.6 -1.1-2.5 .1-2.6 2.1-5.1 .4-2.6 -1.7-2.6 -11.6-6.6 -4.6-3.6 -1.9-2.6 -.9-2.6 -.1-2.5 2.2-5.2 5.3-5.1 7.2-4.3 14.3-6 4.7-2.6 2.5-2.5 .6-2.6 -.8-2.6 -1.8-2.5 -5-4.1 -6.6-3.7 -6.9-2.5 -5.8-1.4 -7.3-.7 -7.2 .2 -4.8 .7 -4.9 1.5 -16.8 7.4 -14.6 3.3 -16.9 1.4 -33.9-.6 -12 .9 -17 3.6 -24.2 6.8 -6.7 2.6 -4.8 2.5 -3.1 2.6 -1.7 2.6 -.2 2.5 1.3 2.6 3 2.6 4.5 2.6 22.4 10.2 7.6 5.2 2.3 2.5 1.3 2.6 .3 2.6 -.8 2.5 -3.6 3.3 -4.8 2.2 -9.7 2 -9.6 .6 -13.4-.4 -10.8-1.8 -16.9-6.5 -9.7-2.3 0 108.3zM1722.9 191.9l-4.8-1 -5-1.9 -3-2.6 -.4-2.6 2.2-2.5 3.8-1.8 4.8-1.3 7.3-.8 7.2 .4 7.3 1.9 3.2 1.6 2.3 2.5 -.1 2.6 -2.6 2.6 -5.3 2.1 -7.2 1.2 -9.7-.4z" fill="#8b0000" fill-rule="evenodd"/>
<path d="M1590 278.9l0 1.8 26.6 0 24.2-.9 31.4-2.3 36.2-.6 36.3-1.4 36.2-3 53.2-7.3 43.5-2.8 12.1-2.4 5.3-1.6 5.4-2.6 2.2-2.6 -2.7-2.6 -6.9-2.5 -1.2-2.6 17.2-4.2 4.9-1.7 3.3-1.8 1.8-2.6 .3-2.5 -.4-2.6 -1.2-2.6 -2.5-2.5 -4.7-2.6 -13.1-5.2 -4.8-2.5 -6.9-7.7 -4.8-2.6 -15.8-5.1 -28.6-4.5 -12.1-2.6 -8.5-3.2 -4.2-2.6 -2.5-2.6 -1.2-2.5 -.1-2.6 .9-5.1 -.4-2.6 -2.4-2.6 -10.6-6.5 -4-3.7 -1.5-2.6 -.7-2.6 0-2.5 2-5.2 4.6-5.1 6.9-4.9 14.4-8 2.5-2.5 .7-2.6 -.9-2.6 -2.4-2.5 -4.6-3.1 -4.9-2.2 -7.2-2 -4.9-.7 -7.2 0 -7.3 1.3 -19.3 6 -14.5 2.6 -16.9 1.2 -31.4-.1 -12.1 1.1 -19.4 4.3 -19.3 5.7 -8.7 3.8 -3.5 2.6 -1.8 2.6 -.2 2.5 1.5 2.6 3.1 2.6 26.2 12.8 7.6 5.3 2.1 2.4 1.4 2.6 .4 2.6 -.6 2.5 -1.6 2.6 -3.2 2.6 -6.9 2.5 -11 1.8 -12 .6 -14.5-.6 -10.9-1.8 -18.1-7.4 -7.3-1.7 0 104.2zM1720.5 191.9l-8.8-2.9 -3-2.6 -.5-2.6 1.8-2.5 3.3-1.9 7.2-2 12.1-.5 7.2 1.2 4.9 1.7 2.4 1.5 2.1 2.5 -.2 2.6 -2.6 2.6 -6.6 2.5 -9.6 1.2 -9.7-.8z" fill="#910000" fill-rule="evenodd"/>
<path d="M1590 278.9l0 .5 9.7 .2 24.1-.3 26.6-1.2 21.8-1.7 38.6-.6 36.3-1.7 36.3-3.5 50.7-7.6 41.1-3.3 7.7-1.3 6.8-2.1 1.5-.5 3-2.6 -3-2.6 -7.1-2.5 -.7-2.6 23.2-5.4 5-2.3 2-2.6 .4-2.5 -.4-2.6 -1.3-2.6 -2.5-2.5 -4.5-2.6 -12.8-5.2 -5-2.5 -7.5-6.2 -4.8-2.7 -9.7-3.7 -7.2-2.1 -26.6-4.9 -9.7-2.4 -9.4-3.7 -4.1-2.6 -2.5-2.6 -1.3-2.5 -.7-7.7 -1.2-2.6 -13.8-10.3 -2.1-2.5 -1.7-5.2 .8-5.1 1.2-2.6 3.4-4.5 4.8-4.5 12.2-9 1.9-2.5 .2-2.6 -1.7-2.6 -3.7-2.5 -8.9-2.8 -9.6-.5 -7.3 1 -19.3 4 -14.5 1.8 -14.5 .7 -29 .3 -12.1 1.2 -16.9 3.6 -19.4 5.9 -7.2 3.5 -2.6 1.8 -2 2.6 -.2 2.5 1.5 2.6 3.2 2.6 25.5 12.8 7.4 5.2 2.3 2.5 1.4 2.6 .4 2.6 -.5 2.5 -1.6 2.6 -2.7 2.6 -4.3 2.5 -10 2.6 -10.6 1.1 -14.5 .3 -14.5-.7 -5.1-.7 -6.9-1.8 -14.5-6.4 -7.3-1.9 0 102.6zM1718.1 191.8l-7.8-2.8 -3.2-2.6 -.8-2.6 1.4-2.5 4.5-2.6 5.9-1.7 7.2-.8 7.3 .1 7.2 .9 4.9 1.6 4.2 2.5 1.8 2.5 -.3 2.6 -2.6 2.6 -8 3 -9.6 1.1 -7.3-.4 -4.8-.9z" fill="#970000" fill-rule="evenodd"/>
<path d="M1590 276.3l0 1.9 31.4 .2 24.2-1 26.6-2 36.2-.6 36.3-1.7 36.2-3.6 53.2-8.6 36.3-3.5 9.1-1.6 5.2-2.6 -2.8-2.6 -6.5-2.5 .3-2.6 26.1-5.9 4.4-1.8 2.3-2.6 .4-2.5 -.5-2.6 -1.3-2.6 -2.6-2.5 -4.4-2.6 -17.9-7.7 -12.3-7.7 -13.4-5.2 -29.6-6.6 -9.7-2.8 -8.1-3.4 -4-2.6 -2.7-2.6 -1.6-2.5 -2.9-8.5 -1.6-1.8 -10.5-7.9 -2.4-2.5 -2.4-5 0-5.1 2.4-6 2.8-4.3 9.5-10.3 1.8-2.6 .5-2.5 -1.6-2.6 -3.4-1.9 -7.2-1.6 -7.3-.1 -31.4 3.2 -41.1 1.1 -12.1 1 -16.9 3.4 -17.2 5.2 -7 3.2 -3 1.9 -2 2.6 -.3 2.5 1.5 2.6 3 2.6 25.2 12.8 7.8 5.2 2.5 2.5 1.5 2.6 .6 2.6 -.5 2.5 -1.6 2.6 -3 2.6 -4.4 2.5 -7.9 3.1 -12.1 1.7 -14.5 .7 -17.1-.3 -9.5-1 -7-1.6 -14.7-6.4 -7.3-1.9 0 98.2zM1715.7 191.7l-7-2.7 -3.5-2.6 -1.3-2.6 .7-2.5 3.7-2.6 5-1.8 9.6-1.6 7.3-.2 7.2 .8 7.3 1.7 4.8 2.4 1.5 1.3 1.4 2.5 -.5 2.6 -2.6 2.6 -4.6 2.1 -4.9 1.3 -12 1 -12.1-1.7z" fill="#9c0000" fill-rule="evenodd"/>
<path d="M1590 276.3l0 .8 4.8 .2 29 0 26.6-1.2 21.8-1.7 48.3-1.1 31.4-1.9 29-3.2 50.8-8.9 29.2-3.5 9.5-1.9 2.1-.7 -1-2.6 -4.4-2.5 1.5-2.6 24.7-5.1 6.1-2 1.4-.6 2.6-2.6 .5-2.5 -.5-2.6 -1.4-2.6 -2.7-2.5 -4.5-2.6 -18.1-7.7 -14-7.7 -13.9-5.2 -24.4-5.9 -9.6-2.8 -9.7-4.1 -4.1-2.6 -3-2.6 -7-10.2 -12.5-10.3 -1.7-2.6 -.9-2.5 -.2-5.2 1.3-5.1 8.2-15.4 .8-2.6 -.6-2.6 -3.2-2.5 -6.1-1.5 -9.7-.4 -55.6 1.3 -14.5 1.1 -16.9 3.4 -14.5 4.5 -4.3 1.8 -4.2 2.6 -2.3 2.6 -.3 2.5 1.4 2.6 3 2.6 4.2 2.6 21.4 10.2 8.7 5.2 2.9 2.5 1.9 2.6 2.1 5.1 1.8 1.1 19.3-3 9.7-.2 9.6 .9 7.3 2.1 4.8 2.7 1.7 1.6 .9 2.5 -.8 2.6 -2.7 2.6 -8.7 3.4 -9.7 1.3 -9.7-.3 -9.5-1.8 -6.6-2.6 -4.1-2.6 -2.7-2.6 -1.2-1.9 -2.5-.7 -4.8 1.1 -10.7 4.1 -8.6 2.6 -19.4 1.5 -21.7-.1 -9.7-.7 -7.2-1.2 -6.8-2.1 -12.6-5.4 -4.8-1.2 0 96.5z" fill="#a20000" fill-rule="evenodd"/>
<path d="M1593.3 276.3l35.4 .1 21.7-1 21.8-1.8 50.7-1.2 31.4-2.1 24.2-2.8 81.7-14.3 2.6-2.6 -1.8-2.5 2.3-2.6 10.3-2.6 14.6-2.5 8.2-2.6 2.9-2.6 .6-2.5 -.5-2.6 -1.6-2.6 -2.8-2.5 -4.5-2.6 -18.3-7.7 -15-7.7 -14.1-5.2 -28.3-7.5 -13.3-5.3 -7.9-5.2 -7.8-7.5 -11-7.9 -2.5-2.5 -1.6-2.6 -.8-5.1 1.8-7.7 6-15.5 .1-2.5 -1.3-2.6 -2.8-2 -7.3-1.8 -14.5-.9 -36.2 .1 -19.4 1.5 -15.3 3.1 -8.7 2.6 -6.5 2.5 -4.4 2.6 -2.3 2.6 -.5 2.5 1.4 2.6 3 2.6 4.2 2.6 27.9 12.8 4.7 2.6 8.6 6 4.9 .7 14.5-.1 7.2 .4 9.7 1.5 7.2 2.8 2.4 1.8 2 2.3 .3 2.5 -1.1 2.6 -3 2.6 -5.7 2.6 -7 1.7 -7.2 .7 -9.7-.3 -7.2-1.1 -10.8-3.6 -6.1-3.1 -4.9-.9 -4.8 .8 -16.9 4.5 -16.9 1.2 -21.8-.1 -12.1-.7 -9.6-1.6 -17-6.7 -4.8-1.1 0 94.9 3.3 .1z" fill="#b10000" fill-rule="evenodd"/>
<path d="M1592.6 273.8l36.1 .4 21.7-1 21.8-1.7 45.9-1.1 31.4-2.1 24.2-2.8 24.2-4.2 35.6-8.1 7.8-2.6 9.7-5.6 7-2.1 24.1-5.1 4.1-2.6 .9-2.5 -.6-2.6 -1.9-2.6 -3.3-2.5 -39.2-18 -14.5-5.2 -39.4-11.6 -12.1-2.8 -9.7-.3 -19.3 6 -14.5 1.9 -12.1-.5 -24.2-4.5 -7.2 .5 -16.9 3 -29 .6 -19.4-.5 -9.6-1.1 -4.9-.9 -14.5-5.1 -4.8-1.1 0 88.2 2.6 .2zM1709.9 158.2l8.2 .7 9.7-.1 7.2-1 7.9-2.2 6.6-3.2 4.8-4.1 2.1-3 .8-2.6 -.1-2.5 -1.3-2.6 -3.1-2.6 -6.5-2.5 -13.6-2.2 -14.5-.6 -12.1 .6 -14.6 2.2 -9.6 2.8 -5.1 2.3 -3 2.6 -.8 2.5 1.3 2.6 3.2 2.6 4.8 2.6 14.1 4.9 13.6 2.8z" fill="#cb0000" fill-rule="evenodd"/>
<path d="M1591.6 271.2l22.6 1 24.1-.4 33.9-2.2 26.6-.4 29-1.3 38.6-3.7 26.6-4.6 26.6-6.5 7.8-2.5 11-5.1 7-2.6 19.9-5.1 5.4-2.6 1.5-2.5 -.5-2.6 -2-2.6 -3.4-2.5 -32.2-15.7 -12.1-4.6 -12.1-3.6 -14.5-3.6 -14.5-2.9 -16.9-1.7 -24.2 2.8 -12 .3 -9.7-.7 -14.5-1.9 -7.3-.3 -24.1 2.8 -43.5 .1 -16.9-1.3 -21.8-5.4 0 81.8 1.6 .1zM1698.5 147.9l12.3 1.7 9.7-.8 4.1-.9 3.2-1.4 2-1.2 1.5-2.6 -1.3-2.5 -7.1-2.9 -9.6-1 -12.1 .9 -2.4 .4 -6.4 2.6 -1.6 2.5 1.8 2.6 5.9 2.6z" fill="#e20400" fill-rule="evenodd"/>
<path d="M1590 268.6l24.2 1.5 26.6-.2 31.4-2.1 26.6-.4 24.1-1.1 21.8-1.6 21.7-2.6 26.6-4.9 23.9-6.6 18.4-7.7 14.4-5.1 4.8-2.6 2.1-2.5 0-2.6 -1.5-2.6 -6.4-5.1 -12.2-6.7 -12.1-5.5 -12-4.2 -12.1-3.3 -26.6-5 -14.5-1.3 -29 .8 -29-1.8 -9.7 .5 -19.3 2.1 -48.4-.2 -14.2-1.1 -19.6-3.9 0 75.8z" fill="#f50c00" fill-rule="evenodd"/>
<path d="M1590 266.1l7.3 1 14.5 .9 31.4 0 29-1.8 26.6-.4 24.1-1.1 24.2-2 16.9-2.2 26.6-5 21.8-6.4 25.8-11.3 3.8-2.6 2.1-2.5 .4-2.6 -1-2.6 -5.3-5.1 -8.5-5.2 -11.3-5.1 -10.9-3.8 -9.6-2.6 -12.1-2.7 -17-2.7 -16.9-1.6 -24.1-.2 -24.2-1.1 -31.4 2.4 -50.8-.3 -12.1-.7 -19.3-2.7 0 70z" fill="#ff1a00" fill-rule="evenodd"/>
<path d="M1611.1 266.1l29.7 .3 31.4-1.7 36.2-.8 29-1.9 26.6-3.3 24.2-4.8 11.8-3.3 9.9-3.5 19.3-9.3 3.4-2.6 1.9-2.5 .5-2.6 -.8-2.6 -1.9-2.5 -3-2.6 -8.4-5.2 -8.5-3.7 -19.4-5.9 -12.1-2.6 -16.9-2.7 -16.9-1.7 -36.3-1.3 -14.5 .3 -24.1 1.8 -9.7-.1 -45.9-.2 -26.6-2.1 0 65.2 21.1 1.9z" fill="#ff2e00" fill-rule="evenodd"/>
<path d="M1601.4 263.5l22.4 1.4 24.2-.2 24.2-1.4 45.9-1.3 21.7-1.8 19.4-2.4 26.6-5.3 19.3-6.3 7.4-3.3 9.3-5.1 3-2.6 1.9-2.5 .5-2.6 -.8-2.6 -1.9-2.5 -2.9-2.6 -6.8-4.1 -9.7-4.2 -9.7-3.1 -12-3 -29.1-4.7 -18.2-1.5 -25.3-.9 -14.5 .3 -24.1 1.6 -55.6 0 -26.6-1.1 0 60.4 11.4 1.4z" fill="#ff4200" fill-rule="evenodd"/>
<path d="M1595.3 260.9l23.7 2.2 26.6 .2 70.1-2.6 19.3-1.4 16.9-2 26.6-4.9 12.1-3.3 9.7-3.5 9.6-4.6 5.3-3.2 2.9-2.6 1.8-2.5 .5-2.6 -.8-2.6 -1.9-2.5 -3.1-2.6 -7.1-4.1 -7.2-3 -9.7-3.1 -12.1-2.9 -26.6-4.3 -19.3-1.7 -21.8-.8 -16.9 .3 -21.7 1.3 -82.2 0 0 56 5.3 .8z" fill="#ff5600" fill-rule="evenodd"/>
<path d="M1610.9 260.9l29.9 1.2 60.4-1.9 26.6-1.6 26.5-3.1 21.8-4.3 11.2-3.1 8.1-3 9.7-4.6 4.1-2.7 2.9-2.6 1.8-2.5 .4-2.6 -.9-2.6 -1-1.3 -4.2-3.8 -5.5-3.1 -9.7-3.9 -9.6-2.8 -12.1-2.8 -26.6-3.9 -19.4-1.5 -19.3-.4 -33.8 1.4 -33.9-.1 -41 .6 -7.3 .5 0 51.8 20.9 2.7z" fill="#ff6800" fill-rule="evenodd"/>
<path d="M1602.4 258.4l21.4 1.9 26.6 .3 58-1.9 19.4-1.4 19.3-2.2 24.3-4.5 9.6-2.5 9.6-3.4 9.1-4.3 4-2.6 2.8-2.6 1.8-2.5 .3-2.6 -.9-2.6 -2.2-2.5 -3.4-2.6 -4.7-2.6 -9.2-3.6 -9.7-2.8 -12.1-2.6 -26.6-3.8 -16.9-1.3 -19.3-.4 -31.4 1.3 -41.1 .2 -31.4 .9 -9.7 .8 0 47.8 12.4 2.1z" fill="#ff7800" fill-rule="evenodd"/>
<path d="M1616.6 258.4l29 1 50.7-1.4 26.6-1.5 24.2-2.7 24.2-4.8 9.6-2.8 8.4-3.3 6.1-3.2 5.9-4.5 1.7-2.5 .3-2.6 -1-2.6 -2-2.2 -4-2.9 -5.1-2.6 -7.8-2.9 -9.7-2.8 -12.1-2.5 -26.6-3.6 -19.3-1.2 -16.9-.1 -26.6 1 -43.5 .4 -29 1.3 -9.7 1.2 0 43.7 12.1 2.3 14.5 1.8z" fill="#ff8800" fill-rule="evenodd"/>
<path d="M1607.2 255.8l21.5 2 24.1 .3 53.2-1.6 33.8-3 24.2-4.3 9.7-2.6 9.7-3.4 5.9-2.8 6.1-4.4 2.6-3.3 .2-2.6 -1.1-2.6 -1.7-1.7 -4.7-3.4 -12.8-5.2 -21.1-4.9 -26.6-3.4 -26.6-1.1 -31.4 .9 -33.9 .2 -33.8 1.8 -14.5 2 0 39.7 17.2 3.4z" fill="#ff9800" fill-rule="evenodd"/>
<path d="M1619.7 255.8l25.9 1.2 45.9-1 26.6-1.4 24.2-2.7 20-3.8 16.4-5.2 7.1-3.4 5.6-4.3 1.7-2.5 .2-2.6 -1.2-2.6 -3.9-3.3 -7.3-3.7 -7.2-2.6 -9.7-2.5 -12.1-2.4 -24.1-3 -26.6-1 -62.9 1.1 -31.9 2 -16.4 2.6 0 35.8 14.5 3.3 15.2 2z" fill="#ffa600" fill-rule="evenodd"/>
<path d="M1642.2 255.8l63.8-1.5 21.8-1.8 19.3-2.7 18.8-4.3 13.4-5.1 4.4-2.6 3-2.6 1.7-2.5 .2-2.6 -1.4-2.6 -3.8-3.1 -4.9-2.6 -9.7-3.5 -9.6-2.4 -12.1-2.3 -24.2-2.7 -26.6-.8 -60.4 1.2 -29 2.3 -9.6 1.4 -7.3 1.7 0 31.7 12.1 3.3 12.1 2 14.5 1.5 13.5 .6z" fill="#ffb300" fill-rule="evenodd"/>
<path d="M1621.4 253.2l26.6 1.5 38.7-.6 26.6-1.3 21.7-2.3 21.8-4.1 14.5-4.7 7.6-3.9 3.2-2.6 1.7-2.5 .1-2.6 -1.4-2.6 -3.1-2.5 -5.7-3 -9.7-3.3 -21.7-4.5 -24.2-2.5 -24.2-.5 -60.4 1.3 -26.6 2.6 -9.6 1.7 -7.3 2.1 0 27.3 14.5 4.3 16.9 2.7z" fill="#ffc000" fill-rule="evenodd"/>
<path d="M1637 253.2l20.7 .4 41.1-1 21.7-1.6 19.3-2.5 17-3.7 12.7-4.4 4.8-2.6 3.2-2.6 1.8-2.5 .1-2.6 -1.6-2.6 -3.4-2.5 -5.2-2.6 -10-3.3 -21.8-4.3 -24.1-2.2 -24.2-.4 -41.1 .8 -16.9 .8 -26.6 3.2 -7.2 1.6 -7.3 2.5 0 22.7 9.7 3.7 9.6 2.4 12.1 2 15.6 1.3z" fill="#ffce00" fill-rule="evenodd"/>
<path d="M1622.7 250.6l18.1 1.6 21.7 .3 38.7-1.1 29-2.6 18.1-3.3 9.4-2.6 6.9-2.5 5-2.6 3.4-2.6 1.8-2.5 0-2.6 -1.7-2.6 -3.6-2.5 -5.5-2.6 -9.7-3 -21.7-4 -26.6-2.1 -53.2 .6 -24.1 1.3 -14.5 1.7 -9.7 1.8 -7.2 1.9 -7.3 3.1 0 17.4 7.3 3.5 7.2 2.4 18.2 3.6z" fill="#ffd900" fill-rule="evenodd"/>
<path d="M1634.9 250.6l20.4 .9 33.8-.6 21.7-1.2 19.4-2.1 16.9-3.3 12.5-3.9 5.3-2.6 3.6-2.6 1.9-2.5 -.1-2.6 -1.9-2.6 -3.8-2.5 -6-2.6 -11.5-3.2 -21.8-3.5 -26.5-1.5 -48.4 .7 -26.6 2 -12 1.9 -9.7 2.3 -7.3 2.8 -4.8 3.2 0 10.4 3.7 2.9 3.6 1.9 8.2 3.2 8.7 2.2 20.7 2.9z" fill="#ffe400" fill-rule="evenodd"/>
<path d="M1624.2 248.1l16.6 1.8 19.3 .5 36.2-.8 26.6-2.2 16.9-2.8 14.8-4.2 5.6-2.6 3.8-2.6 1.9-2.5 -.1-2.6 -2-2.6 -4.1-2.5 -6.6-2.6 -10.8-2.8 -12.1-2.1 -12.1-1.3 -26.6-1 -43.5 .8 -14.5 1 -12.1 1.5 -9.6 1.8 -9.7 2.9 -4.2 1.8 -3.1 2 -2.7 3.1 -.5 2.6 1 2.5 2.4 2.6 3.6 2.6 10.7 4.4 14.9 3.3z" fill="#ffef00" fill-rule="evenodd"/>
<path d="M1634.4 248.1l20.9 1.2 31.4-.3 19.3-1 19.3-2.1 15.4-3 8.7-2.5 4.9-2.1 5.1-3.1 2-2.5 -.1-2.6 -2.2-2.6 -4.5-2.5 -7.1-2.6 -10.8-2.6 -21-2.7 -24.2-1 -41.1 .9 -24.1 2.1 -12.1 2.3 -7.3 2.1 -7.2 3.6 -3 3 -.6 2.6 1.1 2.5 2.5 2.6 4 2.6 6 2.5 9 2.6 15.7 2.6z" fill="#fffa00" fill-rule="evenodd"/>
<path d="M1651.3 248.1l42.6-.4 19.4-1.5 14.5-2 14.5-3.3 8.2-3.1 4.2-2.6 2.2-2.5 -.2-2.6 -2.4-2.6 -4.8-2.5 -7.9-2.6 -9-2 -19.3-2.4 -24.2-.9 -36.3 .8 -22.7 1.9 -13.5 2.6 -7.3 2.3 -5.4 2.8 -2.5 2.6 -.7 2.6 1.4 2.8 4.8 3.7 7.3 3.2 7.2 2.1 9.7 1.8 20.2 1.8z" fill="#ffff14" fill-rule="evenodd"/>
<path d="M1635.4 245.5l19.9 1.6 24.1 0 19.4-.7 16.9-1.6 16.9-2.9 12.9-4.1 4.5-2.6 2.3-2.5 -.3-2.6 -2.6-2.6 -5.3-2.5 -13.9-3.7 -19.4-2.4 -21.7-.8 -33.8 .7 -21.8 1.9 -10.1 1.7 -9 2.6 -5.4 2.5 -2.9 2.6 -.7 2.6 1.2 2.5 5.2 3.8 10.3 3.9 13.3 2.6z" fill="#ffff3c" fill-rule="evenodd"/>
<path d="M1648.1 245.5l14.4 .6 26.6-.3 16.9-1.1 14-1.8 12.4-2.5 7.8-2.6 4.9-2.6 2.4-2.5 -.3-2.6 -2.8-2.6 -5.9-2.5 -10.7-2.7 -19.3-2.5 -21.8-.7 -31.4 .8 -21.8 2.1 -13.2 3 -6.1 2.5 -3.1 2.6 -.9 2.6 1.3 2.5 3.3 2.6 5.5 2.6 10.8 2.9 17 2.2z" fill="#ffff64" fill-rule="evenodd"/>
<path d="M1637.8 242.9l12.6 1.5 14.5 .5 21.8-.2 19.3-1.2 14.5-2.1 9.7-2.2 4.4-1.4 5.4-2.6 2.6-2.5 -.3-2.6 -3.2-2.6 -6.6-2.5 -16.8-3.3 -21.8-1.5 -33.8 .5 -20.3 1.7 -13.5 2.7 -6.6 2.4 -3.5 2.6 -1 2.6 1.4 2.5 3.7 2.6 6.3 2.6 11.2 2.5z" fill="#ffff8c" fill-rule="evenodd"/>
<path d="M1649.3 242.9l13.2 .8 16.9 .1 14.5-.5 12.1-1.1 12.5-1.8 10.1-2.6 6-2.6 2.8-2.5 -.4-2.6 -3.6-2.6 -7.5-2.5 -17.5-2.8 -21.7-1 -29 .8 -19.4 2.1 -4.8 .9 -7.9 2.5 -4.1 2.6 -1.1 2.6 1.6 2.5 6.7 3.5 7.2 2.2 13.4 2z" fill="#ffffac" fill-rule="evenodd"/>
<path d="M1642.2 240.4l10.6 1.4 12.1 .7 19.4 0 14.5-.9 10.8-1.2 12.4-2.6 6.8-2.6 3.1-2.5 -.4-2.6 -1.3-.8 -2.9-1.8 -6.8-2 -12.1-2 -16.9-1.1 -26.6 .4 -16.9 1.3 -5.9 .9 -8.6 2.1 -6.3 3 -1.3 2.6 1.9 2.5 4.9 2.6 9.5 2.6z" fill="#ffffc4" fill-rule="evenodd"/>
<path d="M1653.9 240.4l23.1 .9 21.8-1.1 15.6-2.4 8-2.6 3.6-2.5 -.6-2.6 -5-2.6 -4.7-1.2 -12.1-1.9 -19.3-.8 -21.8 .6 -14.5 1.5 -8.8 1.8 -3.3 1.4 -2.4 1.2 -1.6 2.6 2.3 2.5 5.9 2.6 13.8 2.6z" fill="#ffffdb" fill-rule="evenodd"/>
<path d="M1649.5 237.8l17.8 1.9 24.2-.4 16.9-2.3 6.7-1.8 4.2-2.5 -.8-2.6 -6.3-2.6 -13.4-2 -17-.7 -19.3 .8 -14.5 1.9 -7.4 2.6 -1.9 2.6 2.7 2.5 8.1 2.6z" fill="#fffff3" fill-rule="evenodd"/>
<path d="M1590 276.2l36.3 .3 24.1-1.1 21.8-1.8 48.3-1 31.4-2.1 26.6-3 81.7-14.3 2.6-2.6 -1.8-2.5 2.3-2.6 10.3-2.6 14.6-2.5 8.2-2.6 2.9-2.6 .6-2.5 -.5-2.6 -1.6-2.6 -2.8-2.5 -4.5-2.6 -18.3-7.7 -13.9-7.2 -15.2-5.7 -23.5-6.1 -9.7-3.1 -8.4-3.6 -7.9-5.2 -7.8-7.5 -11-7.9 -2.5-2.5 -1.6-2.6 -.7-2.6 .2-5.1 1.5-5.1 5.3-12.9 .8-5.1 -1.7-3 -3.7-2.2 -3.6-.8 -12-1.2 -26.6-.1 -19.4 .3 -12 1 -14.5 2.6 -12 3.4 -7.4 3.1 -3.5 2 -2.3 2.6 -.5 2.5 1.4 2.6 3 2.6 9.3 5.1 22.8 10.3 4.7 2.6 8.6 6 4.9 .7 14.5-.1 7.2 .4 9.7 1.5 7.2 2.8 2.4 1.8 2 2.3 .3 2.5 -1.1 2.6 -3 2.6 -5.7 2.6 -4.5 1.2 -7.3 1 -7.2 .2 -7.3-.6 -8.8-1.8 -6.8-2.6 -6.1-3.1 -4.9-.9 -4.8 .8 -14.5 3.9 -7.3 1 -19.3 .9 -21.7-.5 -7.3-.7 -7.5-1.4 -16.7-6.6 -4.8-1.1M1590 266.4l24.2 1.7 29-.1 29-1.8 26.6-.4 24.1-1.1 24.2-2 16.9-2.2 26.6-5 21.8-6.4 25.8-11.3 3.8-2.6 2.1-2.5 .4-2.6 -1-2.6 -5.3-5.1 -8.5-5.2 -11.3-5.1 -10.9-3.8 -9.6-2.6 -12.1-2.7 -17-2.7 -16.9-1.6 -24.1-.2 -24.2-1.1 -31.4 2.4 -50.8-.3 -12.1-.7 -19.3-2.7M1590 258.2l24.2 3 29 .8 65.2-2.1 36.3-3.1 14.5-2.1 14.5-2.9 12.1-3.3 8.6-3 8.3-3.7 6.5-4 2.9-2.6 1.8-2.5 .4-2.6 -.9-2.6 -1-1.3 -4.2-3.8 -5.5-3.1 -9.7-3.9 -9.6-2.8 -12.1-2.8 -26.6-3.9 -19.4-1.5 -19.3-.4 -33.8 1.4 -33.9-.1 -41 .6 -7.3 .5M1590 250.5l9.7 2.3 12.1 2.1 26.5 2 55.6-1 31.4-2 26.6-3.6 10.4-2.2 11.4-3.3 9.7-4 5-3 3-2.6 1.7-2.5 .2-2.6 -1.2-2.6 -3.9-3.3 -7.3-3.7 -7.2-2.6 -9.7-2.5 -12.1-2.4 -24.1-3 -26.6-1 -62.9 1.1 -31.9 2 -16.4 2.6M1590 241.1l7.3 3.5 9.6 3.1 12.1 2.4 12.1 1.5 24.2 1 48.3-1.3 16.9-1.4 14.4-1.8 12.2-2.3 9.7-2.6 7.8-2.8 5-2.6 3.4-2.6 1.8-2.5 0-2.6 -1.7-2.6 -3.6-2.5 -5.5-2.6 -9.7-3 -21.7-4 -26.6-2.1 -53.2 .6 -24.1 1.3 -14.5 1.7 -9.7 1.8 -7.2 1.9 -7.3 3.1M1651.3 248.1l42.6-.4 19.4-1.5 14.5-2 14.5-3.3 8.2-3.1 4.2-2.6 2.2-2.5 -.2-2.6 -2.4-2.6 -4.8-2.5 -7.9-2.6 -9-2 -19.3-2.4 -24.2-.9 -36.3 .8 -22.7 1.9 -13.5 2.6 -7.3 2.3 -5.4 2.8 -2.5 2.6 -.7 2.6 1.4 2.8 4.8 3.7 7.3 3.2 7.2 2.1 9.7 1.8 20.2 1.8M1649.3 242.9l13.2 .8 16.9 .1 14.5-.5 12.1-1.1 12.5-1.8 10.1-2.6 6-2.6 2.8-2.5 -.4-2.6 -3.6-2.6 -7.5-2.5 -17.5-2.8 -21.7-1 -29 .8 -19.4 2.1 -4.8 .9 -7.9 2.5 -4.1 2.6 -1.1 2.6 1.6 2.5 6.7 3.5 7.2 2.2 13.4 2" fill="none" stroke="#4a4a4a" stroke-width="1.6"/>
</g>
<clipPath id="hcg"><rect x="1092.8" y="469.4" width="393.3" height="313.6"/></clipPath>
<g clip-path="url(#hcg)">
<rect x="1092.8" y="469.4" width="393.3" height="313.6" fill="#2c0000"/>
<path d="M1092.8 783l393.3 0 0-78 -1.1-.4 1.1-.4 0-60.8 -2-9.4 -.6-18.3 2.4-52.2 .2-21.8 -2.5-49.1 -.4-23.2 -30 0 -1.5 22.7 -2.5 3.1 -2-15.3 -.6-10.5 -353.8 0 0 313.6zM1119.8 613.8l-1.2-.7 -.5-2.6 4.2-2.5 5.6-.1 1.8 .5 3.1 2.1 -.3 2.6 -5.3 2 -2.4 .1 -5-1.4zM1210.8 572l-1.1-.7 -1-2.6 2-2.6 2.5-.4 2.5 .8 1.4 2.2 -.9 2.6 -3 1.2 -2.4-.5zM1269.8 595.7l-2-.9 -2.3-2.6 .1-2.6 3.3-2.6 3.3-.7 5 .5 4.1 2.8 .7 2.6 -2.4 2.9 -4.9 1.2 -4.9-.6zM1449.2 625.4l-.8-9.7 .8-11.8 2.5 3.9 .3 7.9 -.3 6.8 -2.5 2.9zM1277.2 504.4l-6.1-3.6 -3.9-5.3 -1.1-2.6 -.8-5.2 .8-5.2 1.1-2.6 4.1-5.3 5.9-3.5 7.3-1.1 7.4 1.6 4.9 3 2.5 2.5 2.8 5.4 .6 2.6 -.1 5.2 -1.9 5.2 -4.2 5.3 -3.9 2.6 -3.2 1.2 -7.3 .9 -4.9-1.1z" fill="#350000" fill-rule="evenodd"/>
<path d="M1092.8 783l312.4 0 -.1-10.5 2.3-10.4 -.1-2.6 -2.2-7.9 .5-2.6 2-2.6 4.8-3.4 2.4-1.1 4.9-.3 9.9 1.7 4.9-.2 6.7-1.9 1.1-2.6 -5.4-2.2 -4.9-.8 -5.9 .4 -6.4 1.5 -4.9-.4 -4.9-2.5 -3.9-3.9 -.5-2.6 1.1-2.6 3.3-2.8 4.9-1.8 4.9-.3 12.3 .6 5.8-.9 7.1-2.6 .2-2.6 -6.3-2.7 -6.8-1.6 -12-1 -3.3-2.6 .7-2.6 3.9-2.6 13.2-3 13.2-4.9 -.8-2.6 -16.2-7.8 -1.1-2.6 7.6-7.9 .2-2.6 -.5-.8 -1-1.8 -3.9-3.6 -9.8-6.1 -4.9-3.8 -9.9-10.1 -9.4-13 -4.3-7.8 -2.1-5.2 -1.1-5.3 -.2-5.2 1.1-7.8 4.9-23.6 1.4-10.4 1-13.1 -.4-15.7 -1.6-13 -3.2-15.7 -3.8-13.1 -8.8-26.1 -85.5 0 3.9 2.8 4 5 2 5.3 .3 2.6 -.4 5.2 -2 5.2 -1.7 2.6 -4.7 4.7 -6.1 3.2 -6.2 1.1 -7.3-1 -5.6-2.7 -5.1-5.3 -2.6-5.2 -.8-7.8 1.1-5.2 3.1-5.6 2.5-2.6 3.3-2.3 -180.3 0 0 313.6zM1119.8 616.4l-2.4-.7 -3.7-2.6 -.8-2.6 1.5-2.6 3-1.6 4.9-1.2 7.4 .4 5.7 2.4 1.9 2.6 -.6 2.6 -3.6 2.6 -5.9 1.3 -7.4-.6zM1210.8 574.8l-2.5-1.1 -2.1-2.4 -.3-2.8 1.1-2.4 3.8-2.4 2.4-.4 2.5 .5 3.3 2.3 1.1 2.6 -.5 2.6 -1.4 1.9 -2.5 1.4 -4.9 .2zM1269.8 598.1l-4.9-2.2 -1.4-1.1 -1.6-2.6 .1-2.6 2.9-3.2 4.9-2 6.3 0 6 2.2 3 3 .6 2.6 -1 2.6 -2.6 2.1 -4.9 1.5 -7.4-.3zM1459.9 741.2l6.5 1.7 5 0 6.4-1.7 1.1-2.6 -7.4-2.6 -5.1-.1 -7.7 2.7 1.2 2.6zM1463.4 720.3l5.5 .5 4.9-.5 7-2.6 0-2.6 -6.9-2.7 -5-.6 -6.1 .6 -7.3 2.7 .1 2.6 7.8 2.6zM1462 696.8l4.4 .6 5-.2 2.4-.5 5.4-2.6 -.8-2.6 -4.6-1.9 -4.9-1 -5.2 .3 -8.3 2.6 -.9 2.6 7.5 2.7z" fill="#470000" fill-rule="evenodd"/>
<path d="M1092.8 769.9l0 1.2 4.9-.5 27.1-4.7 22.1-5.4 41.3-11.5 47.2-3.4 66.3-6.5 51.7-3.6 4.9-1 12.3-3.8 12.3-1.1 4.9-1.3 4.9-2.9 8.8-7.7 2.2-2.6 5.1-10.5 3.6-4 7.6-6.5 .7-2.6 -3.1-5.2 -.7-2.6 .2-2.6 2.6-7.9 -.2-2.6 -2.7-5.2 -7.3-10.5 -23.3-28.7 -3.4-5.2 -2.2-5.3 -.8-5.2 .3-5.2 6.2-26.1 2.5-15.7 .8-13.1 -.5-13.1 -2.3-15.6 -3.3-13.1 -4.5-13.1 -10.9-26.1 -65.6 0 3.8 5.2 1.9 5.3 .2 7.8 -1.4 5.2 -2.9 5.2 -5.1 5.3 -7.1 3.8 -7.4 1.5 -7.3-.9 -5-2.1 -6-4.9 -3.4-5.3 -1.7-5.2 -.3-7.8 2.4-7.9 3.8-5.2 -174.2 0 0 300.5zM1122.3 618.4l-4.9-1 -4.4-1.7 -3.2-2.6 -1.2-2.6 .6-2.6 .8-1 1.9-1.6 3-1.4 4.9-1.1 5-.2 4.9 .5 4.9 1.5 4.9 3.3 1 2.6 -.7 2.6 -2.9 2.6 -7.2 2.4 -7.4 .3zM1210.8 576.7l-4.9-2.3 -2-3.1 -.2-2.6 1-2.6 2.6-2.6 3.5-1.5 4.9 .1 2.5 .9 3.1 3.1 .9 2.6 -.2 2.6 -1.4 2.6 -2.4 1.8 -2.5 1 -4.9 0zM1272.2 600.4l-7.3-2 -4.7-3.6 -1.2-2.6 .1-2.6 1.4-2.6 4.4-3 7.3-1.5 7.4 1 2.6 .9 4 2.6 1.9 2.6 .7 2.6 -.6 2.6 -2.3 2.7 -6.3 2.6 -7.4 .3z" fill="#580000" fill-rule="evenodd"/>
<path d="M1092.8 754.3l0 1 9.8-.7 27.1-3.6 17.2-3.5 41.8-9.6 44.2-2.9 61.5-5.6 56.5-3.9 7.4-1.6 12.3-3.9 12.3-.8 4.9-.8 4.9-2.1 4.9-4.1 14.3-18.1 .7-2.6 -.7-7.8 2-7.8 .1-5.3 -3.4-7.8 -6.9-10.5 -8.6-10 -15.2-16.1 -3.9-5.2 -2.4-5.3 -.9-5.2 .6-5.2 6.9-23.5 3.1-15.7 1.1-13.1 -.4-15.7 -2.5-15.6 -4.7-15.7 -3.8-8.7 -14-27.9 -49.2 0 2 5.2 .7 7.9 -1.6 7.8 -2.4 5.2 -3.9 5.3 -6.3 5.2 -6.4 2.9 -7.4 1.3 -7.3-.9 -5-1.8 -5.9-4.1 -4.2-5.3 -2.5-5.2 -1.5-7.8 .6-7.9 2.9-7.8 -168.8 0 0 284.9zM1117.4 618.8l-8.2-3.1 -3.1-2.6 -1.6-2.6 -.2-2.6 1.3-2.6 3.4-2.6 3.5-1.4 4.9-.9 4.9-.2 7.4 .7 7.3 2.2 3.6 2.2 2.2 2.6 .6 2.6 -.9 2.6 -2.7 2.6 -2.8 1.4 -3 1.3 -6.8 1 -9.8-.6zM1205.9 576.6l-2.9-2.7 -1.1-2.6 -.1-2.6 .9-2.6 3.2-3.4 4.9-2.1 4.9 0 4.9 2.3 2.7 3.2 .8 2.6 -.1 2.6 -1 2.6 -2.7 2.6 -2.1 1.1 -5 1 -4.9-.8 -2.4-1.2zM1264.9 600.3l-5.1-2.8 -2.4-2.7 -1-2.6 0-2.6 1.2-2.6 2.8-2.6 4.5-2.1 7.3-1.3 7.4 .8 6.3 2.6 3.3 2.6 1.8 2.6 .7 2.6 -.4 2.6 -1.6 2.7 -3.8 2.6 -6.3 1.7 -4.9 .3 -4.9-.5 -4.9-1.3z" fill="#680000" fill-rule="evenodd"/>
<path d="M1092.8 746.4l0 1.3 7.4-.2 24.6-2.3 19.6-3.3 44.3-9.1 41.8-2.8 63.9-6.1 56.5-4.1 19.7-5.3 12.3-1 4.9-1 4.9-2.3 7.4-6.7 5.7-6.7 1.5-2.7 .8-2.6 .3-7.8 2.1-7.8 .2-5.3 -3.1-7.8 -6.9-10.5 -10.5-11.5 -15.9-14.6 -4.3-5.2 -2.5-5.3 -.8-5.2 .6-5.2 8.6-23.5 3.6-15.7 1.3-15.7 -.9-15.7 -3.2-15.6 -4.9-13.1 -4.1-7.9 -7-11 -4.9-6.8 -4.9-5.4 -4.9-3.5 -5-2 -17.8 0 -1.8 2.3 -6.9 18.6 -3 5.2 -4.1 5.3 -5.7 4.9 -4.9 2.9 -7.4 2.5 -7.3 .5 -7.4-1.4 -4.9-2.3 -5.9-4.5 -4.1-5.3 -2.5-5.2 -1.9-7.8 -.2-7.9 1-7.8 -163.4 0 0 277zM1112.5 618.8l-6.9-3.1 -3.4-2.6 -2-2.6 -1.1-2.6 -.1-2.6 1-2.6 2.6-2.4 2.5-1.2 4.9-1.2 4.9-.4 7.4 .1 7.4 .9 7.3 2 4.3 2.2 3 2.6 1.5 2.6 .2 2.6 -1.1 2.6 -2.6 2.6 -5.3 2.8 -7.3 1.7 -4.9 .3 -5-.3 -7.3-1.4zM1208.3 579.5l-4.9-2.6 -2.5-3 -.8-2.6 0-2.6 .9-2.7 1.8-2.5 3.1-2.5 4.9-1.7 4.9 0 4.9 1.8 2.8 2.4 1.7 2.6 .8 2.6 0 2.6 -.8 2.6 -2 2.8 -4.9 2.7 -5 .7 -4.9-.6zM1267.3 602.7l-4.9-1.7 -4.9-3 -2.7-3.2 -1-2.6 .1-2.6 1-2.6 2.3-2.6 4.5-2.6 8.1-2 4.9-.1 4.9 .7 4.9 1.5 4.6 2.5 2.9 2.6 1.7 2.6 .8 2.6 -.1 2.6 -1.2 2.7 -3.8 3.1 -4.9 2 -4.9 .9 -7.4 0 -4.9-.8z" fill="#730000" fill-rule="evenodd"/>
<path d="M1092.8 741.2l0 1.4 2.5 0 22.1-1.1 29.5-4.1 41.8-8.2 39.3-2.6 66.4-6.9 54-4 7.4-1.3 14.8-3.9 12.3-1.2 4.9-1.1 4.9-2.4 4.9-4 4.5-5 2.4-5.3 .9-7.8 2.8-10.5 -.1-2.6 -1.6-5.2 -4.4-7.8 -8.6-10.5 -8.2-7.7 -13.4-10.6 -5.2-5.2 -3.6-5.2 -2-5.3 -.1-5.2 1.4-5.2 8.6-18.3 4.2-13.1 2.1-13 .3-13.1 -1.8-15.7 -3.8-13.1 -6.3-12.7 -5-7.3 -4.9-5.7 -4.9-4.2 -7.4-3.4 -7.3-1.3 -7.4 .8 -4.9 2.8 -13.3 15.4 -8.9 7.1 -4.9 2.5 -4.9 1.7 -4.9 .9 -4.9 .1 -7.4-1.3 -4.9-2.1 -5.6-3.7 -4.9-5.2 -3.2-5.3 -2.9-7.8 -2.8-18.3 -149.6 0 -4.5 7.8 -3.5 7.6 0 88.6 5.2 11 1.7 2.6 2.8 2.6 6.7 2.6 20.5 3.6 9.8 3 6 3.9 2.1 2.6 1 2.6 -.2 2.6 -1.2 2.6 -2.5 2.6 -2.7 1.7 -7.4 2.7 -9.8 1.3 -7.4-.4 -10.2-2.6 -5.4-2.7 -3.9-2.6 -5.1-4.8 0 132.9zM1205.9 580.2l-2.5-1.2 -2.8-2.5 -1.6-2.6 -.7-2.6 .1-2.6 .9-2.6 1.6-2.6 2.5-2.3 4.9-2.5 2.5-.6 4.9 0 4.9 1.6 4.7 3.8 1.5 2.6 .9 5.2 -.5 2.6 -1.5 2.6 -2.6 2.5 -2.5 1.2 -4.9 1.3 -4.9 0 -4.9-1.3zM1262.4 602.8l-5.3-2.7 -3-2.6 -1.9-2.7 -.9-2.6 0-2.6 .9-2.6 2-2.6 3.7-2.6 4.5-1.9 4.9-1.1 7.4-.4 4.9 .6 4.9 1.4 7.5 4 2.8 2.6 1.7 2.6 1 2.6 .1 2.6 -.9 2.7 -2.1 2.6 -4.2 2.6 -3.4 1.1 -4.9 1 -7.4 .3 -7.4-.9 -4.9-1.4z" fill="#790000" fill-rule="evenodd"/>
<path d="M1093.8 738.6l18.7-.3 17.2-1.5 27-4.3 32-6.1 39.3-2.7 71.3-8 51.6-3.9 19.7-4.6 14.7-1.9 4.9-1.8 4.9-3.3 3.5-3.4 1.7-2.7 .9-2.6 1.4-7.8 2.9-7.8 .3-5.3 -1.5-5.2 -4.4-7.8 -7.2-8.8 -9.8-8.5 -12.6-8.9 -8.5-7.8 -5.8-7.9 -1.8-5.2 .1-2.6 1.9-5.2 9.5-15.9 4.5-10.3 2.9-10.4 1.6-13.1 -.6-15.7 -2.9-13 -5.5-12.7 -7.4-10.5 -4.9-4.7 -7.4-4.1 -7.4-1.8 -7.4 0 -4.9 1.3 -2.4 1.3 -16 12.9 -8.6 5.1 -9.9 3 -4.9 .5 -4.9-.3 -7.4-1.8 -4.9-2.3 -5.7-4.2 -4.7-5.2 -3.3-5.3 -2.4-5.2 -5.2-15.7 -2.2-5.2 -133.3 0 -6.9 10.5 -4 7.8 -4.1 10.4 -2.7 9.8 0 42.7 1.4 5 2.9 7.9 3.9 7.8 5.1 7.9 4.7 5.2 3.5 2.6 5.5 2.6 14.8 4.4 9.8 4.2 5 4.5 1.4 2.6 .5 2.6 -.5 2.6 -1.4 2.6 -2.6 2.6 -4.2 2.7 -3.1 1.2 -4.5 1.4 -5.3 .8 -9.9 .2 -7.8-1 -8.7-2.6 -10.5-5.1 0 125.2 1 .1zM1205.9 581.9l-5.1-2.7 -2.5-2.7 -1.3-2.6 -.2-5.2 2.4-5.2 4.2-3.7 2.8-1.5 4.6-1.3 7.4 .4 2.4 .9 4.1 2.6 2.3 2.6 1.5 2.6 1.1 5.2 -.3 2.6 -1.1 2.6 -2.2 2.7 -4.6 2.6 -5.7 1.3 -4.9-.1 -4.9-1.1zM1267.3 605.6l-4.9-1.3 -4.9-2.1 -4.9-3.6 -2.9-3.8 -.9-2.6 -.1-2.6 .7-2.6 3.2-3.8 4.9-3 4.9-1.8 7.4-1.2 7.4 .1 4.9 .9 4.9 1.6 4.9 2.4 3.1 2.2 4.5 5.2 1.1 2.6 .4 2.6 -.4 2.7 -1.6 2.6 -4.6 3.3 -5.3 1.9 -7 1.1 -7.4 .2 -7.4-1z" fill="#7f0000" fill-rule="evenodd"/>
<path d="M1092.8 733.3l0 2 2.5 .1 14.7 .1 14.8-1 22.1-2.8 41.8-7.7 44.2-3.2 68.3-8.4 47.2-3.4 7.4-1.1 14.8-3.6 14.7-2.1 4.9-2 2.5-1.6 4.1-4.5 1.1-2.6 2-7.8 3.4-7.8 .5-5.3 -2.7-7.8 -5.2-7.9 -5.7-6.1 -7.3-6 -13.4-8.8 -6.8-5.2 -14.3-13.1 -3.8-5.2 -.4-2.6 .9-2.6 13.2-14.6 7.2-11.5 3.9-10.5 2.1-10.4 .5-7.9 -.2-7.8 -2.3-13.1 -4-10.4 -2.9-5.3 -4.3-5.9 -4.9-4.7 -7.4-4.2 -7.4-1.9 -7.4-.4 -4.9 .9 -4.9 2.1 -14.7 9.6 -9.9 4.6 -9.8 2.1 -9.8-.5 -5-1.3 -6.4-3 -3.9-2.6 -5.5-5.2 -5.5-7.9 -8.2-16.9 -6-9.2 -118.6 0 -6.2 7.8 -6.4 10.5 -3.6 7.8 -3.6 10.5 -2.1 10.4 -1 13.1 .7 10.5 2.1 10.4 2.7 7.9 3.8 7.8 5.2 7.8 4.6 5.3 5.5 4.5 5 2.7 17.2 6.7 4.9 2.7 4.7 4.3 1.6 2.6 .8 2.6 0 2.6 -.8 2.6 -1.6 2.6 -2.6 2.6 -7 3.9 -3.9 1.4 -6 1.2 -9.8 .7 -9.8-.9 -7.4-1.7 -12.3-4.2 0 117.2zM1210.8 584.5l-7.4-1.8 -5.3-3.5 -2-2.7 -1-2.6 0-5.2 2.4-5.2 2.4-2.6 3.8-2.6 7.1-2.4 7.4 .3 5 2.1 3.4 2.6 2.2 2.6 2.2 5.2 .4 5.2 -.7 2.6 -1.5 2.7 -3.7 2.8 -7.3 2.4 -7.4 .1zM1274.7 607.9l-7.4-.9 -6.5-1.7 -5.8-2.6 -3.8-2.6 -2.6-2.6 -2.6-5.3 -.2-2.6 .5-2.6 1.6-2.6 4.7-3.7 7.4-3.1 7.3-1.5 9.9 0 7.3 1.4 7.4 2.9 6.1 4 4.8 5.2 2.2 5.2 .1 2.7 -1 2.6 -2.4 2.6 -4.9 2.6 -7.4 1.9 -7.3 .8 -7.4-.1z" fill="#850000" fill-rule="evenodd"/>
<path d="M1092.8 730.7l0 1.9 9.8 .3 14.8-.3 14.7-1.2 27.1-3.9 27-5.3 46.7-3.7 67.3-8.7 50.7-3.8 19.7-4.4 12.3-1.8 7.3-3 2.7-2.7 1.4-2.6 1.5-5.2 4.3-7.8 1.8-5.3 -.5-5.2 -3.8-8.1 -4.9-6.3 -7.4-6.7 -16.2-10.2 -15.7-11.6 -18.8-12 -5.2-5.2 -.6-2.6 1.7-2.6 4-2.6 11.5-5.7 7.4-5.2 4.4-4.8 2.9-4.1 3.4-6.4 2.1-5.2 1.9-7.4 .8-5.7 .4-7.8 -.6-7.8 -1.7-7.9 -1.7-5.2 -2.3-5.2 -4.7-7.4 -4.9-5 -7.4-4.4 -7.4-2.1 -7.4-.8 -4.9 .5 -4.9 1.5 -19.6 9.8 -9.9 3.1 -7.4 .7 -4.9-.2 -9.8-2.4 -7.4-3.8 -4.9-3.9 -3.9-3.9 -5.7-7.9 -10.1-16.6 -8.1-9.5 -104.9 0 -7.2 7.8 -5.6 7.9 -5.7 10.4 -3 7.9 -2.7 10.4 -1.4 10.5 .1 10.4 1.5 10.5 2.3 7.8 3.4 7.9 3.5 5.7 4.9 6.2 4.9 4.6 5 3.5 6.7 3.5 12.9 5.3 7.4 4.6 2.5 2.6 1.8 3.2 1 5.2 -1.4 5.2 -1.9 2.6 -2.7 2.6 -4.1 2.7 -5 2.1 -7.4 2 -7.4 1 -9.8-.1 -12.3-1.9 -12.3-3.3 0 112.5zM1203.4 584.5l-4.9-2.5 -2.5-2.1 -2.2-3.4 -.8-2.6 -.1-2.6 1.4-5.2 3.8-5.2 3.4-2.6 4.4-2.2 7.3-1.5 7.4 1.1 4.9 2.6 3 2.6 3.4 5.2 1.9 7.8 -.2 2.6 -.9 2.7 -2.1 2.6 -5.1 2.6 -7.3 1.7 -7.4 .1 -7.4-1.7zM1267.3 608.4l-7.3-1.9 -5-2 -4.9-2.9 -4.3-4.1 -1.7-2.7 -1.6-5.2 .2-2.6 1.1-2.6 2.7-2.6 8.5-4.2 9.9-2.5 9.8-.5 9.8 1.5 8.6 3.1 8.3 5.2 7.3 7.8 2.7 5.3 .5 2.6 -1.1 2.6 -4.3 2.6 -7.2 2.2 -7.4 1.3 -9.8 .7 -7.4-.2 -7.4-.9z" fill="#8b0000" fill-rule="evenodd"/>
<path d="M1092.8 728.1l0 2 9.8 .5 14.8-.2 17.2-1.3 19.7-2.7 32.4-6.1 48.7-4 66.7-9.1 48.8-3.7 22.1-5.2 8.8-1.5 5.8-2.7 2.2-2.6 2.2-5.2 7.2-10.4 .9-5.3 -.5-2.6 -2.1-5.2 -4.8-6.8 -7.4-6.9 -17.2-10.5 -17.2-11.5 -24.6-12.5 -7.4-3.2 -4.9-1.2 -7.3-.4 -17.3 1.1 -9.8 0 -9.8-.8 -10.1-2.2 -7.1-2.8 -7.5-5 -4.3-5.3 -3-6.2 -2.4-3 -2.5-.1 -9.8 1.9 -7.4 .7 -7.4-.5 -4.9-1.1 -4.9-2.1 -3.9-2.6 -2.2-2.6 -1.6-5.3 .1-2.6 1.6-5.2 1.6-2.6 4.4-4.5 7.4-4.1 4.9-1.1 4.9-.2 4.9 .9 2.9 1.1 4.2 2.7 2.6 2.6 3.5 5.2 4 12 2.5 1.9 22.1-5.9 7.4-.8 7.4 .2 9.8 1.8 9.8 3.8 8.5 5.3 8.7 6.7 4.9 2.5 2.5 .6 4.9 .1 12.3-3.1 9.8-4.5 7.4-6.3 4.9-7.3 3.8-9.6 1.8-10.5 0-7.8 -.6-5.2 -2.8-10.5 -2.5-5.2 -3.5-5.2 -5.2-5.3 -5.7-3.4 -7.4-2.5 -7.4-1.1 -4.9 .1 -4.9 .9 -19.7 8.1 -9.8 2.6 -7.4 .7 -4.9-.2 -9.8-2.2 -4.9-2.1 -4.9-2.9 -6.9-5.8 -6.6-7.9 -13.3-18.2 -10.2-10.5 -91.9 0 -8.2 7.8 -6.4 7.9 -4.9 7.8 -4.7 10.5 -2.9 10.4 -1.2 7.9 -.3 10.4 1.3 10.5 2.1 7.8 3.4 7.9 3.2 5.2 4.2 5.2 5.6 5.2 4.9 3.3 7.4 3.6 14.7 5.7 5.3 3.1 2.7 2.6 2.8 5.3 .6 2.6 -.3 5.2 -2.2 5.2 -5 5.2 -4.1 2.7 -5.9 2.6 -8.6 2.2 -9.8 1 -9.9-.2 -22.1-4 0 108.1z" fill="#910000" fill-rule="evenodd"/>
<path d="M1095.4 728.1l17.1 .5 22.1-1.4 22.1-3 32-5.8 27-1.9 22.1-2.4 66.4-9.3 46.7-3.8 7.8-1.6 21.7-7.9 5.5-5.2 6.8-5.2 4.4-5.2 .9-2.7 .2-2.6 -1.3-5.2 -4.9-7.8 -6.7-6.3 -31.9-19.7 -7.4-4 -17.2-7.9 -14.8-5.3 -9.8-1.5 -22.1-.5 -9.9-.7 -9.8-1.7 -7.2-2.1 -5.9-2.6 -4.3-2.6 -3.3-2.6 -6.3-7 -2.5-2 -4.9-1.3 -17.2-.1 -9.8-1.9 -5-1.9 -4.9-3.6 -2.1-3.1 -.7-2.7 -.1-2.6 1.2-5.2 2.9-5.2 3.7-4.1 5-3.4 4.9-2.2 4.9-1.1 4.9-.2 7.4 1.6 6.7 4.2 4.4 5.2 6.1 10.3 2.4 1.6 5 .1 12.3-2.5 7.3-.9 12.3 .3 7.4 1.4 8.4 2.7 18.6 9.7 4.9 1.7 7.4 .6 9.9-2.1 7.3-2.8 7.4-4.5 2.7-2.6 3.9-5.2 3.6-7.8 2.1-10.5 -.2-10.4 -2.8-10.5 -4.4-8 -4.9-5.2 -4.9-3.2 -7.4-2.9 -9.8-1.7 -4.9 .1 -5 .9 -19.6 6.6 -9.9 1.9 -7.3 .3 -4.9-.5 -9.9-2.6 -9.8-5.3 -7.4-6.2 -19.6-23.7 -7.4-7.6 -6.4-5.6 -79.4 0 -2.7 2.1 -7.4 6.5 -7.4 8.3 -5.9 9.2 -3.7 7.9 -3.2 10.4 -1.3 7.9 -.2 10.4 1.4 10.5 2.3 7.8 2.4 5.2 3.3 5.4 4.9 5.8 5 4.2 7.3 4.2 22.2 7.5 3.6 1.7 3.7 2.6 2.3 2.6 1.3 2.6 .5 2.6 -.2 5.3 -2.9 7.8 -4.2 5.2 -7.2 5.3 -9.2 3.7 -9.9 2.1 -12.3 .7 -9.8-.7 -17.2-2.7 0 106.4 2.6 .2z" fill="#970000" fill-rule="evenodd"/>
<path d="M1092.8 725.5l0 .4 7.4 .6 12.3 .3 24.5-1.5 24.6-3.5 24.6-4.7 44.3-3.8 68.8-10 49.1-4.8 8.4-1.7 5.1-2.7 1.5-2.6 -1.1-2.6 .5-2.6 7.8-2 12.3-1.2 2.4-.6 4.9-2.3 4.6-4.3 1.2-2.7 .4-2.6 -1.3-5.2 -4.9-7.4 -7.3-6.3 -36.9-21.4 -19.7-8.7 -14.7-4.8 -12.3-2 -27.1-1.9 -14.7-2.8 -6.4-2.2 -5.6-2.6 -4.2-2.6 -8.4-6.9 -4.9-2.5 -4.9-.8 -14.8-1 -9.9-1.9 -9.7-3.7 -2.2-1.5 -1.9-2.6 -.3-5.3 1.5-5.2 2.7-5.2 4-5.2 3.5-3.1 5-3.1 4.9-2 7.3-1.3 7.4 .6 4.9 1.8 3.3 1.8 5.6 5.3 5.9 8.4 2.4 2.2 2.5 1.1 4.9 .2 17.2-2.2 9.9 .1 7.3 1 7.4 1.8 19.7 7.9 7.3 2.1 7.4 .1 9.9-2.3 9.8-4.5 4.9-3.8 4.9-6.6 2.4-5.5 1.6-7.9 -.3-10.4 -2.2-7.9 -3.9-7 -5-4.9 -4.9-3 -7.3-2.9 -7.4-1.6 -4.9-.3 -5 .5 -19.6 5.2 -12.3 1.9 -7.4-.1 -4.9-.7 -9.8-2.9 -7.4-3.7 -8.6-6.6 -5.3-5.2 -18.3-20.9 -7.1-7 -7.7-6.1 -66.7 0 -6.8 4.6 -7.3 6.3 -7.4 8 -6.5 9.8 -3.5 7.9 -3 10.4 -1.2 10.5 .6 10.4 1.8 7.9 3.1 7.8 3.2 5.3 3 3.8 5 4.5 4.9 3.3 7.3 3.2 22.2 5.7 7.5 3 4.3 2.6 2.2 2.6 .6 2.6 -.2 2.6 -1.7 5.3 -2.6 5.2 -5.7 7.8 -6.1 5.2 -9.9 5.3 -10.6 3 -12.2 1.5 -12.3-.3 -19.7-2.3 0 102.6z" fill="#9c0000" fill-rule="evenodd"/>
<path d="M1092.8 722.9l0 1.1 17.2 1.1 14.8-.4 14.7-1.2 19.7-2.7 27-5.2 29.5-2.3 22.1-2.4 56.6-8.9 51.6-7.4 2.4-.5 .2-2.6 -12.1-2.6 -2.2-2.6 51-6.3 4.9-2.4 2.5-2.3 1.2-2.1 .5-2.6 -.3-2.6 -1.4-3.6 -2.8-4.2 -4.6-4.5 -4.9-3.3 -32-18.5 -27-11.7 -7.4-2.4 -9.8-2.3 -34.4-3.7 -14.8-3 -9.8-3.7 -14.7-8.9 -7.4-2.8 -29.5-3.3 -5.8 .1 -4 1.3 -2.5 1.7 -11.9 12.7 -5.9 5.2 -8.2 5.3 -8.4 3.6 -9.9 2.6 -12.2 1.5 -9.9 0 -22.1-1.9 0 98.7zM1316.4 579.2l5 .3 4.9-.4 4.9-1.2 7.4-2.7 7.4-4.3 2.5-2.2 4-5.2 3-7.9 .7-5.2 -.2-5.2 -1.1-5.2 -1.5-3.9 -2.4-4 -2.6-2.9 -4.9-3.8 -4.9-2.5 -7.4-2.7 -6.3-1.1 -8.4 .1 -19.7 4.2 -12.3 1.1 -12.3-1.2 -9.8-3.1 -7.4-3.8 -7.3-5.3 -8.2-7.7 -21.3-23.1 -7.4-6.3 -6.8-4.6 -53.3 0 -6.3 3.6 -7.4 5.2 -9.8 9 -7.4 9.7 -5.6 11.7 -2.8 10.5 -.7 10.4 1.2 10.5 2.4 7.8 4.3 7.8 4.4 5.3 6.7 5.1 7.3 3.3 7.4 2 24.6 4.8 4.9 .3 2.5-.4 2.4-1.3 2.5-2.4 9.1-11.4 6.5-5.3 9-4.1 4.9-1 4.9-.3 7.4 1.2 4.9 2.1 6.3 4.8 8.4 9.6 2.5 1.6 2.5 .7 4.9 .2 17.2-1.4 12.3 .7 12.3 2.7 14.7 4.9 7.3 1.9z" fill="#a20000" fill-rule="evenodd"/>
<path d="M1095.8 722.9l21.6 .9 27-2 19.7-3 22.1-4.3 34.4-2.8 24.6-3 71.4-11.9 8.9-2.7 .4-2.6 -2.7-2.6 .5-2.6 8.9-2.6 20.8-1.2 29.5-3.5 4.9-1.8 2.4-1.7 1.8-2.3 .7-2.6 -.2-2.6 -2.3-4.9 -2.2-2.9 -2.8-2.6 -4.8-3.4 -32-18.5 -12.2-5.7 -14.8-6 -17.2-4.9 -34.4-4.3 -14.8-3 -11.5-3.9 -15.5-8.1 -7.4-2.4 -19.6-2 -9.9 .4 -7.3 3.3 -14.6 11.4 -7.5 5.2 -10.3 5.3 -7.7 2.6 -11.6 2.3 -9.8 .7 -29.5-1.4 0 97.4 3 .3zM1305.5 573.9l11 2.3 4.9 0 4.9-.7 5.1-1.6 6-2.6 4.4-2.6 4.2-3.4 2.4-3 2.5-4.5 1.3-4.8 .3-5.2 -1.6-7.8 -2.5-4.4 -2.9-3.5 -4.4-3.4 -4.9-2.7 -5-2 -7.3-1.8 -9.9 0 -19.6 3.3 -12.3 .7 -9.9-1.1 -7.3-2 -4.9-1.9 -7.4-3.8 -8.4-6.2 -6.4-6 -22.1-23.6 -8.6-7 -9-5.2 -41.1 0 -5.2 2.4 -12.7 8.1 -7 5.7 -4.5 4.7 -7.6 10.5 -4.6 10.4 -1.9 7.9 -.8 10.4 .7 7.8 2.2 7.9 3.9 7.8 4.3 5.3 5.9 4.7 7.3 3.5 7.4 1.9 19.7 3.1 4.9 .6 4.9-.2 4.9-1.9 12.7-11.7 7-4.7 4.9-2.2 4.9-1.4 7.4-.8 7.4 1 6.6 2.8 5.7 4.3 7.3 7.8 5 2.8 4.9 .7 17.2-1 9.8 .5 12.3 2.1 13.6 3.7z" fill="#b10000" fill-rule="evenodd"/>
<path d="M1116.6 720.3l15.5-.6 14.8-1.4 17.2-2.5 22.1-4.2 41.8-3.8 19.7-2.7 24.5-4.3 18.4-4 8.1-2.7 4.1-2.6 4.7-5.2 6-2.6 13-2.6 29.3-2.2 20.7-3 7.7-2.7 2-2.6 .2-2.6 -1.1-2.7 -5-5.1 -26.9-16.6 -19.7-10 -17.2-7 -7.4-2.3 -12.3-2.9 -31.9-4.7 -12.3-2.4 -34.4-10.4 -9.9-1.1 -9.8 .6 -4.9 1.2 -12.3 5 -24.8 11.4 -14.5 4.5 -9.9 1.7 -9.8 .8 -29.5-.1 0 90.6 12.3 1.4 11.5 .4zM1301.8 566.1l7.3 .5 7.5-.5 7.3-2.5 4.9-3.1 4.4-4.9 1.9-5.2 -.5-5.2 -3.2-5.2 -2.8-2.7 -4-2.6 -8.1-2.8 -7.4-.6 -22.1 .9 -12.3-.4 -9.8-1.6 -12.3-4 -7.4-4 -7.4-5.6 -7.3-7.4 -14.8-16.9 -9.8-9.1 -7.4-4.9 -9.8-4 -9.9-1.4 -9.8 .9 -9.8 3.1 -12.3 6.4 -9.9 7.2 -7.5 7.6 -5.3 7.9 -4.2 10.4 -1.4 7.9 .1 7.8 1.6 7.9 2.2 5.2 3.5 5.2 3.7 3.7 4.9 3.1 7.4 2.7 7.3 1.2 14.8 1.5 9.8-.1 7.4-2.5 11.6-7 8.1-3.9 9.8-2.7 7.4-.6 7.3 .9 7.4 2.7 14.8 10.5 4.9 1.8 4.9 .7 22.1 .8 22.2 2.9z" fill="#cb0000" fill-rule="evenodd"/>
<path d="M1094.6 715.1l10.5 1.4 9.8 .6 22.1-.6 22.2-2.7 27-4.9 34.4-2.9 24.6-3.3 22.1-4.1 14.8-3.8 7.5-3.3 7.5-5.2 5.6-2.6 8.9-2.5 17.2-2.7 22.1-1.8 9.8-1.5 8.2-2 4.1-1.8 1.6-.8 1.6-2.6 -.9-2.6 -2.5-2.6 -22.4-15.7 -21.6-11.6 -17.2-6.9 -17.2-4.6 -39.4-6.4 -36.8-8 -9.9-.8 -9.8 .9 -19.7 5.5 -24.3 8.4 -12.5 3.2 -17.2 2.4 -32 1.2 0 84.3 1.8 .4zM1147 553l22 1.9 9.8-.8 5-1.5 14.7-6.3 7.4-2.6 9.8-2.3 14.8-1.6 4.9-1.1 2-1.4 -.3-2.6 -4.9-7.8 -16.9-23.5 -7-8.1 -7.3-6.5 -7.4-4.5 -7.4-2.7 -7.4-1 -9.8 1 -4.9 1.5 -7.4 3.1 -7.4 4.1 -7.4 5.2 -4.9 4.3 -4.9 5.6 -3.5 5.8 -2.2 5.2 -1.6 7.5 -.2 5.6 .9 5.2 1.8 5.3 3.6 5.2 3.7 3.3 4.9 2.6 7.5 1.9zM1270.7 550.4l13.8 2.1 7.4 .1 4.9-1 2.8-1.2 0-2.6 -7.3-2.6 -7.8-.4 -11.5 .4 -3.2 .7 -4.4 1.9 5.3 2.6z" fill="#e20400" fill-rule="evenodd"/>
<path d="M1099.1 712.4l18.3 1.8 22.1-.6 22.1-2.7 24.6-4.3 34.4-3 27.1-3.9 14.7-2.9 12.3-3.5 4.9-1.9 14.8-7.7 8.2-2.6 16.3-3.3 29.5-3.6 7.4-1.3 5.9-2.3 2.5-2.6 -.1-2.6 -1.7-2.6 -5.6-5.2 -15.1-10.5 -15.4-9 -14.7-6.4 -12.3-3.8 -12.3-2.8 -66.4-11.1 -12.3-.7 -9.8 .9 -22.1 4.8 -25.8 7.2 -11.1 2.4 -12.3 1.6 -24.6 1.4 -9.8 1.1 0 78.5 6.3 1.2zM1151.6 545.2l19.9 1.9 7.3-.1 9.9-2.1 13.2-4.9 10.7-5.3 2.6-2.6 1.2-2.6 .3-2.6 -2-7.8 -4.1-7.9 -5.5-7.8 -6.6-6.7 -7.4-4.8 -7.3-2.5 -7.4-.6 -7.4 1.1 -7.4 2.6 -10.2 5.6 -10 7.9 -6 7.8 -3 7.9 -.3 7.8 1.6 5.2 1.5 2.6 2.4 2.7 4.4 2.8 9.6 2.4z" fill="#f50c00" fill-rule="evenodd"/>
<path d="M1102.1 709.8l17.7 1.8 22.2-.6 19.6-2.3 24.6-4.3 34.4-3 22.1-3.2 14.8-2.9 9.8-2.8 20.1-8.8 9.4-3.1 12.3-2.9 39-7.1 4.7-2.6 .8-2.6 -1.2-2.6 -2.4-2.6 -19.7-15.7 -8.9-5.3 -12.3-5.4 -12.3-4 -12.3-2.9 -59-9.2 -12.3-1 -12.2 .5 -27.1 4.8 -34.4 7.8 -12.3 1.6 -29.5 2.7 -4.9 .9 0 72.8 9.3 2zM1169.1 537.3l9.7 .9 8.4-.9 7.3-2.6 4.2-2.6 2.5-2.6 1.3-2.6 .5-5.2 -2-7.1 -5-7.5 -4-3.7 -3.3-2.2 -4.9-2 -5-.8 -4.9 .2 -7.4 2.1 -5.4 2.7 -7.7 5.2 -5.4 5.2 -3.4 5.3 -1 5.2 .4 2.6 1.3 2.6 1.6 1.6 2.4 1.6 5 1.8 14.8 2.8z" fill="#ff1a00" fill-rule="evenodd"/>
<path d="M1103.8 707.2l8.7 1.3 9.8 .6 22.1-.6 19.7-2.3 22.1-3.8 29.5-2.5 27-3.8 19.7-4.9 18.6-7.5 10.9-3.6 40.6-9.5 6.4-2.6 2.3-2.6 -.2-2.6 -3.5-5.2 -4.8-5.3 -8.8-7.8 -8.8-5.2 -10.9-4.7 -12.3-3.8 -14.7-3.3 -49.2-7.1 -14.8-1 -14.7 .8 -27 4.2 -34.5 6.9 -36.8 4.2 -7.4 1.7 0 67.3 11 2.7z" fill="#ff2e00" fill-rule="evenodd"/>
<path d="M1104.6 704.6l7.9 1.3 9.8 .9 22.1-.4 19.7-2.2 22.1-3.6 32-2.8 22.1-3.4 17.2-4.1 24.9-9.2 8.7-2.6 30-7.9 6.1-2.6 2.9-2.6 .8-2.6 -.4-2.6 -4.5-7.9 -4.7-5.2 -7.4-5.2 -12.2-5.7 -12.3-3.9 -12.2-2.9 -24.6-3.9 -22.1-2.8 -17.3-1 -14.7 .8 -24.6 3.3 -36.9 6.6 -34.4 4.5 -9.8 2.6 0 61.8 11.8 3.3z" fill="#ff4200" fill-rule="evenodd"/>
<path d="M1124.4 704.6l15.1 0 17.2-1.3 29.5-4.5 36.9-3.4 22.1-4 12.3-3.4 27-9.4 27.6-8 5.9-2.6 3.2-2.6 1.5-2.6 .2-2.6 -.5-2.6 -2.4-5.3 -1.8-2.6 -5.8-5.2 -9.4-5.2 -8.6-3.4 -12.3-3.5 -14.8-3 -19.6-2.9 -22.2-2.3 -12.3-.4 -9.8 .3 -29.5 3.3 -34.4 5.8 -29.5 4 -9.8 2.1 -7.4 2.4 0 56.4 7.4 2.7 7.3 1.8 16.9 2z" fill="#ff5600" fill-rule="evenodd"/>
<path d="M1119.2 702l15.4 .8 19.7-1.1 31.9-4.5 34.4-3.3 22.1-3.9 9.9-2.6 44.4-14.2 7.6-2.6 5.6-2.6 3.5-2.6 1.8-2.6 .7-2.6 -.6-5.3 -2.7-5.2 -5.7-5.2 -7.9-4.4 -8.9-3.4 -10.8-3.1 -14.7-3 -19.7-2.8 -17.2-1.7 -12.3-.6 -9.8 .2 -29.5 3 -59 8.7 -12.3 2.4 -12.3 4.1 0 51.1 12.3 4.4 14.1 2.6z" fill="#ff6800" fill-rule="evenodd"/>
<path d="M1116.2 699.4l15.9 1.4 19.7-.6 14.7-1.6 19.7-3 32-3 22.1-3.8 12.3-3.3 38.3-12.3 10.8-4.4 5.3-3.4 2.2-2.6 1-2.6 0-5.3 -2.3-5.2 -5.7-5.2 -5.4-3 -9.8-4 -9.8-2.8 -12.3-2.6 -17.2-2.5 -17.2-1.8 -12.3-.6 -12.3 .2 -32 2.9 -51.6 7.6 -12.3 2.3 -9.8 2.8 -7.4 3.2 0 45.6 9.8 4.3 13.6 3.3z" fill="#ff7800" fill-rule="evenodd"/>
<path d="M1114.1 696.8l8.2 1.3 9.8 .8 19.7-.4 14.7-1.5 19.7-3 29.5-2.6 22.1-3.8 19.7-5.4 34.7-11.6 5.2-2.6 3.7-2.6 2.4-2.6 1.3-2.6 .5-5.3 -.7-2.6 -1.4-2.6 -2.3-2.6 -6.5-4.3 -8-3.5 -11.7-3.5 -12.3-2.6 -29.5-3.7 -24.6-.7 -34.4 2.9 -22.1 2.9 -36.9 6 -12.3 3.4 -9.8 4.6 0 39.8 9.8 5 11.5 3.4z" fill="#ff8800" fill-rule="evenodd"/>
<path d="M1128.9 696.8l15.5 .3 17.2-1.1 24.6-3.4 32-3.1 12.3-2 12.2-2.8 37.4-11.5 11.9-5.2 3.7-2.6 2.5-2.6 1.5-2.6 .8-2.6 -.4-5.3 -1.4-2.6 -2.4-2.6 -3.6-2.6 -8.2-3.9 -9.8-3.2 -12.3-2.7 -14.7-2.3 -17.2-1.7 -14.8-.6 -12.3 .4 -31.9 2.7 -42.6 6.1 -13.4 2.6 -8 2.2 -7.5 3 -7.2 4.1 0 33.7 6.1 4 8.6 3.8 9.9 2.5 11.5 1.6z" fill="#ff9800" fill-rule="evenodd"/>
<path d="M1123.1 694.1l16.4 1.3 19.7-.8 27-3.5 29.5-2.7 22.1-4 29.7-8.5 14.2-5.3 5.2-2.6 3.8-2.6 2.6-2.6 1.7-2.6 1.2-5.3 -.4-2.6 -1.4-2.6 -2.4-2.6 -3.8-2.6 -5.5-2.6 -7.4-2.6 -20.3-4.5 -27-3 -22.1-.1 -36.9 3 -32 4.4 -19.6 3.8 -13 4.2 -5.3 2.6 -6.3 4.4 0 26.8 4.9 4.1 7.4 4.1 7.4 2.7 10.6 2.3z" fill="#ffa600" fill-rule="evenodd"/>
<path d="M1119.9 691.5l7.3 1.3 9.8 .8 19.7-.3 29.5-3.6 27-2.5 24.6-4.4 24.8-6.9 12.1-4.4 7.4-3.5 3.9-2.6 4.5-5.2 1.5-5.3 -.3-2.6 -2.3-3.4 -4.9-3.8 -6.7-3.2 -5.6-1.9 -19.6-4.3 -24.6-2.6 -22.1-.1 -34.4 2.6 -27.1 3.4 -22.1 4.1 -9.8 2.7 -9.4 3.9 -5.4 3.4 -4.9 4.4 0 18.5 1.8 2.5 5.6 4.9 4.7 2.9 7.6 3.2 7.4 2z" fill="#ffb300" fill-rule="evenodd"/>
<path d="M1132.4 691.5l16.9 .6 17.2-1.2 19.7-2.5 29.5-2.9 14.8-2.5 12.2-2.9 22.9-6.9 11.8-5.2 4.7-3.2 4.2-4.6 1.6-5.3 -.3-2.6 -1.4-2.6 -2.8-2.6 -4.3-2.6 -6.4-2.6 -9.1-2.6 -11-2.2 -14.8-2 -14.7-1 -12.3 0 -46.7 3.4 -17.2 2.3 -17.2 3 -12.3 3 -9.9 3.8 -5 2.7 -6.3 5.3 -3 5.2 -.2 5.2 2.3 5.9 4.9 6 5.2 3.8 7.1 3.4 9.8 2.9 10.1 1.5z" fill="#ffc000" fill-rule="evenodd"/>
<path d="M1127 688.9l15 1.5 19.6-.5 51.6-5.5 24.6-4.5 23-6.7 12.1-5.2 4.3-2.7 4.9-5.1 1.9-5.3 -.3-2.6 -1.5-2.6 -3-2.6 -4.7-2.6 -7.2-2.7 -9.8-2.5 -9.8-1.7 -22.2-2.2 -19.6 0 -36.9 2.7 -22.1 2.8 -19.4 3.6 -12.6 3.8 -9.8 4.8 -4.9 3.9 -2.5 3.2 -1.2 2.6 -.4 2.6 .3 2.6 2.2 5.2 1.8 2.7 4.7 4.4 4.9 3.1 4.9 2.2 12.1 3.3z" fill="#ffce00" fill-rule="evenodd"/>
<path d="M1124.2 686.3l15.3 2.3 19.7 0 51.6-5.2 22.1-3.8 22.1-6 13.5-5.6 4.2-2.6 5.4-5.2 1.4-2.6 .6-2.7 -.3-2.6 -1.6-2.6 -3.2-2.6 -5.2-2.6 -7.8-2.6 -16.8-3.4 -19.7-1.9 -19.6 0 -34.4 2.4 -19.7 2.2 -18.6 3.3 -13.4 3.6 -9.7 4.2 -7 5.3 -2.1 2.6 -1.1 2.6 -.4 2.6 1.3 5.2 4.3 6 7.4 5.3 4.9 2.3 6.8 2.1z" fill="#ffd900" fill-rule="evenodd"/>
<path d="M1134.2 686.3l15.1 1 17.2-.7 44.3-4.6 24.6-4.4 19.6-5.7 9.1-3.9 4.4-2.6 3.3-2.6 2.9-3.7 1.5-4.2 -.3-2.6 -1.7-2.6 -3.5-2.6 -5.7-2.6 -10-2.9 -9.8-1.8 -12.3-1.5 -12.3-.7 -12.3 0 -41.8 3 -27.4 3.9 -11.3 2.6 -8 2.6 -7.3 3.5 -6 4.4 -2.1 2.6 -1.1 2.6 -.3 2.6 1.5 5.2 3.9 5.3 4.1 3.1 7.3 3.7 7.4 2.3 7 1.3z" fill="#ffe400" fill-rule="evenodd"/>
<path d="M1130.4 683.7l6.6 1.2 9.9 .8 17.2-.4 44.2-4.3 22.2-3.7 19.6-5.4 9.6-3.9 4.6-2.6 3.4-2.6 4-5.2 .7-2.7 -.4-2.6 -1.9-2.6 -3.8-2.6 -8.8-3.3 -14.8-3.1 -19.6-1.9 -17.2 0 -34.4 2.4 -17.2 1.9 -17.3 3.1 -12.2 3.4 -7.4 3 -7.4 5 -2.2 2.6 -1.1 2.6 -.3 2.6 1.1 3.8 2.6 4 2.6 2.7 7.1 4.3 10.6 3.5z" fill="#ffef00" fill-rule="evenodd"/>
<path d="M1142.5 683.7l14.2 .5 14.8-.9 41.7-4.3 22.2-4.3 13.5-4.1 11.1-5.2 4.9-3.9 2.9-3.9 .8-2.7 -.5-2.6 -2.1-2.6 -4.3-2.6 -7.2-2.6 -9.3-2.1 -19.7-2.3 -22.1 0 -39.3 2.9 -12.3 1.6 -13.2 2.5 -9.7 2.6 -6.9 2.6 -4.9 2.6 -3.5 2.7 -2.3 2.6 -1.1 2.6 -.2 2.6 .7 2.6 3.5 5.2 3 2.7 4.5 2.6 6.7 2.6 14.1 2.6z" fill="#fffa00" fill-rule="evenodd"/>
<path d="M1137 681.1l12.3 1.4 17.2-.3 39.4-3.6 19.6-3.1 18.5-4.9 11-4.9 4.5-2.9 2.7-2.6 1.7-2.6 .8-2.7 -.6-2.6 -2.4-2.6 -6.7-3.3 -12.3-3.1 -17.2-2 -19.6-.2 -29.5 1.9 -15.4 1.5 -16.5 2.6 -12.4 3.2 -9.8 4 -5 3.3 -2.4 2.6 -1.1 2.6 -.1 2.6 .8 2.6 4.1 5.2 3.6 2.7 5 2.4 9.8 2.8z" fill="#ffff14" fill-rule="evenodd"/>
<path d="M1134.7 678.5l14.6 2.3 14.8 .1 39.3-3.5 17.2-2.4 18.1-4.4 11.4-4.6 5.2-3.2 2.8-2.6 1.9-2.6 .8-2.7 -.8-2.6 -2.7-2.6 -5.5-2.6 -11.5-2.9 -14.8-1.7 -12.3-.4 -14.7 .5 -29.5 2.2 -19.7 2.7 -10.3 2.2 -8.2 2.6 -6 2.8 -3.7 2.5 -2.5 2.6 -1.2 2.6 .1 2.6 1 2.6 1.9 2.6 2.9 2.6 3.9 2.4 7.5 2.9z" fill="#ffff3c" fill-rule="evenodd"/>
<path d="M1145 678.5l11.7 .8 14.8-.4 33.6-3 18-2.9 12.3-3.1 11.2-4.5 4.3-2.6 3-2.6 2-2.6 .8-2.7 -.9-2.6 -3.2-2.6 -6.4-2.6 -5.9-1.4 -17.2-2.2 -19.7-.1 -34.4 2.5 -22.1 3.4 -11.4 3 -5.8 2.5 -4.7 2.8 -2.5 2.6 -1.2 2.6 .2 2.6 1.2 2.6 2.2 2.6 3.5 2.6 5.6 2.7 11 2.6z" fill="#ffff64" fill-rule="evenodd"/>
<path d="M1142.2 675.9l12.1 1.6 14.7 0 32-2.7 17.2-2.4 12.3-2.9 11.3-4.1 4.6-2.6 3.2-2.6 2.1-2.6 .8-2.7 -1.2-2.6 -1.2-.9 -2.5-1.7 -4.9-1.7 -9.8-2.2 -12.3-1.2 -17.2 0 -24.6 1.6 -12.3 1.2 -14.7 2.2 -11.1 2.7 -6.9 2.6 -4.6 2.7 -2.7 2.6 -1.1 2.6 .3 2.6 1.5 2.6 2.7 2.6 4.7 2.8 7.6 2.5z" fill="#ffff8c" fill-rule="evenodd"/>
<path d="M1158.3 675.9l13.2-.2 27-2.2 22.1-3.2 12.3-3.5 8.7-4 3.5-2.6 2.2-2.6 .7-2.7 -1.5-2.6 -4.5-2.6 -9.1-2.4 -14.7-1.5 -14.8 0 -29.5 2 -19.6 2.7 -8 1.8 -7.7 2.6 -4.9 2.7 -2.9 2.6 -1.1 2.6 .6 2.6 1.9 2.6 3.4 2.6 8.8 3.4 13.9 1.9z" fill="#ffffac" fill-rule="evenodd"/>
<path d="M1152.4 673.2l9.2 .8 12.3-.2 27.1-2.2 14.7-2.1 12.3-3.2 8.4-3.5 3.9-2.6 2.3-2.6 .6-2.7 -1.9-2.6 -1-.5 -4.7-2.1 -5.1-1.1 -12.3-1.5 -17.2 0 -29.5 2.2 -17.2 2.7 -10.4 2.9 -5.4 2.7 -3 2.6 -1.1 2.6 .9 2.6 2.5 2.6 4.6 2.6 10 2.6z" fill="#ffffc4" fill-rule="evenodd"/>
<path d="M1151.9 670.6l9.7 1.3 12.3 .1 24.6-1.8 14.7-2.1 10.8-2.7 6.6-2.6 4.3-2.6 2.6-2.6 .5-2.7 -2.6-2.6 -7.4-2.4 -14.8-1.5 -12.2 .1 -18.9 1.2 -21.6 2.6 -10.6 2.6 -6.1 2.7 -3.2 2.6 -.9 2.6 1.4 2.6 3.4 2.6 7.4 2.6z" fill="#ffffdb" fill-rule="evenodd"/>
<path d="M1153.8 668l10.3 1.7 9.8 .2 22.1-1.5 12.3-1.5 7.5-1.5 9.7-3.4 3.4-1.8 2.8-2.6 .2-2.7 -3.8-2.6 -2.6-.6 -7.3-1.4 -7.4-.5 -14.8 .3 -27 2.5 -12.3 2.5 -6.7 2.5 -3.5 2.6 -.6 2.6 2.2 2.6 5.7 2.6z" fill="#fffff3" fill-rule="evenodd"/>
<path d="M1092.8 722.6l9.8 .9 12.3 .3 12.3-.4 14.8-1.3 19.6-2.9 24.6-4.7 34.4-2.8 24.6-3 71.4-11.9 8.9-2.7 .4-2.6 -2.7-2.6 .5-2.6 8.9-2.6 20.8-1.2 29.5-3.5 4.9-1.8 2.1-1.3 2.1-2.7 .7-2.6 -.2-2.6 -2.5-5.2 -2.2-2.8 -4.9-4.2 -32-18.8 -19.7-9.1 -14.7-5.6 -9.8-2.7 -12.3-2.1 -24.6-2.7 -14.8-3 -11.5-3.9 -18-9.1 -7.3-1.8 -19.7-1.7 -4.9 .1 -4.9 1.2 -7.4 4.2 -12.1 9.7 -7.5 5.2 -10.3 5.3 -11.9 3.6 -9.8 1.6 -9.9 .5 -27-1.5M1157 469.4l-7.7 3.7 -7.3 4.7 -7.4 5.6 -4.9 4.6 -4.9 5.7 -4.8 7.1 -2.6 5.3 -2.8 7.7 -1.5 7.9 -.4 7.8 .7 7.8 2.2 7.9 2.4 5.2 4.3 6.3 4.9 4.6 4.9 3.1 7.4 2.8 7.4 1.7 19.6 2.9 7.4 .1 4.9-1.9 12.7-11.7 7-4.7 4.9-2.2 4.9-1.4 4.9-.7 5 0 7.3 1.7 5 2.5 5.8 4.8 6.4 6.8 5 2.8 4.9 .7 17.2-1 9.8 .5 12.3 2.1 19.7 5.3 7.3 .8 5-.4 4.9-1.1 8.6-3.5 7.7-5.2 4.3-5.2 1.5-3.1 1.3-4.8 .3-5.2 -.8-5.2 -.8-2.6 -3.1-5.3 -2.3-2.6 -4.4-3.4 -9.9-4.7 -9.8-2 -7.4 .2 -19.6 3.3 -9.9 .7 -12.3-1.1 -7.3-2 -4.9-1.9 -7.4-3.8 -8.4-6.2 -6.4-6 -22.1-23.6 -8.6-7 -9-5.2M1092.8 707.8l9.8 2.1 9.9 1.3 12.3 .5 12.2-.4 22.2-2.3 27-4.6 32-2.8 22.1-2.9 14.7-2.9 12.3-3.3 20.1-8.8 9.4-3.1 12.3-2.9 39-7.1 4.7-2.6 .8-2.6 -1.2-2.6 -2.4-2.6 -19.7-15.7 -8.9-5.3 -12.3-5.4 -12.3-4 -14.7-3.4 -59-9 -12.3-.7 -12.3 .8 -24.6 4.5 -34.4 7.8 -12.3 1.6 -24.6 2 -9.8 1.6M1169.1 537.3l9.7 .9 8.4-.9 7.3-2.6 4.2-2.6 2.5-2.6 1.3-2.6 .5-5.2 -2-7.1 -5-7.5 -4-3.7 -3.3-2.2 -4.9-2 -5-.8 -4.9 .2 -7.4 2.1 -5.4 2.7 -7.7 5.2 -5.4 5.2 -3.4 5.3 -1 5.2 .4 2.6 1.3 2.6 1.6 1.6 2.4 1.6 5 1.8 14.8 2.8M1092.8 695l9.8 3.8 9.9 2.3 12.3 1.4 12.2 .2 19.7-1.2 29.5-4.3 24.6-2.1 17.2-2.2 22.1-4.8 54.5-17.5 5.6-2.6 3.5-2.6 1.8-2.6 .7-2.6 0-2.6 -1.7-5.3 -4-5.2 -7.6-5.2 -8.5-3.8 -12.3-3.9 -14.8-3.2 -19.6-2.9 -19.7-2 -12.3-.6 -9.8 .2 -36.9 3.9 -59 9.1 -9.8 2.4 -7.4 2.8M1092.8 680.9l7.4 5.7 9.8 4.5 9.8 2.5 12.3 1.5 12.3 .3 12.3-.6 29.5-3.7 29.5-2.7 14.8-2.5 14.7-3.4 22.3-6.6 14.2-5.3 5.3-2.7 3.7-2.5 2.6-2.6 1.7-2.6 1.2-5.3 -.4-2.6 -1.4-2.6 -2.4-2.6 -7.5-4.4 -9.8-3.6 -12.3-3 -14.7-2.4 -17.2-1.7 -14.8-.5 -14.7 .5 -34.5 2.9 -39.3 5.9 -9.8 2.1 -9.9 3 -8.4 3.8 -6.3 4.4M1124.2 686.3l15.3 2.3 19.7 0 51.6-5.2 22.1-3.8 22.1-6 13.5-5.6 4.2-2.6 5.4-5.2 1.4-2.6 .6-2.7 -.3-2.6 -1.6-2.6 -3.2-2.6 -5.2-2.6 -7.8-2.6 -16.8-3.4 -19.7-1.9 -19.6 0 -34.4 2.4 -19.7 2.2 -18.6 3.3 -13.4 3.6 -9.7 4.2 -7 5.3 -2.1 2.6 -1.1 2.6 -.4 2.6 1.3 5.2 4.3 6 7.4 5.3 4.9 2.3 6.8 2.1M1137 681.1l12.3 1.4 17.2-.3 39.4-3.6 19.6-3.1 18.5-4.9 11-4.9 4.5-2.9 2.7-2.6 1.7-2.6 .8-2.7 -.6-2.6 -2.4-2.6 -6.7-3.3 -12.3-3.1 -17.2-2 -19.6-.2 -29.5 1.9 -15.4 1.5 -16.5 2.6 -12.4 3.2 -9.8 4 -5 3.3 -2.4 2.6 -1.1 2.6 -.1 2.6 .8 2.6 4.1 5.2 3.6 2.7 5 2.4 9.8 2.8M1158.3 675.9l13.2-.2 27-2.2 22.1-3.2 12.3-3.5 8.7-4 3.5-2.6 2.2-2.6 .7-2.7 -1.5-2.6 -4.5-2.6 -9.1-2.4 -14.7-1.5 -14.8 0 -29.5 2 -19.6 2.7 -8 1.8 -7.7 2.6 -4.9 2.7 -2.9 2.6 -1.1 2.6 .6 2.6 1.9 2.6 3.4 2.6 8.8 3.4 13.9 1.9" fill="none" stroke="#4a4a4a" stroke-width="1.6"/>
</g>
<clipPath id="hch"><rect x="1588.7" y="470.9" width="388.8" height="309.9"/></clipPath>
<g clip-path="url(#hch)">
<rect x="1588.7" y="470.9" width="388.8" height="309.9" fill="#2c0000"/>
<path d="M1588.7 780.8l388.8 0 0-309.9 -388.8 0 0 309.9zM1710.2 575.3l-2.4-2.4 -.6-1.3 .1-2.6 1.8-2.5 1.1-.8 2.4-.5 2.5 .4 1.3 .9 1.7 2.5 .1 2.6 -.7 1.5 -2.4 2.2 -2.5 .6 -2.4-.6zM1746.6 590l-.7-.3 6.4 0 -3.2 .5 -2.5-.2zM1756.4 504.5l-4.9-2.9 -2.1-2.3 -1.2-2.6 -.2-2.6 .8-2.5 2.2-2.6 2.9-1.9 7.3-1.9 7.3 .5 4.9 1.7 2.6 1.6 2.6 2.6 1.3 2.5 .3 2.6 -.7 2.6 -2 2.6 -1.7 1.2 -4.8 2.2 -4.9 .7 -4.9-.3 -4.8-1.2zM1839 548.5l-4.9-1.1 -3.8-1.6 -3.3-2.6 -1.6-2.6 -.5-2.6 .4-2.5 1.2-2.6 2.4-2.6 2.8-1.9 7.3-2.7 4.8-.6 4.9 .2 4.9 1.1 3.3 1.3 3.7 2.6 2 2.6 .8 2.6 -.2 2.5 -1.2 2.6 -3.6 3.5 -2.7 1.7 -7 2.3 -4.9 .6 -4.8-.2z" fill="#350000" fill-rule="evenodd"/>
<path d="M1588.7 708.5l41.3 .5 72.9-.6 177.4 .1 65.6-.9 7.3-.7 7.3-1.5 12.1 1.3 4.9-.1 0-235.7 -11.5 0 -.7 69.7 -2.4 22.6 -2.4 3.5 -2.4-8.5 -2.1-22.7 -.6-20.7 -.1-43.9 -366.6 0 0 237.6zM1666.5 600.6l-1.2-.6 -1.8-2.6 .9-2.5 2.1-1.4 4.8-.9 2.5 .6 3 1.7 .9 2.5 -1.6 2.6 -4.8 1.4 -4.8-.8zM1710.2 578.1l-2.4-1.4 -2-2.5 -.8-2.6 .2-2.6 1.3-2.5 3.3-2.6 2.8-.6 2.5 .3 2.4 1.3 2.4 3 .6 3.7 -.6 2.2 -2.4 3.1 -2.4 1.3 -2.5 .3 -2.4-.4zM1741.8 592.6l-1.4-.3 -3.1-2.6 6.9-2.4 4.9-.4 4.8 .3 6.6 2.5 -2.9 2.6 -3.7 .6 -4.8 .3 -7.3-.6zM1831.7 548.5l-5.4-2.7 -2.7-2.6 -1.5-2.6 -.6-2.6 .5-3.2 2.5-4.5 2.7-2.6 4.5-2.7 4.9-1.7 4.8-.9 4.9-.3 7.3 .9 4.8 1.6 4.9 3 2.5 2.7 1.3 2.6 .3 2.6 -.5 2.5 -1.3 2.6 -4.7 4.4 -4.9 2.5 -4.9 1.6 -7.3 1 -7.2-.4 -4.9-1.2zM1960.5 665.3l-1.3-.7 -1.3-2.6 2.6-2.2 2.4 .1 2.2 2.1 -1.2 2.6 -1 .6 -2.4 .1zM1758.8 507.4l-4.9-1.7 -4.8-3 -3-3.4 -1.1-2.6 -.3-2.6 .4-2.5 1.4-2.6 2.4-2.6 2.6-1.7 4.9-1.9 4.8-.8 4.9 0 4.9 .8 4.8 1.6 3.6 2 3 2.6 1.8 2.6 .9 2.5 .2 2.6 -.7 2.6 -1.6 2.6 -2.9 2.6 -4.3 2.1 -4.8 1.3 -4.9 .4 -7.3-.9z" fill="#470000" fill-rule="evenodd"/>
<path d="M1588.7 705.9l0 1.3 29.2 .1 160.3-.6 109.4 .2 31.6-.8 30.2-2.8 1.9-2.6 5.2-23.2 .2-2.6 -.7-2.6 -1.5-2.5 -4.4-5.2 -.8-2.6 1.8-2.6 7-6.3 2.4-1.9 2.4-.9 9.7 5.8 2.5 .2 2.4-1.1 0-61.4 -2.4-8.7 -2.5 2.9 -7.2 33.9 -2.5 6 -2.4-2.2 -2.4-8.7 -9.8-56.3 -2.4-8.1 -2.4 1 -6.3 18 -1 2.2 -2.4 1.5 -2.5-3.6 -2.4-8.6 -4.3-22.5 -1.8-15.5 -.7-18 -.2-36.2 -333.2 0 0 235zM1666.5 603l-4.9-2.7 -1.4-2.9 .4-2.5 3.4-3.2 4.9-1.4 4.9 .2 4.7 1.8 2.6 2.6 .5 2.5 -1.3 2.6 -4 2.6 -5 .8 -4.8-.4zM1707.8 579.5l-2.5-2.1 -1.7-3.2 -.4-2.6 .3-2.6 1.1-2.5 2.4-2.6 3.2-1.6 4.9-.2 3.8 1.8 2.3 2.6 1.1 2.5 .3 2.6 -.5 2.6 -2.2 3.9 -2.4 2 -2.4 .9 -4.9-.3 -2.4-1.2zM1734.5 592.5l-3.3-2.8 4.3-2.6 8.7-1.3 7.3-.2 7.3 .8 3.1 .7 3.6 2.6 -1.8 2.6 -9.8 2.2 -9.7 0 -9.7-2zM1819.6 615.9l-2.2-.4 -1.5-2.6 6.1-.9 7.2 .9 .3 2.6 -5.1 .7 -4.8-.3zM1836.6 551.2l-4.9-1 -5.1-1.8 -4-2.6 -2.5-2.6 -1.4-2.6 -.6-2.6 .8-5.1 3.1-4.9 4.8-4.1 4.9-2.5 7.3-2.2 4.8-.6 7.3 .2 9.8 2.4 4.8 2.6 4.2 3.9 1.4 2.6 .6 2.6 -.1 2.6 -.9 2.5 -4 5.2 -3.5 2.6 -5.1 2.6 -7.2 2.2 -7.3 .9 -7.2-.3zM1761.2 509.9l-4.8-1.2 -4.9-2 -4.9-3.4 -3.3-4 -1.1-2.6 -.3-5.1 2.3-4.9 2.4-2.5 4.9-3 4.9-1.7 9.7-1 7.3 1 4.8 1.5 4.9 2.5 3.6 2.9 3.4 5.2 .6 5.1 -2.2 5.2 -2.4 2.6 -5.4 3.3 -5.9 1.8 -6.3 .8 -7.3-.5zM1973.2 690.4l1.9 1.8 2.4-6.8 0-14 -2.4-2 -2.5 .4 -2.6 2.5 -.9 2.6 1.1 7.5 3 8z" fill="#580000" fill-rule="evenodd"/>
<path d="M1597.5 705.9l299.8-.5 17-.4 9.7-.9 4.1-.8 4.3-2.6 6.2-10 4.9-3 2.4-2.3 2.4-4.2 1.2-3.7 .3-2.6 -.6-2.6 -2.1-2.5 -10.9-4.5 -1.1-.7 -1-2.6 3.4-2.6 6-1.5 4.8-2.1 4.2-4.1 1.1-2.6 .5-5.2 -1.7-15.5 -4.1-20.6 -2.4-6 -2.4-1.5 -2.5 1.6 -2.4 2.7 -2.4 1.4 -2.4-.8 -2.5-3.6 -2.4-6.5 -1.3-5.4 -5.2-28.4 -3.2-12.6 -2.4-6.1 -2.5-3.5 -7.3-5.4 -2.5-3.4 -2.5-5.2 -1.9-7.7 -1.1-10.3 -.9-36.2 -309.4 0 0 234.9 8.8 .1zM1661.6 602.8l-3.1-2.8 -1.1-2.6 .3-2.5 1.5-2.6 4.8-3 4.9-1 7.3 .6 4.8 2 2 1.4 1.8 2.6 .2 2.5 -1.2 2.6 -3.1 2.6 -2.1 .9 -4.8 1.3 -4.9 .1 -7.3-2.1zM1715.1 584.7l-4.9-1 -4.9-3 -2.4-3.1 -1.2-3.4 .2-5.2 1-2.5 2.4-3 4.9-2.6 4.9-.2 2.4 .7 3.6 2.5 2 2.6 1 2.5 .1 5.2 -1.8 5.3 -2.5 4.2 -2.4 1 -2.4 0zM1736.9 595l-9.1-2.7 -3.6-2.6 .3-2.6 17.3-2.5 12.1-.3 7.3 .9 4.9 1.4 1.4 .5 2.6 2.6 -1.6 2.7 -4.8 2 -4.9 1 -9.7 .7 -12.2-1.1zM1812.3 615.8l-1-.3 -1.9-2.6 5-2.5 5.2-.5 7.2 .3 4.9 1.3 3.4 1.4 .3 2.6 -6.1 2 -4.9 .5 -4.8-.4 -7.3-1.8zM1766.1 512.3l-7.3-1.1 -7.3-2.5 -4.9-2.9 -4.2-3.9 -2.9-5.2 -.6-5.1 1.6-5.2 1.8-2.6 4.3-4 4.9-2.7 7.3-2.2 4.9-.6 7.3 0 7.2 1.3 7.3 2.7 4.9 3 4.9 5.1 2.2 5.2 0 5.1 -2.3 5.2 -2.3 2.6 -3.3 2.6 -6.5 3.1 -7.3 1.8 -9.7 .3zM1829.3 551.2l-6.9-2.8 -3.6-2.6 -2.2-2.6 -2-5.2 .3-5.1 2.3-5.2 4.8-5.3 4.8-3.5 7.3-3.2 7.3-1.7 7.3-.7 7.3 .5 7.3 1.8 7.3 3.3 4.4 3.7 1.9 2.5 1.3 5.2 -1.1 5.2 -3.6 5.1 -2.7 2.6 -5.1 3.4 -7.3 3.3 -9.7 2.4 -9.7 .5 -9.7-1.6z" fill="#680000" fill-rule="evenodd"/>
<path d="M1588.7 703.3l0 1.8 48.6 .3 148.2-.9 97.2 .2 21.9-.5 14.6-.9 6.9-2.6 1.7-2.5 2.9-10.4 8-10.3 1-2.6 -1.1-2.6 -8.6-7.7 -.7-2.6 2-2.6 2.5-1.6 12.1-6.1 1.7-2.6 .5-2.6 -.3-5.2 -1.9-8.1 -2.4-4.4 -7.3-4.6 -2.4-2.7 -4.9-9.2 -4.9-15.9 -5.5-27.4 -3.6-10.3 -3.3-5.2 -9.4-11.5 -4.9-5.4 -2.4-1.9 -2.5-1.1 -2.4-.1 -2.4 .8 -12.1 8.9 -8.9 5.2 -10.6 3.8 -9.7 1.7 -9.7 .1 -9.8-1.8 -8.7-3.8 -3.2-2.6 -2.1-2.6 -1.4-2.6 -1-5.1 .6-5.2 2-5.2 3.1-5.1 3.5-4.2 12.3-11.3 1.7-2.6 .5-2.6 -.5-2.6 -1.9-2.9 -2.4-2.3 -4.9-3 -4.8-.8 -2.5 1.1 -10.4 13.1 -6.6 5.2 -4.9 2.5 -6.9 2.6 -5.2 1.3 -7.3 1 -7.3 0 -9.7-1.5 -9.7-3.7 -6.9-4.8 -2.3-2.6 -2.9-5.2 -.7-2.6 0-5.1 .6-2.6 2.5-4.9 4.8-5.3 4.9-3.5 3.5-1.8 -163.9 0 0 232.4zM1664 605.4l-5.7-2.8 -2.4-2.6 -1-2.6 .1-2.5 1.2-2.6 2.7-2.6 2.7-1.5 7.3-1.8 8.5 .7 6.7 2.6 3.2 2.6 1.3 2.6 -.1 2.5 -1.3 2.6 -2.9 2.6 -3.3 1.7 -7.2 1.8 -4.9 .1 -4.9-.8zM1729.6 595.1l-9.1-2.8 -10.3-4.6 -4.9-3.2 -2.4-2.5 -2.6-5.2 -.5-5.2 1.6-5.1 1.8-2.6 2.1-1.9 4.9-2.3 4.9-.2 4.8 1.7 2.5 1.9 2.5 3.4 1.1 2.5 .4 5.2 -.6 5.2 1.4 2.9 4.9 1.2 19.4-.6 9.7 .6 5.2 1 4.6 1.7 1.7 .9 2 2.6 -1.1 2.6 -4.8 2.6 -10 2 -14.6 .3 -14.6-2.1zM1814.7 618.2l-7.8-2.7 -2.2-2.6 2.7-2.8 4.9-1.3 7.3-.5 12.1 1.3 2.9 .8 4.7 2.5 .1 2.6 -5.3 2.6 -9.7 .9 -9.7-.8z" fill="#730000" fill-rule="evenodd"/>
<path d="M1588.7 703.3l0 1.1 63.2 .4 133.6-1.1 97.2 0 18.6-.4 13-1.3 5.6-1.3 2.6-2.5 3-10.4 7.2-10.3 .6-2.6 -.4-2.6 -1.7-2.5 -4.9-5.2 -.5-2.6 2-2.6 9.8-7.7 1.8-2.6 .5-2.6 -.4-2.6 -2-5.1 -8.6-16.5 -4.8-11.9 -5.8-18.1 -5.6-20.7 -2.9-7.7 -4-7.8 -3.3-5.1 -4.4-5.2 -3.2-2.5 -4.9-1.5 -4.8 .7 -21.9 9 -7.3 2.1 -9.7 1.5 -7.3 .3 -7.3-.6 -7.3-1.4 -6.5-2.4 -4.5-2.6 -3-2.6 -3.4-5.2 -1.4-5.1 0-12.9 -.6-2.7 -2.3-2.5 -2.6-.9 -4.9-.4 -21.8 .9 -12.2-1.6 -7.3-2.1 -4.8-2.1 -4.9-2.9 -4.5-3.8 -2.2-2.6 -3-5.2 -.8-2.6 -.5-5.1 1.3-7.1 4.8-11 -136.3 0 -14.3 8.2 0 224.2zM1661.6 605.8l-5.9-3.2 -2.3-2.6 -1-2.6 0-2.5 1-2.6 2-2.6 3.8-2.6 7.3-2.2 4.8-.3 4.9 .3 9.7 2.6 4.4 2.2 2.6 2.6 .5 2.6 -.6 2.5 -1.8 2.6 -3 2.6 -5 2.6 -6.8 1.8 -4.9 .4 -4.8-.4 -4.9-1.2zM1734.5 597.7l-12.1-2.2 -12.1-3.2 -5.9-2.6 -2.8-2.6 -1.4-2.6 -1.7-5.1 -.3-7.8 1.7-5.1 1.7-2.6 2.7-2.6 3.5-2 4.8-1 4.9 .6 4.9 2.4 2.7 2.6 1.7 2.6 1.7 5.1 1.1 7.7 2.5 1.6 4.8 .9 17-.3 12.2 .9 4.9 1.1 4.8 2 2.4 1.6 1.6 2.6 -.8 2.6 -3.6 2.6 -9.3 2.6 -14.6 1.3 -17-1.1zM1809.8 618.2l-6.6-2.7 -2.7-2.6 .5-2.5 4-2.2 2.4-.6 7.3-.8 7.3 .1 7.3 .8 7.3 1.7 2.7 1 3.6 2.5 0 2.6 -4.2 2.6 -4.6 1 -12.1 .7 -12.2-1.6z" fill="#790000" fill-rule="evenodd"/>
<path d="M1588.7 703.3l55.9 .9 148.2-1.6 77.8 .1 24.3-.6 15-1.4 5.6-2.5 1.7-2.6 .3-5.2 1.5-2.6 7.5-6.6 2.4-3.7 .8-2.6 -.3-2.6 -1.5-2.5 -4.9-5.2 -.5-2.6 2.1-2.6 6.5-5.1 2.2-2.6 1.1-2.6 -.2-5.2 -3.6-10.3 -17.8-41.3 -2.4-7.8 -3.8-15.5 -2.9-7.7 -4.5-7.8 -2.2-2.5 -3.4-2.6 -3.6-1.4 -7.3 .1 -24.3 7.3 -7.3 1.4 -9.7 .9 -7.3-.2 -7.3-.8 -8.6-2.2 -5.9-2.4 -4.6-2.7 -4.8-5.2 -2.4-5.2 -3-10.3 -1.7-2.6 -3-2.1 -4.8-1.6 -19.5-2.5 -9.7-2.2 -11.2-4.5 -8.2-5.7 -4.3-4.6 -4-7.8 -1.3-7.7 0-10.3 -.6-2.6 -1.3-2.6 -100.2 0 -9.8 3.8 -12.2 6.1 -8.7 5.6 -8.3 6.6 0 210.3zM1666.5 608.1l-4.9-1 -4.8-1.9 -3.7-2.6 -2.1-2.6 -1-2.6 -.2-2.5 .7-2.6 1.7-2.6 2.9-2.6 4.1-2.2 7.3-1.9 9.7 0 12.1 1.9 2.5 .1 2.4-.7 1.6-2.4 1.7-10.3 1.9-5.1 1.7-2.6 2.8-3 3.6-2.2 3.7-1.2 4.9-.2 2.4 .4 2.9 1 4.1 2.6 4.3 5.2 3.7 10.3 3.5 2.6 5.8 .5 19.4-.3 9.8 1 7.2 2.2 3.3 1.7 3 2.6 1.2 2.6 -.5 2.6 -2.3 2.6 -4.7 2.3 -7.2 1.8 -14.6 1.3 -12.2-.1 -12.1-.9 -26.8-3.3 -4.8 1.1 -8.3 5.5 -8.7 3.8 -7.3 1.7 -9.7 0zM1822 620.7l-7.3-.7 -9-1.9 -6.1-2.6 -3.2-2.6 -.8-2.5 2-2.6 4.9-1.8 7.3-.8 9.8 .1 9.7 1 7.3 1.5 6.6 2.6 3 2.5 -.2 2.6 -4.6 2.9 -9.7 2 -9.7 .3z" fill="#7f0000" fill-rule="evenodd"/>
<path d="M1610.4 703.3l46.3 .2 138.5-2.1 75.4-.1 20-.6 6.7-1 6.2-1.5 2-2.6 -3.3-2.2 -2.5-.5 -24.3-.5 -9.7-1 -4.6-1 -.8-2.6 16.6-2.6 10.7 0 14.6 1 7.3-.3 7.3-1.5 4.8-2.6 4.1-4.3 .9-2.6 -.2-2.6 -1.5-2.5 -5.3-5.2 -.5-2.6 2.5-2.6 6.7-5.1 2-2.6 .9-2.6 -.2-5.2 -2.2-7.7 -4.3-10.4 -15.7-30.9 -1.8-5.2 -3.6-18.1 -2.4-7.7 -3.7-6.8 -4.9-4.7 -4.8-1.8 -7.3 .1 -26.7 6 -14.6 1.3 -14.6-1 -14.8-3.5 -7.1-3.1 -5.3-4.6 -3-5.2 -3-7.7 -1.6-2.6 -2.6-2.6 -6.3-3.1 -19.5-5.2 -9.7-3.5 -7.3-3.8 -6.8-5 -4.7-5.2 -3.2-5.2 -5.9-18.1 -1.7-2.5 -4.4-3.5 -3.7-1.7 -61.9 0 -19.5 5.4 -9.7 3.9 -7.3 3.6 -7.3 4.3 -7.2 5.2 -6.8 6 -5.4 5.9 0 197.5 21.7 .6zM1661.6 608.2l-7.5-3 -3.5-2.6 -2.1-2.6 -1.2-2.6 -.2-2.5 .5-2.6 1.3-2.6 2.4-2.6 5.4-3.4 7.3-2.2 7.3-.6 14.6 .7 2.4-.4 2.5-1.2 2.1-3.2 2.7-7.8 2.9-5.1 2.3-2.6 3.4-2.6 6-2.3 7.3 .1 4.9 1.8 2.4 1.5 4.4 4.1 6.2 10.3 3.5 2.6 7.7 .5 21.9-1.7 7.3 .8 4.9 1.6 4.8 2.8 4.3 3.7 2 2.6 1 2.6 0 3.1 -2.4 5.2 -2.4 2.2 -4.9 1.4 -17 .7 -17 .1 -38.9-2.3 -4.9 .5 -4.8 1.2 -14.6 5.3 -7.3 1.7 -9.7 .5 -7.3-1.1zM1814.7 620.8l-12.5-2.7 -6.1-2.6 -3.8-2.6 -2.2-2.5 -.9-2.6 .5-2.6 .7-1 2.4-1.1 4.9-.4 14.6 .3 12.1 1.1 9.7 1.7 7.3 2 5.5 2.6 2.4 2.5 -.3 2.6 -3.3 2.6 -6.7 2.1 -12.2 1.2 -12.1-.6z" fill="#850000" fill-rule="evenodd"/>
<path d="M1588.7 700.7l0 1.1 14.6 .5 53.4 .5 187.1-3.6 26.8-1 -2.8-2.6 -9.4-1.5 -4.8-1.9 -2.7-1.8 1.6-2.6 9.7-2.6 15.7-1.1 29.1-.5 7.3-1.3 4.9-2 3.1-2.8 1.2-2.6 -.1-2.6 -1.6-2.5 -5.8-5.2 -.5-2.6 10.3-7.7 2.1-2.6 .9-2.6 -.2-5.2 -2.3-7.7 -4.7-10.9 -4.8-8.9 -7.3-11.4 -3.9-7.6 -2.5-7.7 -2.5-15.5 -2.1-7.7 -3.6-6.9 -3.7-3.5 -3.6-1.8 -7.3-.9 -7.3 .8 -21.9 4.2 -17 1 -17-1.2 -24.3-3.1 -2.4-1.3 -2.2-2.8 -4.7-15.5 -3.7-5.2 -3.6-2.6 -5.5-2.6 -21.6-8.4 -11.2-7.1 -7.6-7.7 -3.4-5.2 -7-14 -4.8-4.7 -4.9-2.4 -4.9-1.5 -12.1-1.6 -14.6-.1 -17 1.8 -12.2 2.5 -12.1 3.6 -9.7 3.9 -9.7 5 -9.8 6.6 -6.9 6.1 -6.9 7.7 -5.6 8.4 0 182.7zM1809.8 620.8l-11-2.7 -6.3-2.6 -9.4-5.7 -4.9-2.3 -4.8-1.2 -7.3-.8 -53.5-2.2 -12.1 1.5 -21.9 5 -7.3 .5 -7.3-.6 -7.4-1.9 -5.3-2.6 -3.4-2.6 -2.2-2.6 -1.2-2.6 -.5-2.5 .3-2.6 1.1-2.6 4-4.5 7.3-3.9 9.8-2.1 17-.3 4.8-1.5 2.5-2.5 4.4-8.4 3.9-5.2 6.2-4.4 4.9-1.5 7.3 0 7.3 2.7 4.4 3.2 7.7 8.5 2.5 1.9 4.8 1.4 7.3-.9 21.9-7.1 7.3-.9 2.4 .5 2.4 1.7 2.5 2.9 10.3 15.2 2.6 5.2 1.8 5.2 2.2 2.5 6.7 2.6 20.1 3.7 9.7 2.4 7.3 3.1 1.8 1.2 2 2.5 -.5 2.6 -3.1 2.6 -7.5 2.6 -14.6 1.4 -7.2-.2 -9.8-1.1z" fill="#8b0000" fill-rule="evenodd"/>
<path d="M1588.7 700.7l36.5 1.3 43.7-.1 97.2-2.4 51-1.9 19.5-1.7 2.4-.5 2.4-1.7 1.4-3.3 3.4-2.6 8.7-2.6 18.1-2 31.6-1.2 7.3-1.3 4.9-1.9 1.8-1.3 1.7-2.6 0-2.6 -1.7-2.5 -6.5-5.2 -.4-2.6 3.3-2.6 6.6-3.8 4-3.9 .9-2.6 -.1-5.2 -2.3-7.7 -4.8-10.4 -13.7-20.6 -3.8-7.8 -2.3-7.7 -2.7-18.1 -1.9-5.5 -2.5-4 -2.4-2.5 -2.4-1.5 -4.9-1.6 -9.7-.2 -21.9 3.5 -9.7 .9 -29.1 .7 -7.3 1.9 -3.7 3.2 -.9 2.5 0 2.6 1.4 5.2 8 14.2 2.9 3.9 3.8 2.5 5.5 1.9 24.3 6.7 4.1 1.8 3.8 2.6 1.5 2.5 -.6 2.6 -3 2.6 -8.3 2.9 -7.2 1.2 -9.8 .6 -17-1.3 -14.4-3.4 -14.7-6.2 -7.3-2.3 -12.2-1.7 -29.1-1.6 -19.5-.4 -14.6 1.4 -17 3.2 -9.7 .7 -7.3-.6 -4.8-1 -5.7-1.8 -5.1-2.6 -3.4-2.6 -2.4-2.6 -1.5-2.6 -.7-2.5 .1-2.6 .8-2.6 3.3-4.4 2.4-2 4.9-2.8 9.7-2.9 19.4-1.1 4.9-1.3 2.4-1.7 6.9-9.6 5.2-5.2 4.9-2.9 4.9-1.5 7.3-.1 6.4 1.9 4.7 2.6 8.3 6.4 4.9 2.2 2.4 .3 4.9-.7 9.7-4.2 9.9-6.6 4.6-5.1 1.4-2.6 1.3-5.2 -.2-5.2 -.8-2.5 -1.5-2.6 -2.4-2.6 -8.3-5.2 -18.6-9.1 -9-6.4 -7.4-7.7 -10.3-15.4 -4.9-4.3 -7.3-3.3 -12.1-2.1 -14.6-.1 -14.6 1.5 -14.6 3.1 -12.1 4 -12.1 5.7 -9.2 5.7 -9.1 7.8 -6.7 7.7 -5.1 7.8 -6.4 12.7 0 168z" fill="#910000" fill-rule="evenodd"/>
<path d="M1607.6 700.7l32.1 .7 31.6-.3 31.6-1.4 51-1 53.5-2.6 19.4-2.3 4.9-1.4 8.7-4.6 8.5-2.6 4.7-.7 13.8-1.8 29.9-1.6 9-1 7.8-2.6 2.6-2.6 .2-2.6 -1.9-2.5 -6.7-5.2 -.3-2.6 3.4-2.6 9.5-5.1 2.4-2.6 1.1-2.6 -.2-5.2 -2.3-7.7 -3.7-7.8 -3.9-6.1 -10.9-14.5 -5.5-10.4 -2.2-7.7 -1.8-15.5 -1.5-5.1 -1.3-2.6 -1.8-2.6 -3.1-2.6 -3.5-1.6 -4.5-1 -7.6-.1 -24.3 3.1 -26.4 2.2 -7.6 2.5 -2.7 2.6 -1 2.6 0 2.6 1.6 5.2 6.6 10.3 4.9 5.2 4.6 2.5 24.8 8.4 3.9 2 3 2.6 1.2 2.5 -.9 2.6 -3 2.6 -6.2 2.6 -5.3 1.2 -7.2 1.1 -9.8 .5 -17-1.3 -8.5-1.5 -9.4-2.6 -18.5-6.1 -17-2.4 -26.8-1.3 -19.4-.2 -14.6 1.1 -17 2.4 -9.7 .3 -12.2-1.9 -6.4-2.2 -5-2.6 -6.5-5.2 -2.8-5.1 -.2-2.6 .6-2.6 1.3-2.6 2-2.6 2.9-2.6 4.3-2.5 5-2.1 7.3-1.9 19.4-1.3 4.9-1 4.8-3.1 7.4-8.7 2.8-2.6 4.4-2.9 7.3-2.6 4.9-.3 4.8 .6 7.3 2.5 12.2 6.2 2.4 .4 4.8-.5 7.3-3.4 7-5.2 4.4-5.1 2.4-5.2 .5-2.6 -.6-5.1 -1.4-2.6 -2.2-2.6 -7.3-5.2 -14.9-8.6 -7.3-5.3 -7.1-6.7 -12.3-15.2 -4.9-3.8 -7.3-3.1 -12.1-1.9 -12.2 0 -14.6 1.7 -14.6 3.4 -12.1 4.4 -12.1 6.4 -9.8 7.2 -8.1 8.6 -5.4 7.8 -5.4 10.3 -7.8 18.8 0 150.3 18.9 1.3z" fill="#970000" fill-rule="evenodd"/>
<path d="M1591.3 698.2l29 1.9 34 .4 24.3-.6 24.3-1.3 41.3-.7 36.5-1.8 24.3-1.6 14.6-1.9 4.8-1 19.2-6.4 14.8-2.5 43.8-3.6 6.4-1.6 3.9-2.6 .5-2.6 -1.9-2.5 -6.7-5.2 -.2-2.6 3.7-2.6 10.4-5.1 2.7-2.6 1.2-2.6 -.1-5.2 -2.4-7.7 -4.1-7.8 -16.1-20.6 -6.1-10.4 -2.1-7.7 -1.2-15.5 -1.9-5.2 -1.7-2.5 -3-2.6 -3.2-1.6 -4.9-1.2 -12.1 .2 -36.5 4.4 -3.3 .8 -3.9 1.7 -1.5 .8 -2 2.6 -.5 2.6 1.3 5.2 5.1 7.5 5.1 5.4 3.5 2.6 4.9 2.5 20.5 7.9 4 2.5 2.4 2.6 .6 2.5 -1.2 2.6 -3.1 2.6 -5.9 2.6 -9 2.1 -14.5 1.3 -17-.8 -14.5-2.6 -24.4-6.9 -12.2-1.9 -12.1-1 -36.5-1.1 -17 .8 -19.4 2.1 -9.7-.1 -7.3-1.1 -7.3-1.9 -5-1.8 -9.5-5.2 -5.9-5.2 -1.5-2.5 -.7-2.6 .3-2.6 1-2.6 4.3-5.1 7.3-4.8 4.8-2 7.3-1.9 7.3-1 17-.9 4.9-1.3 4.8-3.3 8.2-8.1 3.6-2.6 5.2-2.6 4.9-1.4 4.9-.4 4.8 .4 5.4 1.4 11.6 4.3 4.9 .4 2.4-.4 4.9-2.1 6.1-4.7 4.1-5.2 2-5.2 -.3-5.1 -1.1-2.6 -2-2.6 -6.3-5.2 -18.7-12.9 -8.2-7.7 -9.6-10.8 -7.3-5.4 -7.3-2.7 -9.7-1.5 -12.2-.1 -12.1 1.4 -14.6 3.4 -12.2 4.5 -11.1 6 -9.8 7.8 -6.9 7.7 -5 7.8 -5.1 10.3 -8 20.6 -2.5 7.8 -1.6 7.7 -1 21.5 0 107.3 2.6 .4z" fill="#9c0000" fill-rule="evenodd"/>
<path d="M1606.2 698.2l26.2 1.2 29.2 .1 41.3-2 41.3-.8 41.3-2.2 29.2-3 9.7-2.1 14.2-4.2 14-2.5 47.1-4.7 2.5-.5 5.6-2.6 1-2.6 -1.8-2.5 -6.5-5.2 0-2.6 3.8-2.6 11.2-5.1 3.1-2.6 1.4-2.6 -.1-5.2 -3.1-8.8 -4.9-7.9 -19.6-22 -5.5-7.8 -1.4-5.1 .5-15.5 -1.2-5.2 -1.5-2.6 -2.9-2.7 -4.9-2.2 -2.4-.5 -12.1-.2 -24.4 3.1 -9.3 2.5 -3.6 2.6 -1.2 2.6 .1 2.6 .9 2.6 3.7 5.1 4.6 4.5 8.5 5.9 20.7 8.9 4.8 3.4 2 3.2 -.2 2.5 -1.7 2.6 -3.4 2.6 -6.4 2.8 -12.2 2.7 -14.5 1.1 -17-.8 -17.1-3 -26.7-6.5 -21.9-2.1 -34-1 -17 .5 -19.4 1.7 -12.2-.3 -7.3-1.2 -9.7-2.8 -10.1-4 -10.4-5.2 -6.8-5.1 -1.4-2.6 0-2.6 1.1-2.6 4.5-5.2 6.1-4.6 4.9-2.6 7.3-2.7 7.2-1.6 9.8-1 17-.5 4.8-.9 4.9-2.2 8.5-7.1 6.1-4.2 4.8-2.2 4.9-1.3 7.3-.4 7.3 1.1 9.7 2.5 4.9 .2 2.4-.5 4.8-2.4 3.7-3.1 2.2-2.6 2.5-5.2 .2-5.1 -1-2.6 -4.1-5.2 -18-13.8 -17-16.3 -7.3-5.5 -7.3-3 -9.7-1.7 -12.2 0 -12.1 1.4 -12.2 2.9 -12.1 4.7 -9.9 5.5 -9.6 7.7 -6.5 7.8 -4.6 7.7 -4.4 10.4 -6.9 20.6 -2 7.8 -.8 7.7 .7 7.8 1.7 7.7 .2 2.6 -.6 2.6 -3.8 5.1 -7 5.5 0 93.3 17.5 2z" fill="#a20000" fill-rule="evenodd"/>
<path d="M1621.3 698.2l23.3 .6 24.3-.3 34-1.8 41.3-.9 38.9-2.2 26.7-2.7 38.9-8.3 47.3-5.1 7.6-2.6 1.6-2.6 -1.7-2.5 -6.2-5.2 .2-2.6 3.9-2.6 11.7-5.1 3.5-2.6 1.5-2.6 0-5.2 -1.7-5.1 -2.5-5.2 -4.4-6.4 -4.9-5.6 -9.7-9 -4.9-3.6 -11-6.4 -1.1-1.7 -1-3.5 .2-2.5 4.1-13 .5-5.1 -.4-2.6 -1.1-2.6 -2-2.6 -4.4-2.5 -3.2-.9 -4.9-.4 -7.3 .2 -17 2.3 -6.1 1.3 -3.6 1.7 -1.6 .9 -2 2.6 -.2 2.6 1 2.6 1.7 2.5 3.5 3.5 4.9 3.6 11.3 5.9 17.9 6.5 2.4 1.2 3.1 2.6 .6 2.6 -.5 2.6 -1.5 2.5 -2.5 2.6 -4 2.6 -9.8 3.7 -12.2 2.5 -14.5 .9 -17-.8 -14.6-2.4 -26.7-6 -21.9-2.4 -36.5-1.2 -17 .4 -19.4 1.3 -12.2-.3 -7.3-1.1 -9.5-2.3 -29.3-9.5 -7.3-1.1 -4.9 .3 -4.8 1.3 -12.2 5.4 0 88.1 14.6 1.9 18 1.4zM1610.5 574.2l2.5 .8 4.9-.4 14.5-4.8 12.2-2.3 9.7-.7 19.5-.1 7.2-1 4.9-2.2 14.6-10.1 4.8-2.1 4.9-1.3 7.3-.5 14.6 2 4.8 .1 2.5-.5 4.8-2.5 3-2.8 3.1-5.2 .5-5.1 -2.3-5.2 -4.9-5.2 -14-11.3 -17-15.5 -7.3-4.6 -9.7-3 -9.7-.9 -12.1 .6 -14.6 2.8 -12.2 4.2 -12.1 6.6 -9.6 8.2 -6 7.8 -4.1 7.7 -2.8 7.8 -5 20.6 -.7 10.4 1.4 5.1 2.4 2.6z" fill="#b10000" fill-rule="evenodd"/>
<path d="M1624.8 695.6l22.2 .8 21.9-.2 34-1.7 36.5-.8 34-1.9 29.1-2.9 38.9-7.1 41.3-5.6 6.3-1.3 4.2-2.6 -.6-2.5 -4.6-5.2 .7-2.6 4-2.6 12.8-5.1 4.2-2.6 2-2.6 .5-2.6 -.3-2.6 -2-5.1 -2.9-4.7 -7.3-8 -7.3-4.7 -7.2-1.8 -7.3 .4 -17 3.7 -12.2 2 -9.7 .8 -12.2 .2 -21.8-1.8 -31.6-5.8 -17-2.1 -38.9-1.8 -51 .6 -12.2-1.4 -21.9-3.9 -12.1-1.3 -7.3 0 -7.3 .7 -7.3 1.4 -9.7 3 0 77 17 2.6 19.1 1.7zM1664.6 558.7l9.2 .6 7.2-.6 7.3-2.6 12.2-6.3 7.3-2.6 7.3-1.2 12.1-1.1 4.9-1.4 3.8-2.9 1.6-2.6 .7-2.5 -1-5.2 -1.4-2.6 -4.4-5.1 -13.9-12.6 -9.7-7 -7.3-3.4 -9.7-2.1 -9.8-.3 -12.1 1.6 -12.2 3.6 -7.3 3.4 -4.8 3 -4.5 3.4 -4.9 5.2 -3.5 5.2 -2.2 5.1 -1.5 7.8 .3 5.1 1.7 5 1.9 2.8 5.4 4 4.9 2 6.2 1.7 16.2 2.6z" fill="#cb0000" fill-rule="evenodd"/>
<path d="M1624.1 693l20.5 1.1 24.3 0 34-1.6 34-.7 29.2-1.7 36.4-3.7 68.1-11 9.4-3.1 1.2-2.5 -2.1-5.2 1.1-2.6 4-2.6 13-5.1 4.7-2.6 2.4-2.6 .6-2.6 -.4-2.6 -2.3-4.8 -2.2-2.9 -5.1-4.8 -7.3-3.8 -7.3-1.5 -9.7-.1 -29.2 2.2 -19.4-.2 -17-1.5 -31.6-5.2 -21.9-2.3 -34-1.5 -51 0 -38.9-3.6 -9.7 0 -9.8 .9 -9.7 1.8 -9.7 2.8 0 68.6 17 3 18.4 2zM1670.6 551l8 .6 7.3-.9 34-11.8 2.5-1.4 2.4-2.9 .6-1.7 0-2.6 -.7-2.6 -3.3-5.1 -8.2-7.8 -7.9-5.2 -7.3-3 -7.2-1.5 -9.8-.2 -9.7 1.5 -9.6 3.2 -8.7 5.2 -2.9 2.6 -3.1 3.8 -3 6.5 -.3 5.2 .6 2.6 2.9 5.1 2.7 2.6 4 2.6 7.7 3.1 9 2.1z" fill="#e20400" fill-rule="evenodd"/>
<path d="M1621 690.4l18.7 1.4 21.9 .5 72.9-2.2 41.3-2.7 31.6-3.9 50.8-8.6 8.7-2.6 3.2-2.5 .4-5.2 1.6-2.6 3.9-2.6 17.2-7.7 2.6-2.6 .6-2.6 -.7-2.6 -1.6-2.6 -5.6-5.1 -5.8-3 -7.3-2.1 -9.7-.9 -31.6-.1 -17-.8 -14.6-1.6 -34-5 -14.6-1.4 -34-1.7 -53.4-.5 -26.8-1.8 -12.1-.2 -19.5 1.6 -9.7 2.1 -9.7 2.8 0 61.4 17 3.4 15.3 2zM1671.9 540.6l6.7 1.6 4.9 .3 4.8-.4 6.1-1.5 7-2.6 4.9-2.5 2.9-2.6 1.3-2.6 .1-2.6 -1-2.6 -1.8-2.5 -2.9-2.6 -4.4-2.8 -4.9-1.9 -4.8-1 -4.9-.4 -7.3 .7 -4.8 1.4 -3.5 1.4 -4.1 2.6 -2.7 2.6 -1.6 2.5 -.8 2.6 .5 4.6 2 3.2 3 2.5 5.3 2.6z" fill="#f50c00" fill-rule="evenodd"/>
<path d="M1653.7 690.4l22.5 0 26.7-1.2 24.3-.4 36.5-2.1 38.8-4.5 42.5-7.3 9.7-2.6 4.8-2.5 4.9-7.8 3.7-2.6 15.6-7.7 2.3-2.6 .3-2.6 -1.4-2.6 -2.2-2.2 -4.3-2.9 -6.1-2.6 -9-2 -48.6-3.6 -46.2-6.1 -24.3-2.1 -24.3-1 -89.9-1.7 -9.7 .7 -12.2 1.6 -9.7 2.2 -9.7 3.1 0 54.9 14.6 3.4 17 2.6 17 1.5 16.4 .7z" fill="#ff1a00" fill-rule="evenodd"/>
<path d="M1636.2 687.8l15.7 .9 19.4 .2 65.6-1.9 36.5-2.8 34-4.6 25.9-4.7 10.2-2.6 5.2-2.1 4-3 4.4-5.2 16.9-10.3 1.7-2.6 -.5-2.6 -2.3-2.6 -4.1-2.6 -6.4-2.5 -8.8-2.1 -43.8-5 -38.8-5.2 -26.8-2.4 -53.4-1.7 -55.9-.5 -12.2 .8 -12.1 1.8 -12.2 2.9 -9.7 3.4 0 48.6 9.7 2.8 12.2 2.5 25.6 3.1z" fill="#ff2e00" fill-rule="evenodd"/>
<path d="M1627.6 685.2l17 1.6 19.4 .6 60.8-1.3 36.4-2.2 36.5-4.5 25.1-4.5 10.5-2.6 7.1-2.5 4.2-2.6 8.9-7.8 8.2-5.1 2.8-2.6 .8-2.6 -1.4-2.6 -5.5-3.5 -7.3-2.7 -9.7-2.3 -70.4-9.9 -34.1-2.9 -51-1.5 -36.5-.2 -14.5 .4 -12.2 1.2 -12.1 2 -12.2 3.2 -9.7 3.8 0 42.6 17 4.9 21.9 3.6z" fill="#ff4200" fill-rule="evenodd"/>
<path d="M1645.3 685.2l30.9 .9 58.3-1.7 34-2.7 31.6-4.4 23.9-5 10.1-3.6 4.9-3 14.6-11.4 1.9-2.6 -.2-2.6 -2.4-2.6 -6.6-3.4 -7.3-2.3 -12.2-2.7 -55.8-8.4 -21.9-2.2 -19.5-1.2 -51-1.2 -26.7 0 -17 .8 -12.2 1.4 -12.1 2.3 -12.2 3.6 -9.7 4.2 0 36.4 9.9 3.7 14.4 3.6 14.6 2.4 17.7 1.7z" fill="#ff5600" fill-rule="evenodd"/>
<path d="M1633.7 682.7l15.7 1.4 19.5 .7 51-1 34-2 29.2-3.3 24.3-4.3 17-4.7 5.2-2.3 7-4.9 6.8-5.5 2.5-2.5 1-2.6 -1-2.6 -3.2-2.6 -3.7-1.8 -9.8-3.4 -11-2.5 -23-4.1 -24.2-3.5 -19.5-2.1 -24.3-1.5 -53.4-1.2 -21.9 .3 -17 1 -14.6 2.1 -12.2 2.8 -10.1 3.6 -9.3 4.7 0 30 9.3 4 10.1 3.1 12.2 2.7 13.4 2z" fill="#ff6800" fill-rule="evenodd"/>
<path d="M1649.2 682.7l29.4 .9 51-1.4 26.8-1.9 29.1-3.7 21.8-4.3 9-2.5 6.4-2.6 6.6-4 7.5-6.4 1.8-2.5 .3-2.6 -1.7-2.6 -3.1-2.1 -6.8-3.1 -8.4-2.6 -16.4-3.6 -19.4-3.3 -21.9-2.9 -19.4-1.8 -21.9-1.1 -53.4-.8 -19.5 .7 -14.6 1.3 -14.5 2.6 -12.2 3.5 -9.7 4.2 -7.3 4.7 0 22.7 2.4 1.5 9.8 4.6 14.5 4.3 17 3.1 16.8 1.7z" fill="#ff7800" fill-rule="evenodd"/>
<path d="M1637.1 680.1l14.8 1.4 17 .8 48.6-.7 31.6-1.8 26.7-3.1 23.9-4.4 9.5-2.5 7-2.6 4.9-2.6 6.9-5.2 2.5-2.6 1.3-2.5 -.3-2.6 -2.3-2.6 -4.3-2.6 -7.8-3 -18.6-4.7 -20.3-3.7 -19.4-2.5 -21.9-2 -53.4-1.6 -34.1 .8 -14.5 1.4 -12.2 2.1 -12.1 3.3 -9.7 4 -7.3 4.5 -4.9 4.7 0 13.3 4.7 4.1 7.5 3.9 10.4 3.8 11.4 2.8 14.4 2.4z" fill="#ff8800" fill-rule="evenodd"/>
<path d="M1650 680.1l28.6 1.2 43.8-1 26.7-1.6 24.3-2.9 19.4-3.6 9.6-2.4 7.5-2.6 9.3-5.2 5.3-5.2 .9-2.5 -.8-2.6 -2.7-2.6 -9.6-4.5 -14.6-4.1 -19.5-3.9 -19.4-2.7 -21.9-2 -55.9-1.7 -19.4 .3 -14.6 1 -14.6 1.8 -12.1 2.6 -9.7 3.1 -10.2 4.9 -6.3 5.2 -3.2 5.2 -.4 2.5 .5 2.6 1.5 2.6 5.9 5.1 4.9 2.7 9.7 3.6 9.7 2.6 12.2 2.3 15.1 1.8z" fill="#ff9800" fill-rule="evenodd"/>
<path d="M1673 680.1l42.1-.6 19.4-.8 24.3-2.2 19.4-2.8 17.7-3.9 7.9-2.6 5.7-2.6 7.3-5.2 2-2.6 .5-2.5 -1.2-2.6 -3.1-2.6 -7.6-3.6 -13.8-4.2 -20.2-4 -19.5-2.7 -21.8-1.9 -51.1-1.3 -19.4 .4 -14.6 1.1 -12.1 1.7 -12.2 2.6 -9.7 3.3 -7.3 3.4 -6.9 5.2 -3.3 5.2 -.5 2.5 .6 2.6 1.5 2.6 2.7 2.6 8.3 4.9 7.5 2.8 12 3.2 14.6 2.4 14.5 1.5 16.3 .7z" fill="#ffa600" fill-rule="evenodd"/>
<path d="M1649.7 677.5l26.5 1.6 38.9-.6 24.3-1.2 24.3-2.6 21.8-4 14.6-4.4 7.3-3.7 4.1-3.2 1.8-2.6 .2-2.5 -1.6-2.6 -2.1-1.7 -6.6-3.5 -15.2-4.7 -17-3.5 -17.1-2.4 -19.4-1.8 -51-1.6 -17 .4 -14.6 1 -12.2 1.5 -12.1 2.5 -9.7 3 -7.3 3.3 -7 4.9 -3.7 5.2 -.5 2.5 .6 2.6 1.7 2.6 2.8 2.6 6.1 3.5 7.3 3 9.7 2.8 9.7 1.9 12.4 1.7z" fill="#ffb300" fill-rule="evenodd"/>
<path d="M1664.3 677.5l21.6 .6 36.5-.8 21.8-1.5 21.9-2.7 17-3.3 9-2.6 6.5-2.6 4.6-2.6 3.1-2.6 1.7-2.6 -.1-2.5 -2.9-3.4 -2.6-1.8 -5.6-2.6 -13.7-4.1 -17.8-3.6 -16.2-2.2 -19.5-1.7 -46.1-1.2 -29.2 1.3 -12.1 1.6 -12.2 2.5 -9.7 3.1 -8.7 4.3 -3.5 2.7 -2.3 2.5 -1.5 2.6 -.5 2.5 .6 2.6 1.8 2.6 3 2.6 3.8 2.2 6.6 3 8.4 2.5 11.7 2.5 24.6 2.7z" fill="#ffc000" fill-rule="evenodd"/>
<path d="M1649.3 674.9l19.6 1.7 21.9 .4 36.4-.9 29.2-2.7 20.4-3.6 9.6-2.6 6.8-2.6 4.9-2.6 3.1-2.6 1.6-2.6 -.2-2.5 -2.1-2.6 -2.8-1.9 -7.1-3.3 -12.4-3.7 -14.5-2.9 -17.1-2.4 -17-1.5 -43.7-1.2 -14.6 .3 -14.6 1 -12.1 1.6 -9.7 2 -9.7 2.9 -8.6 3.9 -3.7 2.6 -2.6 2.6 -1.6 2.6 -.6 2.5 .7 2.6 1.9 2.6 3.2 2.6 4.7 2.6 13.8 4.6 16.9 3.1z" fill="#ffce00" fill-rule="evenodd"/>
<path d="M1660.4 674.9l23.1 1.1 31.6-.4 19.4-1 19.4-2.1 16.5-2.7 15.1-4.3 7.5-3.5 3.3-2.6 1.5-2.6 -.5-2.5 -2.1-2.4 -4.3-2.8 -10.2-3.8 -14.6-3.6 -14.6-2.4 -17-1.8 -17-1 -24.3-.6 -29.2 .9 -12.1 1.3 -12.2 2.1 -9.7 2.7 -8.4 3.6 -4 2.6 -2.8 2.6 -1.7 2.6 -.7 2.5 .8 2.6 2 2.6 3.4 2.6 5.1 2.6 7.3 2.6 8.7 2.1 20.7 3z" fill="#ffd900" fill-rule="evenodd"/>
<path d="M1679.5 674.9l45.3-.7 17-1.3 14.6-1.9 14.6-2.8 11.7-3.6 5.3-2.6 3.4-2.6 1.4-2.6 -.6-2.5 -1.8-2 -5.1-3.2 -9.5-3.4 -12.1-3 -14.6-2.5 -17-1.8 -38.9-1.4 -14.6 .2 -14.6 .8 -12.1 1.5 -9.7 1.8 -9.2 2.6 -6.3 2.6 -4.4 2.6 -3 2.6 -1.9 2.6 -.6 2.5 .7 2.6 2.2 2.6 3.7 2.6 9 3.8 9.8 2.6 9.7 1.7 12.1 1.4 15.5 .8z" fill="#ffe400" fill-rule="evenodd"/>
<path d="M1658.5 672.3l17.7 1.4 17 .3 29.2-.6 21.8-1.9 19.5-3.1 13.7-3.8 5.7-2.6 3.4-2.6 1.5-2.6 -.8-2.5 -1.7-1.7 -5.8-3.5 -7-2.6 -11.5-2.9 -12.9-2.3 -16.2-1.8 -14.6-.9 -21.9-.4 -26.7 .7 -12.2 1.3 -9.7 1.7 -8 2 -7 2.6 -4.9 2.6 -3.3 2.6 -2 2.6 -.7 2.5 .8 2.6 2.3 2.6 4 2.6 6.1 2.6 7.9 2.3 16.3 2.8z" fill="#ffef00" fill-rule="evenodd"/>
<path d="M1670.6 672.3l17.7 .7 26.8-.3 17-1 14.5-1.6 16.4-2.9 9.1-2.6 6.1-2.7 3.5-2.5 1.4-2.6 -.9-2.5 -1.5-1.4 -6.5-3.8 -7.6-2.6 -10.9-2.6 -13.9-2.2 -12.2-1.2 -34-1.3 -24.3 .7 -12.1 1.3 -9.8 1.8 -7.2 1.9 -7.3 2.8 -6.5 4 -2.1 2.6 -.8 2.5 .8 2.6 2.5 2.6 6.1 3.3 5 1.9 10.4 2.6 20.3 2.5z" fill="#fffa00" fill-rule="evenodd"/>
<path d="M1658.2 669.8l15.6 1.6 17 .6 26.7-.4 19.4-1.4 17-2.5 12.7-3.1 6.8-2.9 3.4-2.3 1.4-2.6 -1-2.5 -3.2-2.6 -5.4-2.6 -9.8-3 -10.6-2.2 -13.7-1.8 -26.7-1.6 -29.2 .2 -21.9 2.4 -9.7 2.2 -7.3 2.6 -6.6 3.8 -2.3 2.6 -.9 2.5 .9 2.6 4.1 3.4 3.4 1.8 7.5 2.6 12.4 2.6z" fill="#ffff14" fill-rule="evenodd"/>
<path d="M1667.9 669.8l13.1 .9 14.6 .3 21.9-.4 19.4-1.5 13-1.9 11-2.6 7.6-3 3.3-2.2 1.5-2.6 -1.1-2.5 -3.5-2.6 -5.9-2.6 -9-2.6 -21.7-3.5 -24.3-1.4 -26.8 .2 -20.5 2.1 -11.2 2.6 -6.9 2.6 -4.4 2.6 -2.6 2.6 -1 2.5 1 2.6 3 2.6 3.8 1.9 10 3.3 15.7 2.6z" fill="#ffff3c" fill-rule="evenodd"/>
<path d="M1683.2 669.8l31.9-.1 14.5-1 12.7-1.5 12.6-2.6 7.6-2.6 4.3-2.6 1.5-2.6 -1.3-2.5 -3.7-2.6 -6.5-2.6 -10.1-2.6 -21.9-2.9 -29.2-1 -21.8 1 -17.8 2.9 -8 2.6 -4.9 2.6 -2.9 2.6 -1.1 2.5 1.1 2.6 3.2 2.6 6 2.6 14.6 3.3 19.2 1.9z" fill="#ffff64" fill-rule="evenodd"/>
<path d="M1668 667.2l13 1.3 14.6 .4 19.5-.3 17-1.3 16.3-2.7 8-2.4 5.1-2.8 1.6-2.6 -1.4-2.5 -4.1-2.6 -11-3.5 -17-2.9 -21.2-1.4 -22.5 .1 -19.4 2 -12.4 3.1 -5.7 2.6 -3.2 2.6 -1.2 2.5 1.2 2.6 3.6 2.6 6.7 2.6 12.5 2.6z" fill="#ffff8c" fill-rule="evenodd"/>
<path d="M1679.8 667.2l13.4 .6 17-.1 21.9-1.7 9.1-1.4 9.7-2.6 5.1-2.6 1.8-2.6 -1.6-2.5 -4.6-2.6 -12.2-3.4 -17-2.4 -24.4-.8 -19.4 .8 -14.6 2.4 -9.9 3.4 -3.7 2.6 -1.3 2.5 1.3 2.6 6.3 3.4 9.8 2.6 13.3 1.8z" fill="#ffffac" fill-rule="evenodd"/>
<path d="M1670.7 664.6l12.8 1.5 12.1 .5 17-.2 12.2-.9 7.9-.9 11.7-2.6 5.8-2.6 1.9-2.6 -1.8-2.5 -5.3-2.6 -9.8-2.6 -17.7-2.2 -19.5-.6 -14.5 .6 -14.9 2.2 -8.2 2.6 -4.3 2.6 -1.6 2.5 1.5 2.6 4.8 2.6 9.9 2.6z" fill="#ffffc4" fill-rule="evenodd"/>
<path d="M1682.2 664.6l18.3 .7 21.9-.9 14.6-2.4 6.8-2.6 2.2-2.6 -2.2-2.5 -2-1 -4.2-1.6 -8-1.8 -14.5-1.7 -17.1-.4 -14.5 .8 -12.2 2.1 -3.7 1 -5.3 2.6 -1.8 2.5 1.7 2.6 5.8 2.6 14.2 2.6z" fill="#ffffdb" fill-rule="evenodd"/>
<path d="M1677 662l18.6 1.8 21.9-.5 10.2-1.3 4.4-1.2 4.4-1.4 2.6-2.6 -2.6-2.5 -8-2.6 -6.1-1 -17.1-1.3 -17 .5 -12.1 1.8 -6.7 2.6 -2.3 2.5 2.1 2.6 7.7 2.6z" fill="#fffff3" fill-rule="evenodd"/>
<path d="M1588.7 694.9l14.6 1.9 17 1.3 38.9 .6 43.7-2 26.7-.3 29.2-1.2 26.7-1.8 21.9-2.1 12.2-2.1 15.1-4 13.4-2.5 44.3-4.7 4.9-.8 4.9-1.7 1.4-.6 1.6-2.6 -1.7-2.5 -6.2-5.2 .2-2.6 3.9-2.6 12.9-6 2.5-2 1.3-2.3 .3-2.6 -1-5.2 -2.1-5.1 -3.4-5.7 -4.9-6.2 -12.1-11.7 -4.9-3.6 -11-6.4 -1.1-1.7 -1-3.5 .2-2.5 4.1-13 .5-5.1 -.4-2.6 -1.1-2.6 -2.3-2.8 -4.1-2.3 -5.6-1.2 -12.2 .3 -17 2.6 -3.7 .8 -3.6 1.7 -1.6 .9 -2 2.6 -.2 2.6 1 2.6 1.7 2.5 3.5 3.5 4.9 3.6 11.3 5.9 17.9 6.5 2.4 1.2 3.1 2.6 .6 2.6 -.5 2.6 -1.5 2.5 -2.5 2.6 -4 2.6 -5.9 2.6 -13.6 3.2 -17 1.3 -17-.8 -14.6-2.4 -26.7-6 -12.2-1.7 -12.2-.9 -34-1 -17 .4 -19.4 1.3 -12.2-.3 -14.6-2.8 -29.1-9.4 -9.7-1.8 -4.9 .3 -4.8 1.3 -12.2 5.4M1610.5 574.2l2.5 .8 4.9-.4 14.5-4.8 12.2-2.3 9.7-.7 19.5-.1 7.2-1 4.9-2.2 14.6-10.1 4.8-2.1 4.9-1.3 7.3-.5 14.6 2 4.8 .1 2.5-.5 4.8-2.5 3-2.8 3.1-5.2 .5-5.1 -2.3-5.2 -4.9-5.2 -14-11.3 -17-15.5 -7.3-4.6 -9.7-3 -9.7-.9 -12.1 .6 -14.6 2.8 -12.2 4.2 -12.1 6.6 -9.6 8.2 -6 7.8 -4.1 7.7 -2.8 7.8 -5 20.6 -.7 10.4 1.4 5.1 2.4 2.6M1588.7 682.2l14.6 3.4 17 2.6 17 1.5 21.9 .8 77.7-2.1 26.8-1.7 24.3-2.5 43.3-6.7 13.7-2.6 9.7-2.6 4.8-2.5 4.9-7.8 3.7-2.6 15.6-7.7 2.3-2.6 .3-2.6 -1.4-2.6 -2.2-2.2 -4.3-2.9 -6.1-2.6 -9-2 -48.6-3.6 -46.2-6.1 -24.3-2.1 -24.3-1 -89.9-1.7 -9.7 .7 -12.2 1.6 -9.7 2.2 -9.7 3.1M1588.7 670.9l9.7 4.2 14.6 4.1 14.6 2.7 19.4 2 17 .8 17 .1 43.8-1.2 24.3-1.4 19.4-1.8 19.5-2.7 17-3 14.6-3.6 7.2-2.6 6.9-3.9 9.7-7.8 2.5-2.5 1-2.6 -1-2.6 -3.2-2.6 -3.7-1.8 -9.8-3.4 -11-2.5 -23-4.1 -24.2-3.5 -19.5-2.1 -24.3-1.5 -53.4-1.2 -21.9 .3 -17 1 -14.6 2.1 -12.2 2.8 -10.1 3.6 -9.3 4.7M1673 680.1l42.1-.6 19.4-.8 24.3-2.2 19.4-2.8 17.7-3.9 7.9-2.6 5.7-2.6 7.3-5.2 2-2.6 .5-2.5 -1.2-2.6 -3.1-2.6 -7.6-3.6 -13.8-4.2 -20.2-4 -19.5-2.7 -21.8-1.9 -51.1-1.3 -19.4 .4 -14.6 1.1 -12.1 1.7 -12.2 2.6 -9.7 3.3 -7.3 3.4 -6.9 5.2 -3.3 5.2 -.5 2.5 .6 2.6 1.5 2.6 2.7 2.6 8.3 4.9 7.5 2.8 12 3.2 14.6 2.4 14.5 1.5 16.3 .7M1660.4 674.9l23.1 1.1 31.6-.4 19.4-1 19.4-2.1 16.5-2.7 15.1-4.3 7.5-3.5 3.3-2.6 1.5-2.6 -.5-2.5 -2.1-2.4 -4.3-2.8 -10.2-3.8 -14.6-3.6 -14.6-2.4 -17-1.8 -17-1 -24.3-.6 -29.2 .9 -12.1 1.3 -12.2 2.1 -9.7 2.7 -8.4 3.6 -4 2.6 -2.8 2.6 -1.7 2.6 -.7 2.5 .8 2.6 2 2.6 3.4 2.6 5.1 2.6 7.3 2.6 8.7 2.1 20.7 3M1658.2 669.8l15.6 1.6 17 .6 26.7-.4 19.4-1.4 17-2.5 12.7-3.1 6.8-2.9 3.4-2.3 1.4-2.6 -1-2.5 -3.2-2.6 -5.4-2.6 -9.8-3 -10.6-2.2 -13.7-1.8 -26.7-1.6 -29.2 .2 -21.9 2.4 -9.7 2.2 -7.3 2.6 -6.6 3.8 -2.3 2.6 -.9 2.5 .9 2.6 4.1 3.4 3.4 1.8 7.5 2.6 12.4 2.6M1679.8 667.2l13.4 .6 17-.1 21.9-1.7 9.1-1.4 9.7-2.6 5.1-2.6 1.8-2.6 -1.6-2.5 -4.6-2.6 -12.2-3.4 -17-2.4 -24.4-.8 -19.4 .8 -14.6 2.4 -9.9 3.4 -3.7 2.6 -1.3 2.5 1.3 2.6 6.3 3.4 9.8 2.6 13.3 1.8" fill="none" stroke="#4a4a4a" stroke-width="1.6"/>
</g>
<clipPath id="clipa"><rect x="83.5" y="30.0" width="396.9" height="306.4"/></clipPath>
<g clip-path="url(#clipa)" fill="none" stroke-linejoin="round" stroke-linecap="round">
<path d="M92.3 307.6C97.3 307.5 102.3 307.4 107.2 307.2C112.0 306.9 117.6 306.8 121.6 306.2C124.5 305.7 126.8 305.0 129.0 304.4C130.7 304.0 132.3 304.0 133.6 303.0C135.1 301.9 136.0 299.5 137.1 297.5C138.2 295.4 139.0 293.2 139.9 290.7C141.1 287.7 142.0 283.9 143.4 280.9C144.6 278.2 146.0 276.2 147.4 273.4C149.1 270.0 150.4 264.6 152.9 261.7C154.9 259.3 158.2 258.5 160.4 256.7C162.4 255.1 164.0 253.8 165.5 251.6C167.4 249.0 168.8 245.5 170.5 241.5C173.0 236.0 176.0 227.9 178.1 221.3C180.1 215.3 180.7 208.5 183.2 203.6C185.2 199.6 188.2 196.9 190.8 193.5C193.3 190.1 195.9 187.0 198.3 183.4C201.0 179.5 203.6 174.4 205.9 170.8C207.7 167.9 209.1 165.0 211.0 163.2C212.4 161.8 214.0 160.0 215.5 160.1C217.4 160.3 219.2 163.5 221.1 165.7C223.5 168.5 225.8 173.4 228.7 175.8C231.0 177.8 233.7 179.2 236.2 179.6C238.7 180.0 241.4 179.1 243.8 178.3C246.4 177.5 248.6 175.2 251.4 174.6C254.5 173.8 258.1 175.1 261.5 174.5C265.3 173.8 269.3 171.9 273.1 170.4C277.0 168.9 280.5 166.5 284.6 165.2C289.2 163.8 294.3 162.7 299.6 162.3C305.7 161.9 312.5 163.1 319.3 163.5C326.7 163.9 334.7 164.1 342.4 164.6C350.1 165.2 358.4 165.7 365.5 166.9C371.7 168.1 377.6 169.9 382.8 171.6C387.1 173.0 390.4 175.2 394.3 176.2C398.1 177.1 401.6 177.4 405.9 177.3C411.1 177.3 417.5 176.5 423.2 175.0C429.1 173.5 434.7 170.0 440.5 168.1C446.2 166.2 452.6 163.8 457.8 163.5C462.0 163.2 465.6 164.4 469.4 165.2C473.0 166.0 476.5 167.1 480.0 168.1" stroke="#8c8c8c" stroke-width="2.6"/>
<path d="M92.3 307.6C97.3 307.5 102.1 307.5 107.2 307.3C112.8 307.1 119.6 306.6 124.4 306.2C128.0 305.8 130.8 305.5 133.6 305.0C136.1 304.5 138.6 304.4 140.5 303.3C142.4 302.2 143.3 300.2 145.1 298.7C147.1 297.0 149.8 294.8 152.0 293.5C153.8 292.5 155.6 292.3 157.1 291.2C158.7 290.2 160.0 289.0 161.2 287.2C162.6 285.0 163.4 281.3 164.6 278.6C165.7 276.2 166.8 275.0 168.0 271.8C170.4 265.4 173.2 252.0 175.6 241.5C178.2 230.2 180.7 217.9 183.2 206.1C185.7 194.3 187.9 181.2 190.8 170.8C193.1 162.3 195.3 154.1 198.3 148.0C200.6 143.4 203.7 139.3 205.9 136.6C207.3 135.0 208.4 133.0 209.7 132.9C210.9 132.7 212.3 134.0 213.5 135.4C215.4 137.5 216.8 141.6 218.6 145.5C220.9 150.5 223.1 158.7 226.1 163.2C228.4 166.5 230.9 168.5 233.7 170.8C236.7 173.2 240.6 176.4 243.8 177.1C246.4 177.6 249.1 176.6 251.4 175.8C253.5 175.1 255.0 173.8 256.9 172.7C259.1 171.5 261.3 168.8 263.9 168.7C266.7 168.5 269.8 171.4 273.1 172.7C276.7 174.2 280.8 175.9 284.6 177.3C288.5 178.8 292.3 180.4 296.2 181.4C300.0 182.4 303.5 183.2 307.7 183.3C312.9 183.5 319.3 182.5 325.0 181.4C330.9 180.3 337.3 178.7 342.4 176.8C346.7 175.1 350.1 173.0 353.9 171.0C357.8 169.0 361.5 166.3 365.5 164.6C369.2 163.1 373.1 161.9 377.0 161.2C380.8 160.5 384.7 160.2 388.6 160.3C392.4 160.3 396.3 160.8 400.1 161.8C404.0 162.7 407.4 164.5 411.6 165.8C416.8 167.4 423.2 169.1 429.0 170.4C434.7 171.7 440.5 172.9 446.3 173.6C452.0 174.4 457.9 175.0 463.6 175.0C469.1 175.1 474.5 174.3 480.0 173.9" stroke="#35b96c" stroke-width="2.6"/>
<path d="M92.3 309.0C101.1 308.8 110.2 308.9 118.7 308.5C126.6 308.1 137.5 308.2 141.6 306.7C143.4 306.1 143.8 305.3 145.1 304.4C146.7 303.3 148.6 301.3 150.3 300.4C151.6 299.7 152.9 299.3 154.3 299.3C155.8 299.2 157.2 300.3 158.9 300.4C160.7 300.5 162.7 300.0 164.6 299.6C166.5 299.1 168.3 298.4 170.0 297.5C171.6 296.7 173.0 296.3 174.3 294.6C176.9 291.3 178.7 283.5 180.7 276.9C183.0 268.7 185.1 258.4 187.0 249.1C188.9 239.9 190.3 231.3 192.0 221.3C194.1 209.7 196.2 195.6 198.3 183.4C200.4 172.0 202.5 160.1 204.7 150.5C206.3 143.0 207.3 134.6 209.7 130.3C211.1 127.8 213.0 126.8 214.8 125.3C216.4 123.9 218.2 123.2 219.8 121.5C222.0 119.3 224.2 112.6 226.1 112.6C227.9 112.7 229.6 117.5 231.2 120.2C233.0 123.3 234.2 127.2 236.2 130.3C238.4 133.5 241.4 136.0 243.8 139.2C246.5 142.7 249.1 147.9 251.4 150.5C252.9 152.3 254.3 152.6 255.8 154.2C257.7 156.5 259.4 161.1 261.5 163.5C263.3 165.5 264.9 167.3 267.3 168.1C270.4 169.1 275.7 167.1 278.9 167.5C281.1 167.8 282.8 168.3 284.6 169.3C286.7 170.3 288.3 172.3 290.4 173.9C292.9 175.7 295.7 177.8 298.5 179.6C301.4 181.6 304.5 183.4 307.7 185.4C311.4 187.6 315.3 190.7 319.3 192.3C323.0 193.9 327.0 195.0 330.8 195.2C334.7 195.4 338.5 194.4 342.4 193.5C346.2 192.6 350.1 191.5 353.9 190.0C357.8 188.5 361.7 186.5 365.5 184.3C369.4 181.9 373.2 179.0 377.0 176.2C380.9 173.3 384.5 169.3 388.6 166.9C392.2 164.8 396.2 163.3 400.1 162.3C403.9 161.4 407.1 161.3 411.6 161.2C418.0 161.0 427.0 161.8 434.7 162.3C442.4 162.8 450.2 163.4 457.8 164.1C465.3 164.7 472.6 165.6 480.0 166.4" stroke="#ffa108" stroke-width="2.8"/>
<path d="M92.3 307.6C97.3 307.4 102.3 307.3 107.2 307.0C112.0 306.7 117.4 306.6 121.6 305.9C124.8 305.3 127.3 304.3 130.2 303.3C133.1 302.2 136.2 300.4 138.8 299.6C140.9 298.9 142.7 299.0 144.5 298.1C146.5 297.2 148.7 295.5 150.3 294.1C151.5 293.0 152.1 292.0 153.1 290.7C154.5 289.0 156.2 286.9 157.7 284.9C159.3 282.9 161.1 281.4 162.3 278.6C164.1 274.5 164.0 267.9 165.5 261.7C167.3 254.1 170.6 245.3 173.1 236.5C175.7 226.8 178.1 216.2 180.7 206.1C183.2 196.0 185.5 185.1 188.2 175.8C190.6 167.6 192.9 159.5 195.8 153.1C198.1 148.0 200.4 142.6 203.4 139.9C205.6 137.9 207.9 137.1 211.0 136.6C215.1 136.0 221.7 136.6 226.1 137.9C230.0 139.1 232.7 140.9 236.2 143.5C241.0 147.0 246.8 154.1 251.4 158.1C255.0 161.3 258.0 163.6 261.5 166.0C265.2 168.4 269.2 170.4 273.1 172.5C276.9 174.5 280.8 176.5 284.6 178.3C288.5 180.0 292.3 181.5 296.2 182.9C300.0 184.3 303.8 185.8 307.7 186.8C311.5 187.8 315.4 188.6 319.3 188.7C323.1 188.7 327.0 188.3 330.8 187.4C334.7 186.5 338.5 184.6 342.4 183.1C346.2 181.6 350.0 179.9 353.9 178.5C357.7 177.1 361.6 175.7 365.5 174.5C369.3 173.2 373.1 171.9 377.0 171.0C380.8 170.1 384.0 169.7 388.6 169.3C394.9 168.6 403.9 168.4 411.6 168.1C419.3 167.8 427.0 167.7 434.7 167.5C442.4 167.4 450.2 167.1 457.8 167.2C465.3 167.3 472.6 167.8 480.0 168.1" stroke="#f44a4a" stroke-width="2.6"/>
<path d="M92.3 307.6C97.3 307.4 102.3 307.3 107.2 307.0C112.0 306.7 117.6 306.7 121.6 305.9C124.5 305.3 126.8 304.4 129.0 303.3C131.1 302.2 132.9 300.4 134.8 299.3C136.3 298.3 137.8 297.6 139.4 297.0C141.0 296.3 143.0 296.0 144.5 295.3C146.0 294.5 147.3 293.6 148.5 292.4C149.8 291.1 150.8 289.4 152.0 287.8C153.3 286.1 154.6 284.3 156.0 282.6C157.4 280.9 159.2 279.8 160.6 277.5C162.7 273.8 163.7 267.6 165.5 261.7C167.8 254.3 170.6 245.3 173.1 236.5C175.7 226.8 178.1 216.2 180.7 206.1C183.2 196.0 185.5 185.1 188.2 175.8C190.6 167.6 192.9 159.4 195.8 153.1C198.1 148.1 200.4 143.0 203.4 140.4C205.6 138.5 208.2 137.7 211.0 137.4C214.1 137.1 217.8 138.1 221.1 139.2C224.5 140.3 228.0 142.1 231.2 144.2C234.7 146.6 237.9 150.1 241.3 153.1C244.7 156.0 247.9 159.6 251.4 161.9C254.7 164.1 258.1 165.2 261.5 166.9C265.3 168.8 269.2 170.8 273.1 172.7C276.9 174.6 280.8 176.7 284.6 178.5C288.5 180.2 292.3 181.8 296.2 183.1C300.0 184.4 303.9 185.7 307.7 186.6C311.5 187.4 315.4 188.2 319.3 188.3C323.1 188.4 327.0 188.0 330.8 187.2C334.7 186.3 338.5 184.5 342.4 183.1C346.2 181.7 350.0 179.9 353.9 178.5C357.7 177.1 361.6 175.7 365.5 174.5C369.3 173.2 373.1 171.9 377.0 171.0C380.8 170.1 384.0 169.7 388.6 169.3C394.9 168.6 403.9 168.4 411.6 168.1C419.3 167.8 427.0 167.7 434.7 167.5C442.4 167.4 450.2 167.1 457.8 167.2C465.3 167.3 472.6 167.8 480.0 168.1" stroke="#1b9aea" stroke-width="2.9"/>
</g>
<clipPath id="clipb"><rect x="590.5" y="30.7" width="396.0" height="306.3"/></clipPath>
<g clip-path="url(#clipb)" fill="none" stroke-linejoin="round" stroke-linecap="round">
<path d="M600.0 302.6C605.7 302.6 611.5 302.9 617.2 302.6C623.0 302.4 629.0 301.4 634.5 300.9C639.3 300.5 644.2 300.8 648.2 300.1C651.5 299.5 654.1 297.9 656.8 297.5C659.2 297.1 661.4 296.8 663.7 297.5C666.6 298.3 669.8 303.0 672.4 302.6C674.9 302.3 676.9 297.2 679.2 295.8C681.0 294.7 682.6 293.9 684.4 294.0C686.6 294.2 689.3 297.9 691.3 297.5C693.4 297.0 694.8 293.5 696.5 290.6C698.9 286.3 700.9 278.5 703.4 273.4C705.5 268.9 708.0 265.3 710.2 261.3C712.5 257.3 715.5 254.3 717.1 249.2C719.5 242.1 719.7 232.5 720.6 221.7C721.9 206.1 721.9 182.1 723.1 164.7C724.2 149.8 725.8 136.3 727.3 123.3C728.6 111.7 729.6 100.9 731.4 90.3C733.1 80.3 734.5 66.2 737.6 61.3C739.0 59.1 740.9 57.6 742.6 57.6C744.3 57.6 746.4 59.0 747.9 61.3C751.2 66.2 752.3 80.3 754.1 90.3C756.1 100.9 757.7 111.7 759.3 123.3C761.1 136.3 762.7 150.1 764.5 164.7C766.4 181.0 768.4 201.5 770.5 216.5C772.2 228.2 773.6 237.7 775.7 247.5C777.7 256.6 780.5 266.5 782.6 273.4C784.0 278.0 784.8 282.0 786.5 284.8C787.8 286.8 789.6 289.4 790.9 289.2C792.6 288.9 793.6 283.5 795.3 280.5C797.2 277.0 798.6 272.1 801.8 269.6C805.1 266.9 811.4 268.2 814.9 265.2C819.0 261.6 820.5 253.1 823.6 247.7C826.4 243.0 829.5 235.0 832.3 234.7C834.5 234.4 837.0 238.1 838.9 241.2C841.8 246.1 843.3 255.6 845.4 263.0C847.6 270.8 849.8 281.9 852.0 287.0C853.1 289.6 854.1 292.5 855.2 292.5C857.0 292.3 859.0 284.3 860.7 278.3C863.3 268.6 865.1 252.5 867.2 239.0C869.5 224.9 871.5 209.3 873.8 195.4C875.9 182.5 876.8 167.5 880.3 158.3C882.6 152.2 886.1 144.2 889.0 144.2C891.9 144.2 895.4 152.2 897.7 158.3C901.2 167.5 902.2 182.2 904.3 195.4C906.6 210.4 909.0 228.2 910.8 243.4C912.5 257.1 912.5 275.2 915.2 282.6C916.4 285.9 917.5 287.9 919.6 289.2C921.8 290.5 925.9 289.8 928.3 290.3C930.0 290.6 931.2 291.9 932.6 291.4C935.0 290.4 937.1 284.3 939.2 280.5C941.4 276.3 943.1 270.4 945.7 267.4C947.7 265.2 950.1 263.0 952.3 263.0C954.4 263.0 956.9 265.2 958.8 267.4C961.4 270.4 962.9 276.8 965.3 280.5C967.4 283.5 969.5 286.5 971.9 288.1C973.9 289.4 975.9 289.9 978.4 290.3C981.6 290.8 985.7 290.3 989.3 290.3" stroke="#8c8c8c" stroke-width="2.6"/>
<path d="M600.0 304.4C603.4 304.9 606.9 305.9 610.3 306.1C613.8 306.2 617.0 305.7 620.7 305.2C624.9 304.7 629.9 303.6 634.5 302.6C639.1 301.6 643.8 300.4 648.2 299.2C652.4 298.1 656.3 296.9 660.3 295.8C664.3 294.6 668.8 293.9 672.4 292.3C675.6 290.9 678.1 289.0 681.0 287.1C683.9 285.3 686.6 282.9 689.6 281.1C692.4 279.4 695.2 278.2 698.2 276.8C701.5 275.3 705.4 272.6 708.5 272.5C711.0 272.5 713.2 273.4 715.4 275.1C718.5 277.5 721.4 283.1 724.0 287.1C726.6 291.1 728.5 299.0 730.9 299.2C733.1 299.4 735.3 293.4 737.8 290.6C740.4 287.6 743.7 285.4 746.4 282.0C749.5 278.1 752.2 273.3 755.0 268.2C758.5 262.1 762.0 252.8 765.4 247.5C767.7 243.9 769.9 239.0 772.3 238.9C774.5 238.8 777.1 242.8 779.2 245.8C781.9 249.7 783.8 255.8 786.0 261.3C788.5 267.3 790.7 273.8 792.9 280.2C795.2 286.8 797.1 296.0 799.6 300.1C801.0 302.3 802.1 304.0 804.0 304.4C806.3 304.9 809.6 302.4 812.7 301.2C816.1 299.8 820.2 298.3 823.6 296.8C826.7 295.4 829.3 293.4 832.3 292.5C835.2 291.6 838.2 291.2 841.1 291.4C844.0 291.5 847.0 292.3 849.8 293.5C852.8 294.8 856.0 297.9 858.5 299.0C860.1 299.7 861.2 300.4 862.9 300.1C865.4 299.6 868.6 295.2 871.6 293.5C874.4 292.0 877.0 290.7 880.3 290.3C884.2 289.7 889.2 291.4 893.4 291.4C897.2 291.3 900.9 290.9 904.3 290.3C907.4 289.7 910.1 287.9 913.0 288.1C915.9 288.3 918.7 290.2 921.7 291.4C925.2 292.7 929.2 294.2 932.6 295.7C935.7 297.1 938.3 300.0 941.4 300.1C944.8 300.2 948.9 297.2 952.3 295.7C955.4 294.3 958.0 291.9 961.0 291.4C963.8 290.9 966.3 291.5 969.7 292.5C975.0 293.9 982.8 298.3 989.3 301.2" stroke="#35b96c" stroke-width="2.6"/>
<path d="M600.0 304.4C602.9 304.9 605.8 306.3 608.6 306.1C611.5 305.8 614.3 303.5 617.2 302.6C620.1 301.8 623.0 301.5 625.8 300.9C628.7 300.3 631.8 300.2 634.5 299.2C637.0 298.2 639.0 295.3 641.3 294.9C643.6 294.5 646.1 296.8 648.2 296.6C650.1 296.4 651.7 295.5 653.4 294.0C655.8 291.9 658.0 287.1 660.3 283.7C662.6 280.2 664.6 275.9 667.2 273.4C669.3 271.3 671.9 270.9 674.1 269.1C676.5 267.0 678.9 264.4 681.0 261.3C683.5 257.5 685.4 251.4 687.9 247.5C689.8 244.5 691.7 240.1 693.9 239.8C695.8 239.5 698.1 241.9 699.9 244.1C702.7 247.4 704.4 254.6 706.8 259.6C709.0 264.3 711.3 269.0 713.7 273.4C715.9 277.5 718.1 282.0 720.6 285.4C722.7 288.4 725.4 291.9 727.5 293.2C728.7 293.9 729.6 294.3 730.9 294.0C732.9 293.6 735.7 291.4 737.8 288.9C741.0 285.0 744.0 278.1 746.4 271.6C749.3 264.0 750.9 253.9 753.3 245.8C755.5 238.5 757.4 229.2 760.2 225.1C761.8 222.8 763.6 220.7 765.4 220.8C767.6 221.0 770.2 225.2 772.3 228.6C775.1 233.3 776.8 241.6 779.2 247.5C781.4 253.0 783.6 259.4 786.0 263.0C787.7 265.4 789.5 268.3 791.2 268.2C793.2 268.1 795.2 262.8 797.4 260.8C799.5 259.0 801.8 256.5 804.0 256.5C806.2 256.5 808.6 258.6 810.5 260.8C813.2 263.8 814.9 269.7 817.1 273.9C819.2 278.0 820.7 283.6 823.6 285.9C826.0 287.8 829.7 286.9 832.3 288.1C834.8 289.2 836.7 290.9 838.9 292.5C841.1 294.1 843.0 297.6 845.4 297.9C848.0 298.2 851.1 294.2 854.1 293.5C857.0 292.9 859.8 293.4 862.9 293.5C866.3 293.7 870.3 294.2 873.8 294.6C876.8 295.0 879.8 295.1 882.5 295.7C884.9 296.3 887.0 298.3 889.0 297.9C891.3 297.5 893.2 294.2 895.6 292.5C898.2 290.5 901.3 287.5 904.3 287.0C907.1 286.6 910.2 287.9 913.0 289.2C916.1 290.6 918.5 293.9 921.7 295.7C925.1 297.6 929.2 298.8 932.6 300.1C935.7 301.3 938.4 303.0 941.4 303.4C944.2 303.7 947.2 302.8 950.1 302.3C953.0 301.7 955.7 300.3 958.8 300.1C962.2 299.8 965.5 300.7 969.7 301.2C975.3 301.8 982.8 302.6 989.3 303.4" stroke="#ffa108" stroke-width="2.8"/>
<path d="M600.0 303.0C603.4 303.3 606.6 304.0 610.3 303.9C615.0 303.7 620.5 302.2 625.8 301.3C631.4 300.3 638.0 300.3 643.1 298.3C647.6 296.6 651.1 293.5 655.1 290.6C659.7 287.3 664.6 283.4 668.9 279.4C673.2 275.4 677.2 270.0 681.0 266.5C684.0 263.7 687.0 261.0 689.6 259.6C691.4 258.6 692.9 257.7 694.7 257.9C696.9 258.0 699.4 259.5 701.6 261.3C704.6 263.6 707.4 267.6 710.2 271.6C713.7 276.5 716.7 283.6 720.6 288.9C724.2 293.9 728.6 301.3 732.6 302.6C735.5 303.6 738.5 302.0 741.3 300.9C744.2 299.8 746.7 297.3 749.9 295.8C753.5 294.0 758.2 292.0 761.9 291.4C765.0 291.0 767.7 291.1 770.5 292.0C774.0 293.0 777.3 296.1 780.9 298.3C784.8 300.8 789.3 306.3 792.9 306.1C796.2 305.9 797.6 300.6 801.8 299.0C809.0 296.2 824.8 295.5 834.5 296.8C842.6 297.9 848.2 303.1 856.3 304.4C866.0 306.1 879.2 304.4 889.0 304.4C897.0 304.4 903.6 304.1 910.8 304.4C918.1 304.8 923.7 306.3 932.6 306.6C947.1 307.2 970.4 305.9 989.3 305.5" stroke="#f44a4a" stroke-width="2.6"/>
<path d="M600.0 302.6C603.4 302.9 606.6 303.7 610.3 303.5C615.0 303.3 620.5 301.8 625.8 300.9C631.4 300.0 638.0 300.2 643.1 298.3C647.7 296.6 651.0 293.4 655.1 290.6C659.6 287.5 664.6 284.0 668.9 280.2C673.2 276.5 677.2 271.6 681.0 268.2C684.0 265.5 687.0 262.7 689.6 261.3C691.4 260.3 692.9 259.5 694.7 259.6C696.9 259.6 699.4 260.6 701.6 262.2C704.6 264.2 707.4 268.0 710.2 271.6C713.7 276.1 717.1 282.1 720.6 287.1C724.0 292.1 727.3 300.2 730.9 301.8C733.2 302.8 735.4 301.7 737.8 300.9C741.0 300.0 744.4 297.4 748.1 295.8C752.4 293.9 757.8 291.1 761.9 290.6C765.1 290.2 767.6 290.5 770.5 291.4C774.0 292.6 777.5 295.2 780.9 297.5C784.4 299.8 788.2 305.1 791.2 305.2C793.5 305.3 795.1 302.2 797.4 301.2C800.0 300.0 803.2 299.4 806.2 299.0C809.1 298.6 812.0 299.2 814.9 299.0C817.8 298.8 820.7 298.1 823.6 297.9C826.5 297.7 829.4 297.5 832.3 297.9C835.3 298.3 837.9 299.3 841.1 300.1C845.0 301.1 849.7 302.8 854.1 303.4C858.5 303.9 862.3 303.4 867.2 303.4C873.6 303.4 881.8 303.2 889.0 303.4C896.3 303.5 903.6 304.1 910.8 304.4C918.1 304.8 925.8 305.6 932.6 305.5C938.8 305.5 943.1 304.7 950.1 304.4C960.5 304.1 976.2 304.4 989.3 304.4" stroke="#1b9aea" stroke-width="2.9"/>
</g>
<clipPath id="clipe"><rect x="83.2" y="471.3" width="396.4" height="306.7"/></clipPath>
<g clip-path="url(#clipe)" fill="none" stroke-linejoin="round" stroke-linecap="round">
<path d="M85.0 738.7C93.8 738.2 102.6 737.8 111.4 737.1C120.2 736.4 129.5 735.5 137.8 734.5C145.3 733.5 152.8 732.7 159.0 731.3C163.9 730.2 168.1 729.0 172.2 727.3C176.0 725.8 179.3 724.2 182.7 722.1C186.4 719.8 190.3 717.4 193.3 714.1C196.5 710.8 198.8 706.8 201.2 702.3C204.1 696.9 206.7 690.5 209.1 683.8C212.0 675.8 214.4 666.2 217.1 657.3C219.7 648.5 222.3 639.7 225.0 630.9C227.6 622.1 230.1 612.8 232.9 604.5C235.4 597.0 238.0 589.7 240.8 583.4C243.3 578.0 245.8 572.7 248.8 568.9C251.2 565.8 253.6 563.3 256.7 561.7C259.8 560.2 264.0 560.5 267.3 559.6C270.1 558.9 272.4 558.3 275.2 557.0C278.5 555.4 284.0 551.3 285.7 550.4C286.3 550.1 286.3 550.0 286.9 549.9C288.2 549.4 291.3 548.5 293.8 548.1C296.6 547.7 299.7 547.6 303.0 547.8C306.6 548.0 310.6 548.9 314.4 549.3C318.3 549.6 322.1 549.9 325.9 549.9C329.8 549.8 333.6 548.9 337.4 548.7C341.2 548.5 345.1 548.5 348.9 548.7C352.7 548.9 356.5 549.6 360.4 549.9C364.2 550.1 368.0 550.5 371.8 550.4C375.7 550.3 379.5 549.7 383.3 549.3C387.2 548.9 391.0 548.4 394.8 548.1C398.6 547.8 402.5 547.7 406.3 547.6C410.1 547.4 413.9 547.4 417.8 547.3C421.6 547.3 425.4 547.3 429.3 547.3C433.1 547.3 436.9 547.2 440.7 547.3C444.6 547.4 448.4 547.6 452.2 547.8C456.0 548.0 459.4 548.3 463.7 548.5C469.1 548.6 475.9 548.5 482.1 548.5" stroke="#676767" stroke-width="2.6"/>
<path d="M85.0 737.9C102.6 737.0 121.8 737.1 137.8 735.3C151.3 733.7 165.7 731.7 174.8 728.7C180.5 726.8 183.7 724.8 188.0 722.1C192.6 719.1 197.1 716.0 201.2 711.5C206.1 706.2 210.5 698.8 214.4 691.7C218.5 684.3 222.0 676.4 225.0 667.9C228.2 658.8 230.3 648.8 232.9 638.9C235.6 628.5 238.1 617.2 240.8 607.2C243.4 597.9 245.5 588.9 248.8 580.8C251.8 573.2 255.5 565.7 259.3 559.6C262.6 554.5 266.1 550.1 269.9 546.4C273.2 543.2 277.3 540.5 280.5 538.5C282.8 537.0 284.9 535.2 286.9 534.9C288.5 534.7 289.7 535.3 291.5 536.1C294.5 537.3 299.1 540.8 303.0 543.0C306.7 545.0 310.6 547.1 314.4 548.7C318.2 550.3 322.0 552.0 325.9 552.7C329.7 553.5 333.6 553.1 337.4 553.3C341.2 553.5 345.1 553.9 348.9 553.9C352.7 553.9 356.5 553.5 360.4 553.3C364.2 553.1 368.0 553.0 371.8 552.7C375.7 552.4 379.5 552.0 383.3 551.6C387.2 551.2 391.0 550.9 394.8 550.4C398.6 549.9 402.5 549.3 406.3 548.7C410.1 548.1 413.9 547.5 417.8 547.0C421.6 546.5 425.4 546.1 429.3 545.8C433.1 545.5 436.9 545.4 440.7 545.3C444.6 545.1 448.4 544.7 452.2 544.7C456.0 544.6 459.4 544.9 463.7 545.0C469.1 545.2 475.9 545.6 482.1 545.8" stroke="#ffa108" stroke-width="2.6"/>
<path d="M85.0 738.7C102.6 737.8 121.8 738.0 137.8 736.1C151.3 734.4 165.3 732.3 174.8 728.7C181.4 726.1 186.1 723.1 190.7 719.4C194.8 716.0 197.7 712.2 201.2 707.5C205.6 701.6 210.6 694.2 214.4 686.4C218.7 677.7 222.0 667.5 225.0 657.3C228.2 646.5 230.3 634.5 232.9 623.0C235.6 611.6 237.8 598.7 240.8 588.7C243.2 580.7 245.5 573.9 248.8 567.5C251.8 561.7 255.5 556.1 259.3 551.7C262.6 547.9 265.9 544.9 269.9 542.5C273.9 540.0 280.3 537.8 283.1 537.2C284.3 536.9 284.7 536.9 285.7 537.0C287.3 537.1 289.3 537.6 291.5 538.4C294.7 539.5 299.1 542.4 303.0 544.1C306.8 545.8 310.6 547.5 314.4 548.7C318.2 549.9 322.1 551.0 325.9 551.6C329.7 552.1 333.6 551.9 337.4 552.1C341.2 552.4 345.1 553.0 348.9 553.3C352.7 553.6 356.5 553.9 360.4 553.9C364.2 553.9 368.0 553.7 371.8 553.3C375.7 552.9 379.5 552.2 383.3 551.6C387.2 550.9 391.0 550.0 394.8 549.3C398.6 548.5 402.5 547.7 406.3 547.0C410.1 546.3 413.9 545.7 417.8 545.3C421.6 544.8 425.4 544.5 429.3 544.3C433.1 544.1 436.9 544.1 440.7 544.1C444.6 544.1 448.4 544.2 452.2 544.3C456.0 544.5 459.4 544.8 463.7 545.0C469.1 545.3 475.9 545.6 482.1 545.8" stroke="#f44a4a" stroke-width="2.6"/>
<path d="M85.0 739.2C93.8 739.1 102.6 739.1 111.4 738.7C120.2 738.3 129.3 737.4 137.8 736.6C146.0 735.8 154.9 735.3 161.6 733.9C166.7 732.9 170.7 731.4 174.8 730.0C178.5 728.7 182.0 728.0 185.4 726.0C189.1 723.8 192.6 720.4 195.9 716.8C199.7 712.7 203.1 707.5 206.5 702.3C210.2 696.6 214.1 690.5 217.1 683.8C220.3 676.5 222.5 668.3 225.0 660.0C227.8 650.8 230.4 641.1 232.9 630.9C235.7 620.0 238.0 607.3 240.8 596.6C243.3 587.2 245.4 578.0 248.8 570.2C251.7 563.3 255.6 557.2 259.3 551.7C262.7 546.8 266.2 542.4 269.9 538.5C273.3 535.0 277.6 530.4 280.5 529.2C282.0 528.6 283.1 528.8 284.6 529.2C286.6 529.7 288.9 531.2 291.5 532.6C294.9 534.5 299.1 537.5 303.0 539.5C306.7 541.5 310.5 543.5 314.4 544.7C318.2 545.8 322.1 546.2 325.9 546.4C329.7 546.6 333.6 545.7 337.4 545.8C341.2 545.9 345.1 546.5 348.9 547.0C352.7 547.5 356.5 548.3 360.4 548.7C364.2 549.1 368.0 549.5 371.8 549.3C375.7 549.1 379.5 548.4 383.3 547.6C387.2 546.7 391.0 545.2 394.8 544.1C398.6 543.1 402.4 542.0 406.3 541.2C410.1 540.5 413.9 540.0 417.8 539.7C421.6 539.5 425.4 539.5 429.3 539.5C433.1 539.6 436.9 539.9 440.7 540.1C444.6 540.3 448.4 540.4 452.2 540.7C456.0 540.9 459.4 541.3 463.7 541.6C469.1 542.0 475.9 542.5 482.1 543.0" stroke="#1b9aea" stroke-width="2.8"/>
</g>
<clipPath id="clipf"><rect x="589.2" y="472.1" width="397.8" height="306.4"/></clipPath>
<g clip-path="url(#clipf)" fill="none" stroke-linejoin="round" stroke-linecap="round">
<path d="M600.0 748.1C604.1 748.6 608.3 749.4 612.4 749.6C616.5 749.9 621.0 749.9 624.8 749.6C628.1 749.3 631.0 748.3 634.1 748.1C637.2 747.8 640.3 748.3 643.4 748.1C646.5 747.8 649.7 747.5 652.7 746.5C655.9 745.5 659.2 742.9 662.0 741.9C664.2 741.0 666.0 740.1 668.2 740.3C671.1 740.6 674.7 745.6 677.5 745.0C681.0 744.1 683.8 736.4 686.8 732.6C689.5 729.2 691.7 724.0 694.6 723.3C697.0 722.7 699.8 724.7 702.3 726.4C705.5 728.5 708.7 733.5 711.6 735.7C713.8 737.2 715.9 737.3 717.8 738.8C720.0 740.3 721.9 744.8 724.0 745.0C726.0 745.1 728.4 742.6 730.2 740.3C732.8 737.1 733.9 729.6 736.4 726.4C738.3 724.1 740.5 722.3 742.6 721.7C744.5 721.2 746.7 723.3 748.6 722.4C751.7 721.0 754.7 714.3 757.2 709.5C760.0 704.3 761.7 696.6 764.1 692.3C765.8 689.4 767.4 685.8 769.3 685.4C770.9 685.2 772.6 687.7 774.4 688.9C776.6 690.2 779.2 693.5 781.3 693.2C783.8 692.8 785.9 688.1 788.2 685.4C790.5 682.7 792.8 677.2 795.1 676.8C796.8 676.6 798.8 678.4 800.3 680.3C802.5 683.1 803.9 688.8 805.4 694.0C807.4 700.5 808.7 709.7 810.6 716.4C812.2 722.1 813.6 728.1 815.8 731.9C817.3 734.6 818.8 737.1 820.9 737.9C822.9 738.7 825.6 736.5 827.8 737.1C830.2 737.7 832.5 740.3 834.7 742.2C837.1 744.3 839.1 748.3 841.6 749.1C843.7 749.9 846.2 748.4 848.5 748.3C850.8 748.1 853.1 748.6 855.4 748.3C857.7 748.0 860.0 747.8 862.2 746.5C865.1 745.0 868.2 739.8 870.9 738.8C872.7 738.1 874.4 738.1 876.0 738.8C877.9 739.6 879.3 742.2 881.2 744.0C883.3 745.9 885.8 750.0 888.1 750.0C890.4 750.0 892.3 745.0 895.0 744.0C897.5 743.0 900.7 744.0 903.6 744.0C906.4 744.0 909.3 744.0 912.2 744.0C915.0 744.0 917.9 743.6 920.8 744.0C923.7 744.4 926.5 746.0 929.4 746.5C932.2 747.1 935.1 747.6 938.0 747.4C940.9 747.3 944.0 745.3 946.6 745.7C949.1 746.0 951.3 747.8 953.5 749.1C955.9 750.6 957.9 754.2 960.4 754.3C963.1 754.4 966.0 750.1 969.0 749.1C971.8 748.2 974.6 748.4 977.6 748.3C980.9 748.1 984.5 748.3 987.9 748.3" stroke="#676767" stroke-width="2.6"/>
<path d="M600.0 745.0C603.1 748.1 606.2 754.3 609.3 754.3C612.4 754.3 615.2 746.1 618.6 745.0C621.5 744.0 625.0 747.3 627.9 746.5C631.2 745.6 634.6 741.7 637.2 738.8C639.7 736.0 641.7 734.0 643.4 729.5C646.8 720.5 647.6 698.9 649.6 686.0C651.2 675.7 652.2 663.4 654.3 658.1C655.2 655.8 656.4 653.4 657.4 653.5C658.5 653.6 659.5 657.9 660.5 661.2C662.2 667.1 663.5 678.2 665.1 686.0C666.6 693.1 667.7 705.9 669.8 706.2C671.1 706.4 673.1 702.2 674.4 698.4C677.0 690.8 677.4 673.1 679.1 661.2C680.6 650.4 681.7 638.2 683.7 630.2C685.1 625.1 687.0 623.1 688.4 617.8C690.5 609.4 691.4 596.0 693.0 583.7C695.0 569.4 696.9 550.9 699.2 537.2C701.1 526.2 703.1 508.0 705.4 507.8C706.9 507.6 708.8 513.7 710.1 518.6C712.6 528.1 713.3 546.2 714.7 562.0C716.4 580.8 718.1 603.4 719.4 624.0C720.7 644.7 721.4 666.5 722.5 686.0C723.5 703.5 722.9 725.8 725.6 735.7C726.8 740.2 728.0 743.6 730.2 745.0C731.9 746.0 734.7 744.4 736.4 745.0C737.9 745.4 738.5 747.4 740.0 747.4C742.2 747.5 745.9 741.9 748.6 742.2C751.6 742.6 754.9 751.2 757.2 750.9C759.5 750.5 760.8 744.3 762.4 740.5C764.2 736.3 765.4 730.8 767.5 726.7C769.5 723.1 771.8 720.0 774.4 717.3C777.0 714.6 780.3 713.2 783.0 710.4C786.1 707.3 789.2 699.2 791.7 699.2C793.6 699.2 795.3 703.0 796.8 706.1C799.1 711.0 800.2 721.0 802.0 726.7C803.4 731.1 804.9 738.0 806.3 737.9C807.8 737.9 809.3 729.1 810.6 723.3C812.5 714.9 813.9 702.0 815.8 692.3C817.4 683.8 818.8 673.2 820.9 668.2C822.0 665.7 823.1 663.0 824.4 663.0C825.9 663.1 828.0 668.0 829.5 671.7C831.8 677.2 833.0 686.3 834.7 694.0C836.5 702.3 838.0 711.8 839.9 719.9C841.5 727.2 842.3 735.7 845.0 740.5C846.9 743.8 849.4 747.1 851.9 747.4C854.5 747.7 857.6 743.4 860.5 742.2C863.3 741.2 866.6 739.8 869.1 740.5C871.8 741.3 873.4 747.1 876.0 747.4C879.0 747.7 883.1 740.4 886.3 740.5C889.4 740.7 892.0 745.7 895.0 747.4C897.7 749.0 900.7 750.9 903.6 750.9C906.4 750.9 909.3 748.3 912.2 747.4C915.0 746.6 918.0 745.4 920.8 745.7C923.7 746.0 926.2 747.9 929.4 749.1C933.4 750.7 938.7 753.8 943.2 754.3C947.3 754.7 951.5 752.5 955.2 752.6C958.3 752.7 960.8 754.2 963.8 754.3C967.1 754.4 970.5 753.1 974.2 752.6C978.4 752.0 983.3 751.4 987.9 750.9" stroke="#ffa108" stroke-width="2.6"/>
<path d="M600.0 746.5C604.1 747.0 608.3 748.3 612.4 748.1C616.6 747.8 621.0 746.4 624.8 745.0C628.2 743.7 630.9 740.8 634.1 740.3C637.1 739.9 640.4 742.5 643.4 741.9C646.7 741.2 649.7 738.1 652.7 735.7C656.0 733.0 659.0 729.8 662.0 726.4C665.3 722.6 668.8 718.5 671.3 714.0C674.0 709.2 675.6 704.3 677.5 698.4C679.9 691.2 681.8 682.4 683.7 673.6C685.9 663.9 687.8 652.7 689.9 642.6C691.9 633.1 693.9 622.1 696.1 614.7C697.6 609.7 698.7 604.9 700.8 602.3C702.1 600.6 703.8 599.1 705.4 599.2C707.4 599.4 709.8 602.5 711.6 605.4C714.3 609.8 716.0 617.0 717.8 624.0C720.2 633.0 722.0 644.2 724.0 655.0C726.2 666.9 728.1 680.4 730.2 692.2C732.2 703.1 733.3 716.6 736.4 723.3C738.2 727.0 740.5 729.7 742.6 731.0C744.0 731.9 745.4 732.2 746.9 731.9C748.8 731.6 750.8 728.4 752.9 728.1C754.9 727.9 757.0 729.0 758.9 730.2C761.3 731.7 763.7 734.6 765.8 737.1C768.0 739.5 769.8 744.8 771.9 744.8C773.9 744.8 775.9 739.9 777.9 737.1C780.2 733.9 782.3 729.6 784.8 726.7C786.9 724.3 789.4 722.0 791.7 720.7C793.4 719.7 795.0 719.0 796.8 719.0C799.0 719.0 801.5 720.3 803.7 721.6C806.1 723.0 808.3 725.6 810.6 727.6C812.9 729.6 814.9 732.1 817.5 733.6C820.1 735.2 823.2 735.9 826.1 737.1C829.0 738.2 831.9 739.1 834.7 740.5C837.6 742.0 840.5 743.7 843.3 745.7C846.2 747.7 849.0 752.4 851.9 752.6C854.7 752.8 857.6 748.9 860.5 747.4C863.3 746.0 866.3 744.0 869.1 744.0C872.0 744.0 874.8 746.1 877.7 747.4C881.1 748.9 885.0 752.8 888.1 752.6C890.7 752.3 892.4 748.8 895.0 747.4C897.6 745.9 900.7 744.8 903.6 744.0C906.4 743.1 909.3 742.2 912.2 742.2C915.0 742.2 918.0 743.0 920.8 744.0C923.7 745.0 926.5 747.0 929.4 748.3C932.2 749.5 935.1 751.0 938.0 751.7C940.8 752.4 943.7 752.4 946.6 752.6C949.5 752.7 952.5 753.3 955.2 752.6C958.2 751.7 960.9 748.9 963.8 747.4C966.6 746.0 969.1 744.8 972.4 744.0C976.8 742.9 982.8 743.0 987.9 742.6" stroke="#f44a4a" stroke-width="2.6"/>
<path d="M600.0 741.2C604.1 742.0 608.4 744.0 612.4 743.4C616.6 742.8 620.9 739.0 624.8 737.2C628.1 735.7 630.9 733.9 634.1 733.2C637.1 732.4 640.4 733.6 643.4 732.6C646.7 731.5 649.8 729.1 652.7 726.4C656.1 723.1 658.5 716.9 662.0 714.0C664.9 711.6 668.7 711.4 671.3 709.3C673.9 707.2 675.7 704.9 677.5 701.6C680.1 696.9 681.8 689.8 683.7 682.9C686.0 674.6 687.7 663.7 689.9 655.0C691.9 647.3 694.0 640.3 696.1 633.3C698.1 626.9 699.5 618.6 702.3 614.7C704.1 612.3 706.6 609.8 708.5 610.1C710.7 610.4 712.9 614.5 714.7 617.8C717.3 622.5 719.0 629.7 720.9 636.4C723.2 644.1 725.2 652.5 727.1 661.2C729.3 671.0 731.1 682.9 733.3 692.2C735.3 700.2 736.5 709.6 739.5 714.0C741.3 716.5 743.6 718.3 745.7 718.6C747.8 718.9 750.0 716.9 752.1 716.4C753.8 716.0 755.6 714.9 757.2 715.6C759.7 716.6 762.2 721.3 764.1 725.0C766.4 729.4 767.7 735.9 769.3 740.5C770.5 744.3 771.6 750.9 772.7 750.9C773.9 750.9 775.0 744.6 776.2 740.5C777.8 734.8 779.5 726.2 781.3 719.9C782.9 714.3 784.5 708.7 786.5 704.4C788.0 701.0 789.8 697.4 791.7 695.8C792.8 694.7 793.9 693.8 795.1 694.0C796.7 694.3 798.7 696.9 800.3 699.2C802.3 702.2 803.7 707.2 805.4 711.3C807.1 715.3 808.6 719.9 810.6 723.3C812.2 726.0 813.7 729.9 815.8 730.2C817.8 730.5 820.3 726.5 822.6 725.0C824.9 723.6 827.2 721.6 829.5 721.6C831.8 721.6 834.4 723.0 836.4 725.0C839.3 727.9 840.8 734.9 843.3 738.8C845.4 742.1 847.9 745.1 850.2 747.4C851.9 749.2 853.4 751.7 855.4 751.7C857.9 751.7 860.8 746.3 864.0 744.8C867.1 743.4 870.7 743.5 874.3 743.1C878.1 742.7 882.5 742.6 886.3 742.6C889.9 742.6 893.3 743.7 896.7 743.1C900.2 742.5 903.5 740.1 907.0 738.8C910.4 737.5 914.0 735.6 917.3 735.4C920.3 735.2 923.2 735.9 926.0 737.1C929.0 738.4 931.7 741.2 934.6 743.1C937.4 744.9 940.3 746.7 943.2 748.3C946.0 749.8 948.9 752.6 951.8 752.6C954.6 752.6 957.6 750.1 960.4 748.3C963.4 746.2 966.0 742.6 969.0 740.5C971.7 738.7 974.5 736.8 977.6 736.2C980.8 735.6 984.5 736.8 987.9 737.1" stroke="#1b9aea" stroke-width="2.8"/>
</g>
<rect x="95.5" y="30.0" width="382.9" height="306.4" fill="none" stroke="#000" stroke-width="2.2"/>
<path d="M95.5 336.4v8.5M172.1 336.4v8.5M248.7 336.4v8.5M325.2 336.4v8.5M401.8 336.4v8.5M478.4 336.4v8.5M133.8 336.4v4.5M210.4 336.4v4.5M286.9 336.4v4.5M363.5 336.4v4.5M440.1 336.4v4.5M95.5 308.3h-8.5M95.5 252.6h-8.5M95.5 197.0h-8.5M95.5 141.3h-8.5M95.5 85.7h-8.5M95.5 30.0h-8.5M95.5 336.1h-4.5M95.5 280.5h-4.5M95.5 224.8h-4.5M95.5 169.2h-4.5M95.5 113.5h-4.5M95.5 57.8h-4.5" stroke="#000" stroke-width="2.2" fill="none"/>
<text x="95.5" y="371.4" font-size="26" text-anchor="middle">7100</text>
<text x="172.1" y="371.4" font-size="26" text-anchor="middle">7120</text>
<text x="248.7" y="371.4" font-size="26" text-anchor="middle">7140</text>
<text x="325.2" y="371.4" font-size="26" text-anchor="middle">7160</text>
<text x="401.8" y="371.4" font-size="26" text-anchor="middle">7180</text>
<text x="478.4" y="371.4" font-size="26" text-anchor="middle">7200</text>
<text x="81.0" y="316.4" font-size="26" text-anchor="end">0.0</text>
<text x="81.0" y="260.7" font-size="26" text-anchor="end">0.4</text>
<text x="81.0" y="205.0" font-size="26" text-anchor="end">0.8</text>
<text x="81.0" y="149.4" font-size="26" text-anchor="end">1.2</text>
<text x="81.0" y="93.7" font-size="26" text-anchor="end">1.6</text>
<text x="81.0" y="38.1" font-size="26" text-anchor="end">2.0</text>
<rect x="602.5" y="30.7" width="382.0" height="306.3" fill="none" stroke="#000" stroke-width="2.2"/>
<path d="M602.5 337.0v8.5M666.2 337.0v8.5M729.8 337.0v8.5M793.5 337.0v8.5M857.2 337.0v8.5M920.8 337.0v8.5M984.5 337.0v8.5M634.3 337.0v4.5M698.0 337.0v4.5M761.7 337.0v4.5M825.3 337.0v4.5M889.0 337.0v4.5M952.7 337.0v4.5M602.5 306.2h-8.5M602.5 245.2h-8.5M602.5 184.3h-8.5M602.5 123.3h-8.5M602.5 62.4h-8.5M602.5 336.7h-4.5M602.5 275.7h-4.5M602.5 214.8h-4.5M602.5 153.8h-4.5M602.5 92.9h-4.5M602.5 31.9h-4.5" stroke="#000" stroke-width="2.2" fill="none"/>
<text x="602.5" y="372.0" font-size="26" text-anchor="middle">0</text>
<text x="666.2" y="372.0" font-size="26" text-anchor="middle">1</text>
<text x="729.8" y="372.0" font-size="26" text-anchor="middle">2</text>
<text x="793.5" y="372.0" font-size="26" text-anchor="middle">3</text>
<text x="857.2" y="372.0" font-size="26" text-anchor="middle">4</text>
<text x="920.8" y="372.0" font-size="26" text-anchor="middle">5</text>
<text x="984.5" y="372.0" font-size="26" text-anchor="middle">6</text>
<text x="588.0" y="314.3" font-size="26" text-anchor="end" font-weight="bold">0</text>
<text x="588.0" y="253.3" font-size="26" text-anchor="end" font-weight="bold">1</text>
<text x="588.0" y="192.4" font-size="26" text-anchor="end" font-weight="bold">2</text>
<text x="588.0" y="131.4" font-size="26" text-anchor="end" font-weight="bold">3</text>
<text x="588.0" y="70.5" font-size="26" text-anchor="end" font-weight="bold">4</text>
<rect x="95.2" y="471.3" width="382.4" height="306.7" fill="none" stroke="#000" stroke-width="2.2"/>
<path d="M95.2 778.0v8.5M190.8 778.0v8.5M286.4 778.0v8.5M382.0 778.0v8.5M477.6 778.0v8.5M143.0 778.0v4.5M238.6 778.0v4.5M334.2 778.0v4.5M429.8 778.0v4.5M95.2 739.5h-8.5M95.2 662.8h-8.5M95.2 586.2h-8.5M95.2 509.5h-8.5M95.2 777.8h-4.5M95.2 701.2h-4.5M95.2 624.5h-4.5M95.2 547.8h-4.5M95.2 471.2h-4.5" stroke="#000" stroke-width="2.2" fill="none"/>
<text x="95.2" y="813.0" font-size="26" text-anchor="middle">13380</text>
<text x="190.8" y="813.0" font-size="26" text-anchor="middle">13410</text>
<text x="286.4" y="813.0" font-size="26" text-anchor="middle">13440</text>
<text x="382.0" y="813.0" font-size="26" text-anchor="middle">13470</text>
<text x="477.6" y="813.0" font-size="26" text-anchor="middle">13500</text>
<text x="80.7" y="747.6" font-size="26" text-anchor="end">0.0</text>
<text x="80.7" y="670.9" font-size="26" text-anchor="end">0.4</text>
<text x="80.7" y="594.2" font-size="26" text-anchor="end">0.8</text>
<text x="80.7" y="517.6" font-size="26" text-anchor="end">1.2</text>
<rect x="601.2" y="472.1" width="383.8" height="306.4" fill="none" stroke="#000" stroke-width="2.2"/>
<path d="M601.2 778.5v8.5M665.2 778.5v8.5M729.1 778.5v8.5M793.1 778.5v8.5M857.1 778.5v8.5M921.0 778.5v8.5M985.0 778.5v8.5M633.2 778.5v4.5M697.2 778.5v4.5M761.1 778.5v4.5M825.1 778.5v4.5M889.0 778.5v4.5M953.0 778.5v4.5M601.2 754.2h-8.5M601.2 707.2h-8.5M601.2 660.2h-8.5M601.2 613.2h-8.5M601.2 566.1h-8.5M601.2 519.1h-8.5M601.2 472.1h-8.5M601.2 777.7h-4.5M601.2 730.7h-4.5M601.2 683.7h-4.5M601.2 636.7h-4.5M601.2 589.6h-4.5M601.2 542.6h-4.5M601.2 495.6h-4.5" stroke="#000" stroke-width="2.2" fill="none"/>
<text x="601.2" y="813.5" font-size="26" text-anchor="middle">0</text>
<text x="665.2" y="813.5" font-size="26" text-anchor="middle">1</text>
<text x="729.1" y="813.5" font-size="26" text-anchor="middle">2</text>
<text x="793.1" y="813.5" font-size="26" text-anchor="middle">3</text>
<text x="857.1" y="813.5" font-size="26" text-anchor="middle">4</text>
<text x="921.0" y="813.5" font-size="26" text-anchor="middle">5</text>
<text x="985.0" y="813.5" font-size="26" text-anchor="middle">6</text>
<text x="586.7" y="762.3" font-size="26" text-anchor="end">0.0</text>
<text x="586.7" y="715.2" font-size="26" text-anchor="end">0.1</text>
<text x="586.7" y="668.2" font-size="26" text-anchor="end">0.2</text>
<text x="586.7" y="621.2" font-size="26" text-anchor="end">0.3</text>
<text x="586.7" y="574.2" font-size="26" text-anchor="end">0.4</text>
<text x="586.7" y="527.2" font-size="26" text-anchor="end">0.5</text>
<text x="586.7" y="480.2" font-size="26" text-anchor="end">0.6</text>
<rect x="1093.1" y="29.7" width="392.4" height="307.6" fill="none" stroke="#000" stroke-width="3.0"/>
<path d="M1093.1 337.3v9.6M1191.2 337.3v9.6M1289.3 337.3v9.6M1387.4 337.3v9.6M1485.5 337.3v9.6M1142.1 337.3v5.2M1240.2 337.3v5.2M1338.3 337.3v5.2M1436.5 337.3v5.2M1093.1 337.3h-9.6M1093.1 260.4h-9.6M1093.1 183.5h-9.6M1093.1 106.6h-9.6M1093.1 29.7h-9.6M1093.1 298.9h-5.2M1093.1 221.9h-5.2M1093.1 145.1h-5.2M1093.1 68.1h-5.2" stroke="#000" stroke-width="3.0" fill="none"/>
<text x="1093.1" y="376.0" font-size="30" text-anchor="middle">0</text>
<text x="1191.2" y="376.0" font-size="30" text-anchor="middle">4</text>
<text x="1289.3" y="376.0" font-size="30" text-anchor="middle">8</text>
<text x="1387.4" y="376.0" font-size="30" text-anchor="middle">12</text>
<text x="1485.5" y="376.0" font-size="30" text-anchor="middle">16</text>
<text x="1076.1" y="346.6" font-size="30" text-anchor="end">0</text>
<text x="1076.1" y="269.7" font-size="30" text-anchor="end">1</text>
<text x="1076.1" y="192.8" font-size="30" text-anchor="end">2</text>
<text x="1076.1" y="115.9" font-size="30" text-anchor="end">3</text>
<text x="1076.1" y="39.0" font-size="30" text-anchor="end">4</text>
<rect x="1590.0" y="29.7" width="386.7" height="308.3" fill="none" stroke="#000" stroke-width="3.0"/>
<path d="M1590.0 338.0v9.6M1686.7 338.0v9.6M1783.3 338.0v9.6M1880.0 338.0v9.6M1976.7 338.0v9.6M1638.3 338.0v5.2M1735.0 338.0v5.2M1831.7 338.0v5.2M1928.4 338.0v5.2M1590.0 338.0h-9.6M1590.0 260.9h-9.6M1590.0 183.8h-9.6M1590.0 106.8h-9.6M1590.0 29.7h-9.6M1590.0 299.5h-5.2M1590.0 222.4h-5.2M1590.0 145.3h-5.2M1590.0 68.2h-5.2" stroke="#000" stroke-width="3.0" fill="none"/>
<text x="1590.0" y="376.7" font-size="30" text-anchor="middle">0</text>
<text x="1686.7" y="376.7" font-size="30" text-anchor="middle">4</text>
<text x="1783.3" y="376.7" font-size="30" text-anchor="middle">8</text>
<text x="1880.0" y="376.7" font-size="30" text-anchor="middle">12</text>
<text x="1976.7" y="376.7" font-size="30" text-anchor="middle">16</text>
<text x="1573.0" y="347.3" font-size="30" text-anchor="end">0</text>
<text x="1573.0" y="270.2" font-size="30" text-anchor="end">1</text>
<text x="1573.0" y="193.2" font-size="30" text-anchor="end">2</text>
<text x="1573.0" y="116.1" font-size="30" text-anchor="end">3</text>
<text x="1573.0" y="39.0" font-size="30" text-anchor="end">4</text>
<rect x="1092.8" y="469.4" width="393.3" height="313.6" fill="none" stroke="#000" stroke-width="3.0"/>
<path d="M1092.8 783.0v9.6M1191.1 783.0v9.6M1289.4 783.0v9.6M1387.8 783.0v9.6M1486.1 783.0v9.6M1142.0 783.0v5.2M1240.3 783.0v5.2M1338.6 783.0v5.2M1436.9 783.0v5.2M1092.8 783.0h-9.6M1092.8 704.6h-9.6M1092.8 626.2h-9.6M1092.8 547.8h-9.6M1092.8 469.4h-9.6M1092.8 743.8h-5.2M1092.8 665.4h-5.2M1092.8 587.0h-5.2M1092.8 508.6h-5.2" stroke="#000" stroke-width="3.0" fill="none"/>
<text x="1092.8" y="821.7" font-size="30" text-anchor="middle">0</text>
<text x="1191.1" y="821.7" font-size="30" text-anchor="middle">4</text>
<text x="1289.4" y="821.7" font-size="30" text-anchor="middle">8</text>
<text x="1387.8" y="821.7" font-size="30" text-anchor="middle">12</text>
<text x="1486.1" y="821.7" font-size="30" text-anchor="middle">16</text>
<text x="1075.8" y="792.3" font-size="30" text-anchor="end">0</text>
<text x="1075.8" y="713.9" font-size="30" text-anchor="end">1</text>
<text x="1075.8" y="635.5" font-size="30" text-anchor="end">2</text>
<text x="1075.8" y="557.1" font-size="30" text-anchor="end">3</text>
<text x="1075.8" y="478.7" font-size="30" text-anchor="end">4</text>
<rect x="1588.7" y="470.9" width="388.8" height="309.9" fill="none" stroke="#000" stroke-width="3.0"/>
<path d="M1588.7 780.8v9.6M1685.9 780.8v9.6M1783.1 780.8v9.6M1880.3 780.8v9.6M1977.5 780.8v9.6M1637.3 780.8v5.2M1734.5 780.8v5.2M1831.7 780.8v5.2M1928.9 780.8v5.2M1588.7 780.8h-9.6M1588.7 703.3h-9.6M1588.7 625.8h-9.6M1588.7 548.4h-9.6M1588.7 470.9h-9.6M1588.7 742.1h-5.2M1588.7 664.6h-5.2M1588.7 587.1h-5.2M1588.7 509.6h-5.2" stroke="#000" stroke-width="3.0" fill="none"/>
<text x="1588.7" y="819.5" font-size="30" text-anchor="middle">0</text>
<text x="1685.9" y="819.5" font-size="30" text-anchor="middle">4</text>
<text x="1783.1" y="819.5" font-size="30" text-anchor="middle">8</text>
<text x="1880.3" y="819.5" font-size="30" text-anchor="middle">12</text>
<text x="1977.5" y="819.5" font-size="30" text-anchor="middle">16</text>
<text x="1571.7" y="790.1" font-size="30" text-anchor="end">0</text>
<text x="1571.7" y="712.6" font-size="30" text-anchor="end">1</text>
<text x="1571.7" y="635.1" font-size="30" text-anchor="end">2</text>
<text x="1571.7" y="557.7" font-size="30" text-anchor="end">3</text>
<text x="1571.7" y="480.2" font-size="30" text-anchor="end">4</text>
<text x="-0.5" y="30.5" font-size="41" font-weight="bold">a</text>
<text x="521" y="30.5" font-size="41" font-weight="bold">b</text>
<text x="1018.7" y="30.5" font-size="41" font-weight="bold">c</text>
<text x="1515.5" y="30.5" font-size="41" font-weight="bold">d</text>
<text x="-1.5" y="470" font-size="41" font-weight="bold">e</text>
<text x="520" y="470" font-size="41" font-weight="bold">f</text>
<text x="1019.7" y="470" font-size="41" font-weight="bold">g</text>
<text x="1518" y="470" font-size="41" font-weight="bold">h</text>
<text x="286.9" y="406.0" font-size="26" text-anchor="middle">Energy (eV)</text>
<text x="286.4" y="847.6" font-size="26" text-anchor="middle">Energy (eV)</text>
<text x="793.5" y="406.6" font-size="26" text-anchor="middle">Radial distance (Å)</text>
<text x="793.1" y="848.1" font-size="26" text-anchor="middle">Radial distance (Å)</text>
<text x="1289.3" y="416.3" font-size="29.5" text-anchor="middle">k (Å<tspan dy="-11" font-size="19.5">−1</tspan><tspan dy="11">)</tspan></text>
<text x="1783.3" y="417.0" font-size="29.5" text-anchor="middle">k (Å<tspan dy="-11" font-size="19.5">−1</tspan><tspan dy="11">)</tspan></text>
<text x="1289.4" y="862.0" font-size="29.5" text-anchor="middle">k (Å<tspan dy="-11" font-size="19.5">−1</tspan><tspan dy="11">)</tspan></text>
<text x="1783.1" y="859.8" font-size="29.5" text-anchor="middle">k (Å<tspan dy="-11" font-size="19.5">−1</tspan><tspan dy="11">)</tspan></text>
<text transform="translate(26.2 182.3) rotate(-90)" font-size="27" text-anchor="middle">Normalized <tspan font-family="'Liberation Serif', serif" font-style="italic">χμ</tspan> (E)</text>
<text transform="translate(26.2 625.3) rotate(-90)" font-size="27" text-anchor="middle">Normalized <tspan font-family="'Liberation Serif', serif" font-style="italic">χμ</tspan> (E)</text>
<text transform="translate(552.0 182.6) rotate(-90)" font-size="27" text-anchor="middle">|FT(<tspan font-style="italic">k</tspan><tspan dy="-10" font-size="18">2</tspan><tspan dy="10" font-family="'Liberation Serif', serif" font-style="italic">χ</tspan>(<tspan font-style="italic">k</tspan>))| (Å<tspan dy="-10" font-size="18">−3</tspan><tspan dy="10">)</tspan></text>
<text transform="translate(532.0 624.0) rotate(-90)" font-size="27" text-anchor="middle">|FT(<tspan font-style="italic">k</tspan><tspan dy="-10" font-size="18">2</tspan><tspan dy="10" font-family="'Liberation Serif', serif" font-style="italic">χ</tspan>(<tspan font-style="italic">k</tspan>))| (Å<tspan dy="-10" font-size="18">−3</tspan><tspan dy="10">)</tspan></text>
<text transform="translate(1039.5 186.0) rotate(-90)" font-size="30.5" text-anchor="middle" letter-spacing="0.6">R+α (Å)</text>
<text transform="translate(1536.3 186.0) rotate(-90)" font-size="30.5" text-anchor="middle" letter-spacing="0.6">R+α (Å)</text>
<text transform="translate(1039.3 628.0) rotate(-90)" font-size="30.5" text-anchor="middle" letter-spacing="0.6">R+α (Å)</text>
<text transform="translate(1535.3 628.0) rotate(-90)" font-size="30.5" text-anchor="middle" letter-spacing="0.6">R+α (Å)</text>
<path d="M344.8 46.6H384.4" stroke="#8c8c8c" stroke-width="2.8"/>
<text x="388.4" y="51.7" font-size="16">Fe foil</text>
<path d="M344.8 67.6H384.4" stroke="#35b96c" stroke-width="2.8"/>
<text x="388.4" y="72.7" font-size="16">FeO</text>
<path d="M344.8 88.5H384.4" stroke="#ffa108" stroke-width="2.8"/>
<text x="388.4" y="93.6" font-size="16">Fe<tspan font-size="10.9" dy="4.0">2</tspan><tspan dy="-4.0">O</tspan><tspan font-size="10.9" dy="4.0">3</tspan></text>
<path d="M344.8 113.0H384.4" stroke="#1b9aea" stroke-width="2.8"/>
<text x="388.4" y="118.1" font-size="16">Fe−N−C</text>
<path d="M344.8 134.1H384.4" stroke="#f44a4a" stroke-width="2.8"/>
<text x="388.4" y="139.2" font-size="16">FeBi−N−C</text>
<path d="M850.9 44.9H891.0" stroke="#8c8c8c" stroke-width="2.8"/>
<text x="894.7" y="50.5" font-size="16">Fe foil</text>
<path d="M850.9 65.9H891.0" stroke="#35b96c" stroke-width="2.8"/>
<text x="894.7" y="71.5" font-size="16">FeO</text>
<path d="M850.9 87.1H891.0" stroke="#ffa108" stroke-width="2.8"/>
<text x="894.7" y="92.7" font-size="16">Fe<tspan font-size="10.9" dy="4.0">2</tspan><tspan dy="-4.0">O</tspan><tspan font-size="10.9" dy="4.0">3</tspan></text>
<path d="M850.9 111.5H891.0" stroke="#1b9aea" stroke-width="2.8"/>
<text x="894.7" y="117.1" font-size="16">Fe−N−C</text>
<path d="M850.9 132.4H891.0" stroke="#f44a4a" stroke-width="2.8"/>
<text x="894.7" y="138.0" font-size="16">FeBi−N−C</text>
<path d="M103.2 487.0H145.3" stroke="#676767" stroke-width="2.8"/>
<text x="149.8" y="493.0" font-size="17.5">Bi foil</text>
<path d="M103.2 509.4H145.3" stroke="#ffa108" stroke-width="2.8"/>
<text x="149.8" y="515.4" font-size="17.5">Bi<tspan font-size="11.9" dy="4.4">2</tspan><tspan dy="-4.4">O</tspan><tspan font-size="11.9" dy="4.4">3</tspan></text>
<path d="M103.2 535.6H145.3" stroke="#1b9aea" stroke-width="2.8"/>
<text x="149.8" y="541.6" font-size="17.5">Bi−N−C</text>
<path d="M103.2 558.1H145.3" stroke="#f44a4a" stroke-width="2.8"/>
<text x="149.8" y="564.1" font-size="17.5">FeBi−N−C</text>
<path d="M830.4 490.2H877.5" stroke="#676767" stroke-width="2.8"/>
<text x="882.8" y="496.7" font-size="18.5">Bi foil</text>
<path d="M830.4 515.2H877.5" stroke="#ffa108" stroke-width="2.8"/>
<text x="882.8" y="521.7" font-size="18.5">Bi<tspan font-size="12.6" dy="4.6">2</tspan><tspan dy="-4.6">O</tspan><tspan font-size="12.6" dy="4.6">3</tspan></text>
<path d="M830.4 544.2H877.5" stroke="#1b9aea" stroke-width="2.8"/>
<text x="882.8" y="550.7" font-size="18.5">Bi−N−C</text>
<path d="M830.4 569.1H877.5" stroke="#f44a4a" stroke-width="2.8"/>
<text x="882.8" y="575.6" font-size="18.5">FeBi−N−C</text>
<rect x="267" y="203.4" width="130.2" height="103.3" fill="#fff" stroke="#222" stroke-width="1.6"/>
<clipPath id="cia"><rect x="267" y="203.4" width="130.2" height="103.3"/></clipPath><g clip-path="url(#cia)" fill="none" stroke-width="1.2">
<path d="M267.0 261.2C271.3 260.6 275.7 260.2 279.8 259.3C283.7 258.4 287.6 257.6 291.1 256.1C294.5 254.6 297.5 252.3 300.7 250.4C303.9 248.6 307.2 246.8 310.4 244.8C313.6 242.8 316.9 240.7 320.0 238.4C323.3 235.9 326.4 233.3 329.6 230.4C333.3 227.0 337.0 222.5 340.9 219.1C344.6 215.9 347.7 212.8 352.2 210.3C357.5 207.2 365.0 205.4 371.4 203.0" stroke="#8c8c8c"/>
<path d="M267.0 291.4C271.3 290.4 275.7 290.0 279.8 288.2C284.3 286.3 288.5 283.3 292.7 280.2C297.1 276.9 301.6 273.1 305.5 268.9C309.6 264.6 312.8 259.2 316.8 254.5C320.9 249.6 325.5 245.3 329.6 240.0C334.1 234.2 337.5 226.8 342.5 220.7C347.7 214.4 354.3 208.9 360.2 203.0" stroke="#35b96c"/>
<path d="M267.0 300.3C278.2 299.9 291.5 299.9 300.7 299.1C307.1 298.6 311.5 298.3 316.8 297.1C322.2 295.8 328.0 294.0 332.9 291.4C337.6 288.9 341.3 285.6 345.7 281.8C350.9 277.3 356.7 271.8 361.8 265.7C367.4 259.1 372.2 251.0 377.9 243.2C384.0 234.7 390.7 225.5 397.2 216.7" stroke="#ffa108"/>
<path d="M267.0 285.8C271.3 283.7 275.6 281.6 279.8 279.4C284.1 277.1 288.5 274.9 292.7 272.1C297.1 269.3 301.4 266.0 305.5 262.5C309.9 258.8 314.2 254.7 318.4 250.4C322.8 246.1 327.1 241.8 331.3 236.8C335.7 231.4 339.5 224.7 344.1 219.1C348.7 213.5 353.8 208.4 358.6 203.0" stroke="#f44a4a"/>
<path d="M267.0 281.8C271.3 279.9 275.6 278.3 279.8 276.2C284.2 274.0 288.7 271.7 292.7 268.9C296.7 266.1 300.1 262.6 303.9 259.3C308.1 255.7 312.6 252.0 316.8 248.0C321.1 244.0 325.5 239.8 329.6 235.2C334.1 230.2 337.8 224.3 342.5 219.1C347.4 213.6 353.2 208.4 358.6 203.0" stroke="#1b9aea"/>
</g>
<path d="M267 306.7v4M285.8 306.7v2.5M305.5 306.7v4M325.2 306.7v2.5M344.9 306.7v4M363.8 306.7v2.5M382.7 306.7v4" stroke="#222" stroke-width="1.5"/>
<text x="267" y="322.8" font-size="12.5" font-weight="bold" text-anchor="middle" textLength="29" lengthAdjust="spacingAndGlyphs" stroke="#000" stroke-width="0.5">7116</text>
<text x="305.5" y="322.8" font-size="12.5" font-weight="bold" text-anchor="middle" textLength="29" lengthAdjust="spacingAndGlyphs" stroke="#000" stroke-width="0.5">7119</text>
<text x="344.9" y="322.8" font-size="12.5" font-weight="bold" text-anchor="middle" textLength="29" lengthAdjust="spacingAndGlyphs" stroke="#000" stroke-width="0.5">7122</text>
<text x="382.7" y="322.8" font-size="12.5" font-weight="bold" text-anchor="middle" textLength="29" lengthAdjust="spacingAndGlyphs" stroke="#000" stroke-width="0.5">7125</text>
<rect x="151.2" y="218.3" width="38.6" height="76.7" stroke="#8a00ff" stroke-width="2" stroke-dasharray="6 4" fill="none"/>
<path d="M189.8 218.3L267.8 205.4M189.8 293.8L267.8 313.1" stroke="#8a00ff" stroke-width="2" stroke-dasharray="6 4" fill="none"/>
<path d="M292.7 248.8L319.3 275.5" stroke="#8a00ff" stroke-width="2.2"/><path d="M326.4 282.6L314.4 279.0L322.9 270.6Z" fill="#8a00ff"/>
<rect x="291.2" y="623.8" width="141.3" height="118.5" fill="#fff" stroke="#000" stroke-width="2.4"/>
<clipPath id="cie"><rect x="291.2" y="623.8" width="141.3" height="118.5"/></clipPath><g clip-path="url(#cie)" fill="none" stroke-width="1.3">
<path d="M291.2 723.7C296.1 722.5 300.9 722.2 305.8 720.2C311.5 717.9 317.4 713.6 323.1 709.9C328.9 706.1 334.6 702.1 340.3 697.9C346.1 693.5 351.8 688.9 357.5 684.1C363.3 679.1 368.9 673.5 374.7 668.6C380.4 663.8 386.4 659.8 392.0 654.8C397.9 649.5 403.3 642.7 409.2 637.6C414.8 632.7 421.8 627.2 426.4 624.6C429.1 623.2 431.0 622.9 433.3 622.1" stroke="#676767"/>
<path d="M291.2 730.6C298.9 728.9 307.4 727.8 314.5 725.4C320.7 723.3 326.0 720.4 331.7 717.7C337.4 714.9 343.1 711.8 348.9 709.1C354.6 706.3 360.5 704.3 366.1 701.3C372.0 698.3 377.7 694.6 383.4 691.0C389.2 687.2 395.0 683.6 400.6 678.9C406.6 673.9 412.4 667.4 417.8 661.7C423.0 656.2 427.6 650.8 432.5 645.3" stroke="#ffa108"/>
<path d="M291.2 728.0C298.9 725.4 307.3 722.9 314.5 720.2C320.7 718.0 326.0 716.0 331.7 713.4C337.5 710.6 343.2 707.3 348.9 703.9C354.7 700.4 360.4 696.5 366.1 692.7C371.9 688.8 377.8 685.3 383.4 680.6C389.3 675.6 395.0 669.5 400.6 663.4C406.5 657.0 412.2 648.9 417.8 642.7C422.8 637.3 427.6 633.0 432.5 628.1" stroke="#f44a4a"/>
<path d="M291.2 730.6C298.9 728.0 307.3 725.6 314.5 722.8C320.7 720.4 326.0 717.9 331.7 715.1C337.5 712.2 343.2 709.0 348.9 705.6C354.7 702.1 360.4 698.3 366.1 694.4C371.9 690.5 377.7 686.8 383.4 682.4C389.2 677.7 395.0 672.6 400.6 666.8C406.6 660.6 412.4 653.0 417.8 646.2C423.0 639.8 427.6 633.5 432.5 627.2" stroke="#1b9aea"/>
</g>
<path d="M291.2 742.3v4M314.9 742.3v2.5M338.6 742.3v4M362.2 742.3v2.5M385.9 742.3v4M408.9 742.3v2.5M431.9 742.3v4" stroke="#000" stroke-width="2"/>
<text x="291.2" y="759" font-size="12.5" font-weight="bold" text-anchor="middle" textLength="43" lengthAdjust="spacingAndGlyphs" stroke="#000" stroke-width="0.5">13410</text>
<text x="338.6" y="759" font-size="12.5" font-weight="bold" text-anchor="middle" textLength="43" lengthAdjust="spacingAndGlyphs" stroke="#000" stroke-width="0.5">13415</text>
<text x="385.9" y="759" font-size="12.5" font-weight="bold" text-anchor="middle" textLength="43" lengthAdjust="spacingAndGlyphs" stroke="#000" stroke-width="0.5">13420</text>
<text x="431.9" y="759" font-size="12.5" font-weight="bold" text-anchor="middle" textLength="43" lengthAdjust="spacingAndGlyphs" stroke="#000" stroke-width="0.5">13425</text>
<rect x="186.7" y="653.4" width="39.6" height="76.6" stroke="#8a00ff" stroke-width="2" stroke-dasharray="6 4" fill="none"/>
<path d="M226.3 652.1L291 624.3M226.3 730L291 743.2" stroke="#8a00ff" stroke-width="2" stroke-dasharray="6 4" fill="none"/>
<path d="M330.0 691.8L361.5 722.0" stroke="#8a00ff" stroke-width="2.2"/><path d="M368.7 728.9L356.6 725.6L364.9 717.0Z" fill="#8a00ff"/>
<text x="744.5" y="52" font-size="15.8" text-anchor="middle">Fe–Fe</text>
<text x="687.9" y="201" font-size="15.8" text-anchor="middle">Fe–N</text>
<path d="M697.3 257.0L697.3 216.2" stroke="#000" stroke-width="2.0"/><path d="M697.3 206.2L702.3 217.2L692.3 217.2Z" fill="#000"/>
<text x="809.5" y="220.5" font-size="15.8" text-anchor="middle">Fe–N–C</text>
<path d="M765.4 285.4L793.6 235.7" stroke="#000" stroke-width="2.0"/><path d="M798.5 227.0L797.4 239.0L788.7 234.1Z" fill="#000"/>
<text x="765.8" y="559.5" font-size="15.8" text-anchor="middle">Bi–N</text>
<path d="M708.5 594.6L737.0 567.4" stroke="#000" stroke-width="2.0"/><path d="M744.2 560.5L739.7 571.7L732.8 564.5Z" fill="#000"/>
<text x="774.2" y="640.7" font-size="15.8" text-anchor="middle">Bi–N–C</text>
<path d="M752.0 728.5L771.7 657.1" stroke="#000" stroke-width="2.0"/><path d="M774.4 647.5L776.3 659.4L766.6 656.8Z" fill="#000"/>
<text x="802.2" y="657" font-size="15.8" text-anchor="middle">Bi–Bi</text>
<path d="M796 663V689.7" stroke="#000" stroke-width="1.8" stroke-dasharray="4 3"/>
<text x="1112.3" y="62" font-size="22" fill="#fff">Fe−N−C</text>
<text x="1613.6" y="60.5" font-size="22" fill="#fff">FeBi−N−C</text>
<text x="1113.5" y="503" font-size="22" fill="#fff">Bi−N−C</text>
<text x="1608.2" y="503.3" font-size="22" fill="#fff">FeBi−N−C</text>
<text x="1187.5" y="289" font-size="22" fill="#fff">Fe<tspan font-weight="bold">−</tspan>N</text>
<text x="1685.8" y="284.4" font-size="22" fill="#fff">Fe<tspan font-weight="bold">−</tspan>N</text>
<text x="1207" y="712.3" font-size="22" fill="#fff">Bi<tspan font-weight="bold">−</tspan>N</text>
<text x="1717.8" y="708.2" font-size="22" fill="#fff">Bi<tspan font-weight="bold">−</tspan>N</text>
<path d="M1185.2 202.7V263.3" stroke="#000" stroke-width="2.2" stroke-dasharray="5 3"/>
<path d="M1681.5 200.1V261.3" stroke="#000" stroke-width="2.2" stroke-dasharray="5 3"/>
<path d="M1193.5 626.8V689.2" stroke="#000" stroke-width="2.2" stroke-dasharray="5 3"/>
<path d="M1708 626.6V688.6" stroke="#000" stroke-width="2.2" stroke-dasharray="5 3"/>
</svg>
</body></html>
